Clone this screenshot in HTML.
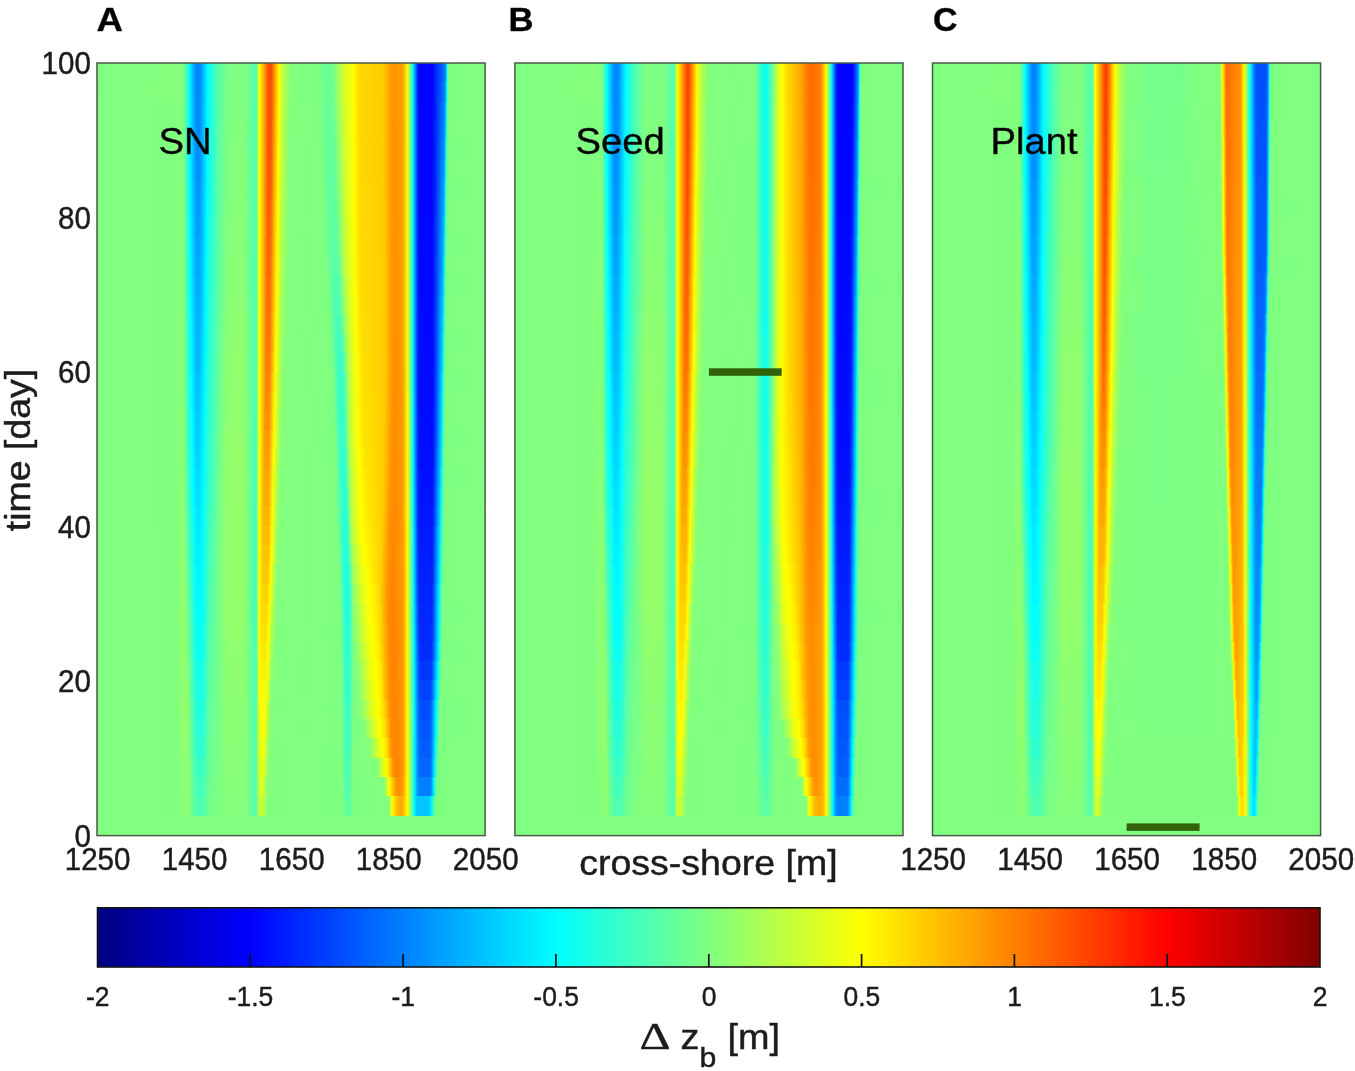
<!DOCTYPE html>
<html lang="en"><head><meta charset="utf-8"><title>Bed level change</title>
<style>
html,body{margin:0;padding:0;background:#fff}
#fig{position:relative;width:1355px;height:1071px;overflow:hidden;background:#fff;font-family:"Liberation Sans",sans-serif}
.pn{position:absolute;top:63px;width:388.1px;height:772.6px;background:#80ff80}
.pn i{position:absolute;left:0;width:100%;display:block}
svg{position:absolute;left:0;top:0}
svg text{font-family:"Liberation Sans",sans-serif;stroke:#1c1c1c;stroke-width:.45px}
</style></head><body>
<div id="fig">
<div class="pn" style="left:97.0px"><i style="top:733px;height:20px;background:linear-gradient(90deg,#80ff80 0%,#80ff7f 20.87%,#8bff74 23.32%,#87ff78 23.71%,#53ffac 25.51%,#4dffb2 26.54%,#52ffad 27.57%,#6eff91 28.73%,#76ff89 29.37%,#85ff7a 33.63%,#86ff79 37.23%,#7fff80 38.65%,#5dffa2 40.07%,#5fa 40.71%,#59ffa6 40.97%,#62ff9d 41.1%,#af5 41.61%,#c3ff3c 41.87%,#cf3 42.26%,#c6ff39 42.64%,#91ff6e 43.67%,#80ff7f 44.45%,#7fff80 62.74%,#79ff86 63.26%,#5fffa0 64.16%,#5affa5 64.8%,#5fffa0 65.19%,#79ff86 65.83%,#7fff80 66.22%,#81ff7e 74.98%,#8bff74 75.24%,#9f6 75.37%,#edff12 75.88%,#fbff04 76.01%,#fff800 76.14%,#ffb400 77.56%,#ffa900 78.46%,#ffad00 78.72%,#ffba00 78.97%,#fffc00 79.88%,#e9ff16 80.13%,#adff52 80.65%,#89ff76 80.91%,#0cfff3 81.68%,#00f9ff 81.81%,#00d1ff 82.2%,#00c8ff 82.45%,#00c7ff 85.29%,#00d1ff 85.8%,#00fcff 86.32%,#0efff1 86.45%,#68ff97 86.96%,#75ff8a 87.09%,#7fff80 87.35%,#80ff80 99.97%)"></i><i style="top:714px;height:19px;background:linear-gradient(90deg,#80ff80 0%,#80ff7f 20.74%,#8dff72 23.32%,#87ff78 23.71%,#4cffb3 25.38%,#42ffbd 26.54%,#49ffb6 27.57%,#69ff96 28.73%,#73ff8c 29.37%,#86ff79 33.63%,#87ff78 37.23%,#7fff80 38.65%,#5cffa3 40.07%,#53ffac 40.71%,#58ffa7 40.97%,#62ff9d 41.1%,#72ff8d 41.23%,#b2ff4d 41.61%,#cfff30 41.87%,#d8ff27 42.13%,#d9ff26 42.39%,#d3ff2c 42.77%,#9bff64 43.67%,#8f7 44.19%,#80ff7f 44.58%,#7fff80 62.74%,#7bff84 63.13%,#57ffa8 64.16%,#52ffad 64.8%,#58ffa7 65.19%,#78ff87 65.83%,#7fff80 66.22%,#81ff7e 73.82%,#94ff6b 74.21%,#df2 74.85%,#feff01 75.24%,#ff9d00 76.91%,#ff9300 77.3%,#ff8e00 77.94%,#ff9700 78.59%,#ffa600 78.97%,#fff900 79.88%,#f8ff07 80.01%,#adff52 80.65%,#89ff76 80.91%,#0bfff4 81.68%,#00f7ff 81.81%,#00a8ff 82.45%,#008eff 82.71%,#0082ff 82.97%,#007fff 83.74%,#0080ff 85.54%,#0085ff 85.93%,#008dff 86.06%,#0af 86.32%,#00f6ff 86.83%,#0dfff2 86.96%,#59ffa6 87.35%,#6cff93 87.48%,#78ff87 87.61%,#7fff80 87.86%,#80ff80 99.97%)"></i><i style="top:695px;height:19px;background:linear-gradient(90deg,#80ff80 0%,#80ff7f 20.74%,#8fff70 23.19%,#8aff75 23.58%,#43ffbc 25.38%,#37ffc8 26.41%,#3fffc0 27.57%,#65ff9a 28.73%,#70ff8f 29.37%,#8f7 33.63%,#89ff76 37.23%,#7fff80 38.65%,#5bffa4 40.07%,#52ffad 40.71%,#58ffa7 40.97%,#62ff9d 41.1%,#73ff8c 41.23%,#baff45 41.61%,#daff25 41.87%,#e4ff1b 42.13%,#e5ff1a 42.51%,#daff25 43.03%,#a9ff56 43.67%,#96ff69 44.06%,#86ff79 44.45%,#80ff7f 44.83%,#7fff80 62.74%,#7aff85 63.13%,#50ffaf 64.16%,#4affb5 64.8%,#51ffae 65.19%,#7f8 65.83%,#7fff80 66.22%,#83ff7c 72.15%,#95ff6a 72.53%,#e3ff1c 73.82%,#fdff02 74.47%,#ffde00 75.24%,#ff9b00 76.14%,#ff8d00 76.4%,#ff8100 77.3%,#ff9400 78.85%,#ffb100 79.23%,#fff700 79.88%,#f8ff07 80.01%,#acff53 80.65%,#8f7 80.91%,#0afff5 81.68%,#00f6ff 81.81%,#0094ff 82.58%,#006fff 82.97%,#0067ff 83.23%,#06f 83.87%,#006aff 85.93%,#0071ff 86.06%,#008cff 86.32%,#00fdff 87.09%,#14ffeb 87.22%,#5effa1 87.61%,#6fff90 87.74%,#79ff86 87.86%,#7fff80 88.12%,#80ff80 99.97%)"></i><i style="top:675px;height:20px;background:linear-gradient(90deg,#80ff80 0%,#80ff7f 20.61%,#90ff6f 22.42%,#91ff6e 23.19%,#89ff76 23.58%,#63ff9c 24.35%,#35ffca 25.51%,#2dffd2 26.02%,#2cffd3 26.67%,#36ffc9 27.57%,#5cffa3 28.6%,#6cff93 29.25%,#89ff76 33.75%,#8aff75 37.23%,#84ff7b 38.26%,#7dff82 38.78%,#58ffa7 40.2%,#52ffad 40.84%,#62ff9d 41.1%,#74ff8b 41.23%,#bfff40 41.61%,#e2ff1d 41.87%,#edff12 42.13%,#ef1 42.64%,#e3ff1c 43.16%,#a7ff58 43.93%,#89ff76 44.58%,#80ff7f 44.96%,#7fff80 62.74%,#78ff87 63.13%,#4cffb3 64.03%,#42ffbd 64.67%,#4affb5 65.19%,#75ff8a 65.83%,#7eff81 66.09%,#83ff7c 70.21%,#e2ff1d 72.66%,#fdff02 73.69%,#ffe200 74.59%,#ff9000 75.88%,#ff8100 76.91%,#ff9500 78.85%,#ffb100 79.23%,#fff700 79.88%,#f8ff07 80.01%,#acff53 80.65%,#8f7 80.91%,#09fff6 81.68%,#00f5ff 81.81%,#0091ff 82.58%,#0069ff 82.97%,#005fff 83.23%,#005dff 84%,#005eff 85.54%,#0064ff 85.93%,#0085ff 86.32%,#00fcff 87.22%,#12ffed 87.35%,#6cff93 87.86%,#7f8 87.99%,#7fff80 88.25%,#80ff80 99.97%)"></i><i style="top:656px;height:19px;background:linear-gradient(90deg,#80ff80 0%,#80ff7f 20.61%,#92ff6d 22.29%,#93ff6c 23.06%,#8dff72 23.45%,#5effa1 24.35%,#2effd1 25.51%,#25ffda 26.54%,#31ffce 27.57%,#59ffa6 28.6%,#69ff96 29.25%,#8bff74 33.75%,#8cff73 37.23%,#85ff7a 38.26%,#80ff7f 38.65%,#57ffa8 40.2%,#51ffae 40.84%,#61ff9e 41.1%,#74ff8b 41.23%,#c5ff3a 41.61%,#e9ff16 41.87%,#f5ff0a 42.13%,#f6ff09 42.77%,#edff12 43.29%,#a5ff5a 44.19%,#8cff73 44.7%,#81ff7e 45.09%,#7fff80 62.74%,#76ff89 63.13%,#46ffb9 64.03%,#3bffc4 64.67%,#45ffba 65.19%,#74ff8b 65.83%,#7eff81 66.09%,#82ff7d 68.93%,#e3ff1c 71.76%,#ff0 73.05%,#ffdf00 74.21%,#ff8e00 75.75%,#ff8100 76.78%,#ff9500 78.85%,#ffb100 79.23%,#fff700 79.88%,#f8ff07 80.01%,#acff53 80.65%,#87ff78 80.91%,#08fff7 81.68%,#00f4ff 81.81%,#007dff 82.71%,#0063ff 82.97%,#0057ff 83.23%,#05f 84%,#05f 85.54%,#005cff 85.93%,#007fff 86.32%,#00fcff 87.35%,#0ffff0 87.48%,#67ff98 87.99%,#75ff8a 88.12%,#7eff81 88.38%,#80ff80 99.97%)"></i><i style="top:637px;height:19px;background:linear-gradient(90deg,#80ff80 0%,#80ff7f 20.61%,#95ff6a 22.29%,#96ff69 22.93%,#8bff74 23.45%,#60ff9f 24.22%,#27ffd8 25.51%,#1fffe0 26.02%,#1effe1 26.54%,#2bffd4 27.57%,#5fa 28.6%,#67ff98 29.25%,#8cff73 33.75%,#89ff76 37.88%,#80ff7f 38.65%,#56ffa9 40.2%,#50ffaf 40.84%,#61ff9e 41.1%,#75ff8a 41.23%,#caff35 41.61%,#f1ff0e 41.87%,#fdff02 42.13%,#ff0 42.9%,#f7ff08 43.42%,#af5 44.32%,#89ff76 44.96%,#80ff7f 45.35%,#7fff80 62.61%,#74ff8b 63.13%,#40ffbf 64.03%,#35ffca 64.67%,#3fffc0 65.19%,#73ff8c 65.83%,#7eff81 66.09%,#85ff7a 67.89%,#e0ff1f 70.86%,#ff0 72.4%,#ffdf00 73.82%,#ff8d00 75.62%,#ff8100 76.66%,#ff9500 78.85%,#ffb100 79.23%,#fff700 79.88%,#f8ff07 80.01%,#9aff65 80.78%,#07fff8 81.68%,#00f3ff 81.81%,#0079ff 82.71%,#005dff 82.97%,#004fff 83.23%,#004cff 84%,#004dff 85.54%,#05f 85.93%,#0078ff 86.32%,#00fcff 87.48%,#0dfff2 87.61%,#63ff9c 88.12%,#72ff8d 88.25%,#7eff81 88.51%,#80ff80 99.97%)"></i><i style="top:617px;height:20px;background:linear-gradient(90deg,#80ff80 0%,#80ff7f 20.48%,#95ff6a 22.67%,#8cff73 23.32%,#4fffb0 24.48%,#20ffdf 25.51%,#17ffe8 26.41%,#26ffd9 27.57%,#52ffad 28.6%,#64ff9b 29.25%,#8eff71 33.75%,#8cff73 37.62%,#83ff7c 38.52%,#58ffa7 40.07%,#4fffb0 40.84%,#60ff9f 41.1%,#74ff8b 41.23%,#e3ff1c 41.74%,#ff0 42%,#fff700 42.39%,#fffb00 43.42%,#f5ff0a 43.67%,#b9ff46 44.32%,#a7ff58 44.58%,#8dff72 45.09%,#81ff7e 45.48%,#7fff80 62.61%,#72ff8d 63.13%,#3cffc3 64.03%,#31ffce 64.67%,#3cffc3 65.19%,#73ff8c 65.83%,#7dff82 66.09%,#83ff7c 67.38%,#e8ff17 70.73%,#ff0 72.02%,#fff600 72.92%,#fe0 73.31%,#ffc800 73.95%,#ff9000 75.37%,#ff8100 76.53%,#ff9500 78.85%,#ffb100 79.23%,#fff700 79.88%,#f8ff07 80.01%,#97ff68 80.78%,#01fffe 81.68%,#0081ff 82.58%,#0053ff 82.97%,#0045ff 83.23%,#0042ff 84%,#0042ff 85.67%,#004bff 86.06%,#0060ff 86.32%,#00f4ff 87.61%,#06fff9 87.74%,#6eff91 88.38%,#79ff86 88.51%,#7fff80 88.77%,#80ff80 99.97%)"></i><i style="top:598px;height:19px;background:linear-gradient(90deg,#80ff80 0%,#80ff7f 20.48%,#94ff6b 22.55%,#87ff78 23.32%,#19ffe6 25.51%,#10ffef 26.41%,#20ffdf 27.57%,#4effb1 28.6%,#61ff9e 29.25%,#8fff70 33.75%,#8eff71 37.62%,#84ff7b 38.52%,#57ffa8 40.07%,#4effb1 40.84%,#5fffa0 41.1%,#74ff8b 41.23%,#e3ff1c 41.74%,#f6ff09 41.87%,#fffb00 42%,#fff100 42.26%,#fff000 42.51%,#fff100 43.42%,#fff900 43.67%,#fcff03 43.8%,#acff53 44.7%,#8cff73 45.35%,#81ff7e 45.74%,#7fff80 62.61%,#7f8 63%,#37ffc8 64.03%,#2dffd2 64.67%,#39ffc6 65.19%,#79ff86 65.96%,#86ff79 67.12%,#e2ff1d 70.09%,#f9ff06 71.24%,#ff0 71.63%,#fff100 72.92%,#ff9100 75.24%,#ff8600 75.75%,#ff8100 76.53%,#ff9500 78.85%,#ffb100 79.23%,#fff700 79.88%,#f8ff07 80.01%,#a7ff58 80.65%,#80ff7f 80.91%,#10ffef 81.55%,#00faff 81.68%,#0078ff 82.58%,#0049ff 82.97%,#0038ff 83.35%,#0037ff 84%,#0037ff 85.8%,#0041ff 86.19%,#0065ff 86.58%,#00fcff 87.86%,#10ffef 87.99%,#69ff96 88.51%,#76ff89 88.64%,#7fff80 88.89%,#80ff80 99.97%)"></i><i style="top:579px;height:19px;background:linear-gradient(90deg,#80ff80 0%,#80ff7f 20.48%,#93ff6c 22.42%,#87ff78 23.19%,#12ffed 25.51%,#08fff7 26.28%,#17ffe8 27.44%,#4affb5 28.6%,#5dffa2 29.25%,#91ff6e 33.75%,#8fff70 37.62%,#84ff7b 38.52%,#56ffa9 40.07%,#4dffb2 40.84%,#5effa1 41.1%,#73ff8c 41.23%,#e4ff1b 41.74%,#f7ff08 41.87%,#fff900 42%,#ffe900 42.39%,#ffe800 43.29%,#ffed00 43.67%,#fffb00 43.93%,#f8ff07 44.06%,#bf4 44.7%,#a9ff56 44.96%,#8aff75 45.61%,#81ff7e 45.99%,#7fff80 62.61%,#75ff8a 63%,#3fc 64.03%,#29ffd6 64.67%,#35ffca 65.19%,#71ff8e 65.83%,#7dff82 66.09%,#8aff75 66.86%,#e2ff1d 69.7%,#feff01 71.12%,#fff100 72.53%,#ff8e00 75.24%,#ff8100 76.4%,#ff9500 78.85%,#ffb100 79.23%,#fff700 79.88%,#f7ff08 80.01%,#a5ff5a 80.65%,#0afff5 81.55%,#00f4ff 81.68%,#0070ff 82.58%,#003fff 82.97%,#002dff 83.35%,#002cff 84%,#002dff 85.93%,#0037ff 86.32%,#005bff 86.7%,#00f4ff 87.99%,#07fff8 88.12%,#63ff9c 88.64%,#72ff8d 88.77%,#7eff81 89.02%,#80ff80 99.97%)"></i><i style="top:560px;height:19px;background:linear-gradient(90deg,#80ff80 0%,#80ff7f 20.36%,#93ff6c 22.29%,#82ff7d 23.19%,#0bfff4 25.51%,#01fffe 26.28%,#12ffed 27.44%,#46ffb9 28.6%,#59ffa6 29.25%,#84ff7b 32.34%,#92ff6d 33.75%,#92ff6d 37.49%,#85ff7a 38.52%,#5fa 40.07%,#4bffb4 40.84%,#5effa1 41.1%,#72ff8d 41.23%,#caff35 41.61%,#f8ff07 41.87%,#fff700 42%,#ffe600 42.26%,#ffe100 42.51%,#ffe200 43.67%,#fff500 44.06%,#feff01 44.19%,#c1ff3e 44.83%,#aeff51 45.09%,#89ff76 45.86%,#80ff7f 46.25%,#7fff80 62.48%,#7f8 62.87%,#2dffd2 64.03%,#25ffda 64.67%,#3fc 65.19%,#72ff8d 65.83%,#7fff80 66.09%,#e3ff1c 69.31%,#feff01 70.73%,#fe0 72.28%,#ffce00 73.43%,#ff8f00 75.11%,#ff8200 76.27%,#ff9600 78.85%,#ffb200 79.23%,#fff800 79.88%,#f7ff08 80.01%,#a2ff5d 80.65%,#03fffc 81.55%,#0054ff 82.71%,#0037ff 82.97%,#002bff 83.23%,#0029ff 84%,#0029ff 85.93%,#0031ff 86.32%,#0053ff 86.7%,#00f9ff 88.12%,#0efff1 88.25%,#6bff94 88.77%,#7f8 88.89%,#7fff80 89.15%,#80ff80 99.97%)"></i><i style="top:540px;height:20px;background:linear-gradient(90deg,#80ff80 0%,#80ff7f 20.36%,#92ff6d 22.29%,#82ff7d 23.06%,#06fff9 25.51%,#0ff 25.77%,#0ff 26.67%,#14ffeb 27.57%,#43ffbc 28.6%,#56ffa9 29.25%,#85ff7a 32.34%,#94ff6b 33.75%,#93ff6c 37.49%,#85ff7a 38.52%,#54ffab 40.07%,#4affb5 40.84%,#5dffa2 41.1%,#72ff8d 41.23%,#e4ff1b 41.74%,#f8ff07 41.87%,#fff700 42%,#ffe300 42.26%,#ffdb00 42.51%,#ffd900 43.55%,#ffdf00 43.93%,#fff900 44.32%,#f9ff06 44.45%,#c8ff37 44.96%,#acff53 45.35%,#8dff72 45.99%,#81ff7e 46.38%,#7fff80 62.36%,#72ff8d 62.87%,#2cffd3 63.9%,#20ffdf 64.55%,#25ffda 64.93%,#32ffcd 65.19%,#76ff89 65.83%,#8cff73 66.22%,#e3ff1c 68.93%,#feff01 70.34%,#ffec00 72.02%,#ffce00 73.31%,#ff8d00 75.11%,#ff8300 76.14%,#ff9700 78.85%,#ffb200 79.23%,#fff800 79.88%,#f7ff08 80.01%,#9fff60 80.65%,#00fcff 81.55%,#0071ff 82.45%,#003cff 82.84%,#0030ff 82.97%,#0027ff 83.23%,#0026ff 83.87%,#0026ff 85.93%,#002dff 86.32%,#004dff 86.7%,#0ff 88.25%,#60ff9f 88.77%,#70ff8f 88.89%,#7eff81 89.15%,#80ff80 99.97%)"></i><i style="top:521px;height:19px;background:linear-gradient(90deg,#80ff80 0%,#80ff7f 20.36%,#91ff6e 22.29%,#7eff81 23.06%,#57ffa8 23.71%,#01fffe 25.51%,#00f7ff 26.15%,#00fdff 26.8%,#1fe 27.57%,#3bffc4 28.47%,#50ffaf 29.12%,#86ff79 32.34%,#95ff6a 33.75%,#95ff6a 37.49%,#86ff79 38.52%,#53ffac 40.07%,#49ffb6 40.84%,#5cffa3 41.1%,#71ff8e 41.23%,#e4ff1b 41.74%,#f8ff07 41.87%,#fff700 42%,#ffe100 42.26%,#ffd500 42.51%,#ffd100 43.67%,#ffd800 44.06%,#ff0 44.58%,#b0ff4f 45.48%,#8cff73 46.25%,#81ff7e 46.64%,#7fff80 62.36%,#74ff8b 62.74%,#2cffd3 63.77%,#1fffe0 64.16%,#1cffe3 64.55%,#2fd 64.93%,#31ffce 65.19%,#80ff7f 65.83%,#98ff67 66.22%,#e3ff1c 68.54%,#feff01 69.96%,#fff100 71.37%,#ffd400 72.92%,#ff8f00 74.98%,#ff8400 76.01%,#ff9800 78.85%,#ffb300 79.23%,#fff800 79.88%,#f6ff09 80.01%,#b0ff4f 80.52%,#87ff78 80.78%,#0dfff2 81.42%,#00f5ff 81.55%,#0068ff 82.45%,#0035ff 82.84%,#0025ff 83.1%,#0023ff 83.87%,#0023ff 85.93%,#0029ff 86.32%,#0046ff 86.7%,#00f4ff 88.25%,#08fff7 88.38%,#69ff96 88.89%,#76ff89 89.02%,#7fff80 89.28%,#80ff80 99.97%)"></i><i style="top:502px;height:19px;background:linear-gradient(90deg,#80ff80 0%,#80ff7f 20.23%,#91ff6e 22.16%,#7fff80 22.93%,#57ffa8 23.58%,#01fffe 25.38%,#00f3ff 26.15%,#0ff 27.05%,#0ffff0 27.57%,#39ffc6 28.47%,#4dffb2 29.12%,#86ff79 32.34%,#95ff6a 33.75%,#95ff6a 37.49%,#86ff79 38.52%,#52ffad 40.07%,#48ffb7 40.84%,#5bffa4 41.1%,#70ff8f 41.23%,#e4ff1b 41.74%,#f8ff07 41.87%,#fff700 42%,#ffd800 42.39%,#ffcd00 42.64%,#ffc900 43.67%,#ffd100 44.19%,#fff900 44.7%,#f9ff06 44.83%,#bfff40 45.48%,#aeff51 45.74%,#8bff74 46.51%,#81ff7e 46.9%,#7fff80 62.23%,#72ff8d 62.61%,#2cffd3 63.64%,#21ffde 64.03%,#1effe1 64.42%,#24ffdb 64.8%,#35ffca 65.06%,#8f7 65.7%,#9cff63 65.96%,#e2ff1d 68.02%,#feff01 69.44%,#ffd000 73.18%,#ff8f00 75.11%,#ff8500 76.14%,#f90 78.85%,#ffb400 79.23%,#fff900 79.88%,#f6ff09 80.01%,#b0ff4f 80.52%,#85ff7a 80.78%,#0bfff4 81.42%,#00f3ff 81.55%,#0063ff 82.45%,#0030ff 82.84%,#02f 83.1%,#001fff 83.87%,#0020ff 86.06%,#002aff 86.45%,#004dff 86.83%,#00faff 88.38%,#10ffef 88.51%,#5dffa2 88.89%,#6fff90 89.02%,#79ff86 89.15%,#7fff80 89.41%,#80ff80 99.97%)"></i><i style="top:482px;height:20px;background:linear-gradient(90deg,#80ff80 0%,#80ff7f 20.23%,#91ff6e 22.16%,#81ff7e 22.8%,#51ffae 23.58%,#01fffe 25.25%,#00f3ff 25.64%,#0ef 26.02%,#00fcff 27.05%,#0dfff2 27.57%,#36ffc9 28.47%,#49ffb6 29.12%,#83ff7c 32.21%,#95ff6a 33.75%,#95ff6a 37.49%,#86ff79 38.52%,#51ffae 40.07%,#47ffb8 40.84%,#5affa5 41.1%,#6fff90 41.23%,#e4ff1b 41.74%,#f8ff07 41.87%,#fff700 42%,#ffd700 42.39%,#ffc400 42.77%,#ffc200 43.93%,#ffcb00 44.32%,#ff0 44.96%,#b3ff4c 45.86%,#8aff75 46.77%,#81ff7e 47.15%,#7fff80 61.97%,#70ff8f 62.48%,#2dffd2 63.51%,#21ffde 64.29%,#24ffdb 64.55%,#31ffce 64.8%,#4cffb3 65.06%,#91ff6e 65.58%,#a6ff59 65.83%,#e4ff1b 67.64%,#ff0 68.93%,#ffcf00 73.31%,#ff9300 75.11%,#ff8600 76.27%,#ff9a00 78.85%,#ffb500 79.23%,#fff900 79.88%,#f6ff09 80.01%,#afff50 80.52%,#84ff7b 80.78%,#08fff7 81.42%,#00f0ff 81.55%,#005dff 82.45%,#002bff 82.84%,#001eff 83.1%,#001cff 83.87%,#001dff 86.06%,#0025ff 86.45%,#0053ff 86.96%,#00d0ff 88.12%,#02fffd 88.51%,#67ff98 89.02%,#75ff8a 89.15%,#7fff80 89.41%,#80ff80 99.97%)"></i><i style="top:463px;height:19px;background:linear-gradient(90deg,#80ff80 0%,#80ff7f 20.23%,#90ff6f 22.16%,#7dff82 22.8%,#4affb5 23.58%,#01fffe 25.12%,#00edff 25.64%,#00e9ff 26.02%,#00edff 26.54%,#00fcff 27.18%,#0afff5 27.57%,#37ffc8 28.6%,#46ffb9 29.12%,#83ff7c 32.21%,#95ff6a 33.75%,#95ff6a 37.49%,#86ff79 38.52%,#52ffad 40.07%,#48ffb7 40.84%,#5bffa4 41.1%,#70ff8f 41.23%,#e4ff1b 41.74%,#f8ff07 41.87%,#fff700 42%,#ffc500 42.64%,#ffbd00 42.9%,#fb0 43.29%,#ffbc00 44.06%,#ffc200 44.32%,#fff500 44.96%,#fdff02 45.09%,#c4ff3b 45.74%,#abff54 46.12%,#8aff75 46.9%,#81ff7e 47.28%,#7fff80 61.84%,#75ff8a 62.23%,#2effd1 63.39%,#23ffdc 64.03%,#2cffd3 64.42%,#3cffc3 64.67%,#57ffa8 64.93%,#9bff64 65.45%,#b0ff4f 65.7%,#e4ff1b 67.12%,#ff0 68.41%,#ffed00 69.83%,#ffcf00 73.43%,#ff9400 75.24%,#ff8700 76.4%,#ff9b00 78.85%,#ffb500 79.23%,#fff900 79.88%,#e5ff1a 80.13%,#9aff65 80.65%,#06fff9 81.42%,#0ef 81.55%,#04f 82.58%,#0026ff 82.84%,#001bff 83.1%,#0019ff 83.74%,#001aff 86.06%,#0020ff 86.45%,#003fff 86.83%,#00f4ff 88.51%,#0afff5 88.64%,#5bffa4 89.02%,#6eff91 89.15%,#79ff86 89.28%,#7fff80 89.54%,#80ff80 99.97%)"></i><i style="top:444px;height:19px;background:linear-gradient(90deg,#80ff80 0%,#80ff7f 20.1%,#8fff70 22.16%,#80ff7f 22.67%,#43ffbc 23.58%,#01fffe 24.99%,#00ebff 25.51%,#00e4ff 26.02%,#00e9ff 26.54%,#00fdff 27.31%,#2fffd0 28.47%,#42ffbd 29.12%,#83ff7c 32.21%,#95ff6a 33.75%,#95ff6a 37.49%,#86ff79 38.52%,#53ffac 40.07%,#4affb5 40.84%,#5cffa3 41.1%,#71ff8e 41.23%,#e4ff1b 41.74%,#f8ff07 41.87%,#fff600 42%,#ffcd00 42.51%,#ffb800 42.9%,#ffb400 43.8%,#ffb600 44.19%,#ffc100 44.45%,#fff700 45.09%,#fbff04 45.22%,#b2ff4d 46.12%,#8aff75 47.02%,#81ff7e 47.41%,#7fff80 61.58%,#73ff8c 62.1%,#2fffd0 63.26%,#25ffda 63.9%,#2effd1 64.29%,#3effc1 64.55%,#59ffa6 64.8%,#9cff63 65.32%,#b8ff47 65.7%,#e3ff1c 66.86%,#ff0 68.15%,#ffea00 69.7%,#ffce00 73.56%,#ff9400 75.37%,#f80 76.53%,#ff9b00 78.85%,#ffb600 79.23%,#fff900 79.88%,#e5ff1a 80.13%,#9f6 80.65%,#04fffb 81.42%,#0053ff 82.45%,#002eff 82.71%,#02f 82.84%,#0018ff 83.1%,#0016ff 83.74%,#0017ff 86.06%,#001cff 86.45%,#002cff 86.7%,#0045ff 86.96%,#00cbff 88.25%,#00fcff 88.64%,#15ffea 88.77%,#64ff9b 89.15%,#74ff8b 89.28%,#7fff80 89.54%,#80ff80 99.97%)"></i><i style="top:424px;height:20px;background:linear-gradient(90deg,#80ff80 0%,#80ff7f 20.1%,#8fff70 22.16%,#7dff82 22.67%,#3cffc3 23.58%,#0ff 24.86%,#00e5ff 25.51%,#00deff 26.02%,#00e7ff 26.67%,#0ff 27.44%,#2cffd3 28.47%,#3affc5 28.99%,#82ff7d 32.21%,#95ff6a 33.75%,#94ff6b 37.49%,#86ff79 38.52%,#54ffab 40.07%,#4bffb4 40.84%,#5dffa2 41.1%,#72ff8d 41.23%,#e4ff1b 41.74%,#f8ff07 41.87%,#fff600 42%,#fc0 42.51%,#ffb400 42.9%,#ffae00 43.16%,#ffad00 43.93%,#ffb800 44.45%,#fff900 45.22%,#f9ff06 45.35%,#b1ff4e 46.25%,#8bff74 47.15%,#81ff7e 47.54%,#7fff80 61.45%,#73ff8c 61.97%,#31ffce 63.13%,#27ffd8 63.77%,#2fffd0 64.16%,#3fffc0 64.42%,#5affa5 64.67%,#9dff62 65.19%,#b2ff4d 65.45%,#e3ff1c 66.74%,#feff01 67.89%,#ffe900 69.44%,#ffd000 73.56%,#ff9500 75.5%,#ff8900 76.66%,#ff9c00 78.85%,#ffb700 79.23%,#fff900 79.88%,#e4ff1b 80.13%,#98ff67 80.65%,#02fffd 81.42%,#0051ff 82.45%,#002cff 82.71%,#001fff 82.84%,#0015ff 83.1%,#0013ff 83.74%,#0014ff 86.19%,#001dff 86.58%,#003eff 86.96%,#00c2ff 88.25%,#05fffa 88.77%,#58ffa7 89.15%,#6cff93 89.28%,#78ff87 89.41%,#7fff80 89.67%,#80ff80 99.97%)"></i><i style="top:405px;height:19px;background:linear-gradient(90deg,#80ff80 0%,#80ff7f 20.1%,#8eff71 22.03%,#81ff7e 22.55%,#35ffca 23.58%,#00feff 24.74%,#00dfff 25.51%,#00d9ff 25.9%,#00e0ff 26.54%,#00fcff 27.44%,#3fc 28.86%,#81ff7e 32.21%,#94ff6b 33.75%,#94ff6b 37.49%,#85ff7a 38.52%,#52ffad 40.2%,#4cffb3 40.84%,#5effa1 41.1%,#72ff8d 41.23%,#e4ff1b 41.74%,#f8ff07 41.87%,#fff600 42%,#ffc200 42.64%,#ffab00 43.03%,#ffa500 43.93%,#ffb000 44.45%,#fffb00 45.35%,#b1ff4e 46.38%,#8bff74 47.28%,#81ff7e 47.67%,#7fff80 61.32%,#73ff8c 61.84%,#37ffc8 62.87%,#29ffd6 63.64%,#31ffce 64.03%,#40ffbf 64.29%,#9dff62 65.06%,#b1ff4e 65.32%,#e4ff1b 66.61%,#ff0 67.77%,#ffe700 69.31%,#ffcf00 73.69%,#ff9500 75.62%,#ff8a00 76.66%,#ff9d00 78.85%,#ffb700 79.23%,#fff900 79.88%,#f5ff0a 80.01%,#acff53 80.52%,#7fff80 80.78%,#0ff 81.42%,#0064ff 82.32%,#002aff 82.71%,#001dff 82.84%,#0012ff 83.1%,#0010ff 83.74%,#01f 86.19%,#0018ff 86.58%,#0037ff 86.96%,#00b9ff 88.25%,#00f6ff 88.77%,#0ffff0 88.89%,#62ff9d 89.28%,#73ff8c 89.41%,#7eff81 89.67%,#80ff80 99.97%)"></i><i style="top:386px;height:19px;background:linear-gradient(90deg,#80ff80 0%,#80ff7f 20.1%,#8eff71 22.03%,#80ff7f 22.55%,#3fc 23.58%,#01fffe 24.61%,#00daff 25.51%,#00d4ff 25.9%,#00dbff 26.54%,#00fdff 27.57%,#25ffda 28.47%,#34ffcb 28.99%,#7fff80 32.21%,#94ff6b 33.75%,#94ff6b 37.49%,#85ff7a 38.52%,#53ffac 40.2%,#4dffb2 40.84%,#5effa1 41.1%,#73ff8c 41.23%,#e4ff1b 41.74%,#f8ff07 41.87%,#fff600 42%,#ffa800 43.03%,#ff9f00 43.42%,#ff9f00 44.06%,#ffa200 44.32%,#ffaf00 44.58%,#fffe00 45.48%,#b1ff4e 46.51%,#81ff7e 47.8%,#7fff80 61.2%,#72ff8d 61.71%,#38ffc7 62.74%,#2cffd3 63.51%,#32ffcd 63.9%,#41ffbe 64.16%,#9eff61 64.93%,#b1ff4e 65.19%,#e1ff1e 66.35%,#feff01 67.51%,#ffe600 69.05%,#ffce00 73.82%,#ff9500 75.75%,#ff8b00 76.78%,#ff9e00 78.85%,#ffb800 79.23%,#fffa00 79.88%,#f5ff0a 80.01%,#abff54 80.52%,#00fdff 81.42%,#0062ff 82.32%,#0027ff 82.71%,#001aff 82.84%,#000fff 83.1%,#000dff 83.74%,#000eff 86.19%,#0014ff 86.58%,#0030ff 86.96%,#00bdff 88.38%,#00d8ff 88.64%,#00feff 88.89%,#5fa 89.28%,#6bff94 89.41%,#78ff87 89.54%,#7fff80 89.8%,#80ff80 99.97%)"></i><i style="top:367px;height:19px;background:linear-gradient(90deg,#80ff80 0%,#80ff7f 20.1%,#8dff72 22.03%,#7eff81 22.55%,#30ffcf 23.58%,#03fffc 24.48%,#00d5ff 25.51%,#00cfff 25.9%,#00daff 26.67%,#0ff 27.7%,#23ffdc 28.47%,#32ffcd 28.99%,#7eff81 32.21%,#93ff6c 33.75%,#93ff6c 37.49%,#84ff7b 38.52%,#53ffac 40.2%,#4dffb2 40.84%,#5fffa0 41.1%,#73ff8c 41.23%,#e4ff1b 41.74%,#f8ff07 41.87%,#fff600 42%,#ffa700 43.03%,#ff9b00 43.29%,#ff9700 43.67%,#ff9800 44.19%,#ff9e00 44.45%,#ffaf00 44.7%,#fff400 45.48%,#feff01 45.61%,#b0ff4f 46.64%,#82ff7d 47.93%,#7fff80 61.07%,#7f8 61.45%,#39ffc6 62.61%,#2effd1 63.39%,#34ffcb 63.77%,#43ffbc 64.03%,#91ff6e 64.67%,#b1ff4e 65.06%,#e2ff1d 66.22%,#fffe00 67.38%,#ffe300 68.93%,#ffcf00 73.82%,#ff9600 75.75%,#ff8c00 76.78%,#ff9f00 78.85%,#ffb900 79.23%,#fffa00 79.88%,#f5ff0a 80.01%,#abff54 80.52%,#00fbff 81.42%,#0061ff 82.32%,#0026ff 82.71%,#0019ff 82.84%,#000eff 83.1%,#000cff 83.74%,#000cff 86.19%,#0012ff 86.58%,#0021ff 86.83%,#0051ff 87.35%,#00cfff 88.64%,#00f2ff 88.89%,#0cfff3 89.02%,#62ff9d 89.41%,#73ff8c 89.54%,#7eff81 89.8%,#80ff80 99.97%)"></i><i style="top:347px;height:20px;background:linear-gradient(90deg,#80ff80 0%,#80ff7f 20.1%,#8cff73 22.03%,#7dff82 22.55%,#2effd1 23.58%,#0ff 24.48%,#00d5ff 25.38%,#00caff 25.9%,#00d5ff 26.67%,#00fcff 27.7%,#25ffda 28.6%,#49ffb6 30.02%,#7dff82 32.21%,#92ff6d 33.75%,#92ff6d 37.49%,#84ff7b 38.52%,#54ffab 40.2%,#4effb1 40.84%,#60ff9f 41.1%,#74ff8b 41.23%,#e4ff1b 41.74%,#f8ff07 41.87%,#fff600 42%,#ff9d00 43.16%,#ff9300 43.42%,#ff9000 43.93%,#ff9200 44.32%,#ff9d00 44.58%,#fff600 45.61%,#fdff02 45.74%,#b0ff4f 46.77%,#82ff7d 48.05%,#7fff80 60.94%,#76ff89 61.32%,#3affc5 62.48%,#30ffcf 63.26%,#35ffca 63.64%,#42ffbd 63.9%,#8fff70 64.55%,#aeff51 64.93%,#e5ff1a 66.22%,#fffe00 67.25%,#ffe200 68.8%,#ffce00 73.95%,#ff9600 75.88%,#ff8c00 76.91%,#ff9f00 78.85%,#ffb900 79.23%,#fffa00 79.88%,#f5ff0a 80.01%,#af5 80.52%,#7cff83 80.78%,#13ffec 81.29%,#00f9ff 81.42%,#005fff 82.32%,#0024ff 82.71%,#0018ff 82.84%,#000dff 83.1%,#000cff 83.74%,#000cff 86.32%,#0016ff 86.7%,#0035ff 87.09%,#00c8ff 88.64%,#00e7ff 88.89%,#00fdff 89.02%,#58ffa7 89.41%,#6dff92 89.54%,#78ff87 89.67%,#7fff80 89.93%,#80ff80 99.97%)"></i><i style="top:328px;height:19px;background:linear-gradient(90deg,#80ff80 0%,#80ff7f 20.1%,#8bff74 22.03%,#87ff78 22.29%,#7cff83 22.55%,#2bffd4 23.58%,#02fffd 24.35%,#00d0ff 25.38%,#00c4ff 25.9%,#00d0ff 26.67%,#00feff 27.83%,#26ffd9 28.73%,#4affb5 30.15%,#7bff84 32.21%,#91ff6e 33.75%,#92ff6d 37.49%,#83ff7c 38.52%,#5fa 40.2%,#4fffb0 40.84%,#60ff9f 41.1%,#74ff8b 41.23%,#cbff34 41.61%,#f8ff07 41.87%,#fff600 42%,#ff9400 43.29%,#ff8b00 43.55%,#ff8900 43.93%,#ff8b00 44.32%,#ff9500 44.58%,#fff800 45.74%,#fbff04 45.86%,#afff50 46.9%,#82ff7d 48.18%,#7fff80 60.81%,#76ff89 61.2%,#3bffc4 62.36%,#32ffcd 63.13%,#37ffc8 63.51%,#42ffbd 63.77%,#5affa5 64.03%,#8aff75 64.42%,#a8ff57 64.8%,#e1ff1e 66.09%,#feff01 67.12%,#ffe000 68.67%,#ffce00 73.95%,#ff9700 75.88%,#ff8c00 76.91%,#ff9f00 78.85%,#ffb900 79.23%,#fffa00 79.88%,#e3ff1c 80.13%,#a9ff56 80.52%,#7aff85 80.78%,#10ffef 81.29%,#00f7ff 81.42%,#005dff 82.32%,#0023ff 82.71%,#0016ff 82.84%,#000cff 83.1%,#000bff 83.74%,#000bff 86.32%,#0015ff 86.7%,#0032ff 87.09%,#00c1ff 88.64%,#00deff 88.89%,#00f2ff 89.02%,#0efff1 89.15%,#4dffb2 89.41%,#6f9 89.54%,#76ff89 89.67%,#7fff80 89.93%,#80ff80 99.97%)"></i><i style="top:309px;height:19px;background:linear-gradient(90deg,#80ff80 0%,#80ff7f 20.1%,#8aff75 22.03%,#86ff79 22.29%,#7aff85 22.55%,#29ffd6 23.58%,#00feff 24.35%,#00cbff 25.38%,#00bfff 25.9%,#00cbff 26.67%,#00faff 27.83%,#24ffdb 28.73%,#4cffb3 30.28%,#7cff83 32.34%,#90ff6f 33.75%,#91ff6e 37.49%,#83ff7c 38.52%,#5fa 40.2%,#50ffaf 40.84%,#61ff9e 41.1%,#75ff8a 41.23%,#cbff34 41.61%,#f8ff07 41.87%,#fff600 42%,#ff9300 43.29%,#ff8300 43.67%,#ff8200 44.06%,#ff8600 44.45%,#ff9400 44.7%,#fffb00 45.86%,#afff50 47.02%,#89ff76 48.05%,#81ff7e 48.44%,#7fff80 60.55%,#75ff8a 61.07%,#3cffc3 62.23%,#34ffcb 63%,#39ffc6 63.39%,#4fb 63.64%,#59ffa6 63.9%,#90ff6f 64.42%,#a8ff57 64.8%,#e3ff1c 66.09%,#fffe00 67.12%,#ffde00 68.67%,#ffcd00 74.08%,#ff9600 76.01%,#ff8d00 77.04%,#ffa000 78.85%,#ffb900 79.23%,#fffa00 79.88%,#e3ff1c 80.13%,#a8ff57 80.52%,#0efff1 81.29%,#00f5ff 81.42%,#005bff 82.32%,#0021ff 82.71%,#0015ff 82.84%,#000cff 83.1%,#000aff 83.74%,#000bff 86.32%,#0013ff 86.7%,#002fff 87.09%,#00c7ff 88.77%,#00e7ff 89.02%,#01fffe 89.15%,#5cffa3 89.54%,#6fff90 89.67%,#7eff81 89.93%,#80ff80 99.97%)"></i><i style="top:289px;height:20px;background:linear-gradient(90deg,#80ff80 0%,#80ff7f 20.1%,#89ff76 22.03%,#85ff7a 22.29%,#79ff86 22.55%,#30ffcf 23.45%,#02fffd 24.22%,#00c6ff 25.38%,#00baff 25.9%,#00bdff 26.28%,#00caff 26.8%,#00feff 27.96%,#21ffde 28.73%,#4bffb4 30.28%,#7bff84 32.34%,#90ff6f 33.75%,#91ff6e 37.49%,#82ff7d 38.52%,#56ffa9 40.2%,#51ffae 40.84%,#61ff9e 41.1%,#75ff8a 41.23%,#e4ff1b 41.74%,#f8ff07 41.87%,#fff600 42%,#ff8900 43.42%,#ff7e00 43.67%,#ff7b00 44.06%,#ff7e00 44.45%,#ff8b00 44.7%,#fffd00 45.99%,#f7ff08 46.12%,#afff50 47.15%,#89ff76 48.18%,#81ff7e 48.57%,#7fff80 60.29%,#75ff8a 60.81%,#41ffbe 61.97%,#39ffc6 62.74%,#40ffbf 63.26%,#4cffb3 63.51%,#8bff74 64.16%,#af5 64.67%,#e3ff1c 65.96%,#fffe00 66.99%,#ffde00 68.54%,#ffcd00 74.08%,#ff9700 76.01%,#ff8d00 77.04%,#ffa000 78.85%,#ffba00 79.23%,#fffa00 79.88%,#e3ff1c 80.13%,#a8ff57 80.52%,#0efff1 81.29%,#00f4ff 81.42%,#005aff 82.32%,#0021ff 82.71%,#0015ff 82.84%,#000bff 83.1%,#000aff 83.74%,#000aff 86.32%,#0012ff 86.7%,#002eff 87.09%,#00beff 88.77%,#00dbff 89.02%,#00f1ff 89.15%,#0ffff0 89.28%,#50ffaf 89.54%,#69ff96 89.67%,#7f8 89.8%,#7fff80 90.05%,#80ff80 99.97%)"></i><i style="top:270px;height:19px;background:linear-gradient(90deg,#80ff80 0%,#80ff7f 20.1%,#89ff76 22.03%,#85ff7a 22.29%,#78ff87 22.55%,#25ffda 23.58%,#00feff 24.22%,#00c2ff 25.38%,#00b6ff 25.9%,#00b8ff 26.28%,#00c6ff 26.8%,#00faff 27.96%,#1fffe0 28.73%,#49ffb6 30.28%,#79ff86 32.34%,#8eff71 33.75%,#8fff70 37.49%,#82ff7d 38.52%,#56ffa9 40.2%,#51ffae 40.84%,#61ff9e 41.1%,#75ff8a 41.23%,#e4ff1b 41.74%,#f8ff07 41.87%,#fff600 42%,#f80 43.42%,#ff7b00 43.67%,#ff7600 44.06%,#ff7800 44.45%,#ff8400 44.7%,#feff01 46.12%,#b4ff4b 47.15%,#8dff72 48.18%,#81ff7e 48.7%,#7fff80 60.04%,#79ff86 60.42%,#46ffb9 61.71%,#3fffc0 62.48%,#4fb 63%,#4effb1 63.26%,#93ff6c 64.03%,#aeff51 64.55%,#e4ff1b 65.83%,#fffe00 66.86%,#fd0 68.41%,#ffcd00 74.08%,#f90 75.88%,#ff8d00 77.04%,#ffa000 78.85%,#ffba00 79.23%,#fffa00 79.88%,#e3ff1c 80.13%,#a8ff57 80.52%,#0efff1 81.29%,#00f4ff 81.42%,#005aff 82.32%,#0021ff 82.71%,#0014ff 82.84%,#000aff 83.1%,#0009ff 83.74%,#000aff 86.32%,#0012ff 86.7%,#002dff 87.09%,#00c1ff 88.89%,#00e3ff 89.15%,#00feff 89.28%,#60ff9f 89.67%,#72ff8d 89.8%,#7eff81 90.05%,#80ff80 99.97%)"></i><i style="top:251px;height:19px;background:linear-gradient(90deg,#80ff80 0%,#80ff7f 20.1%,#8f7 22.03%,#84ff7b 22.29%,#7f8 22.55%,#23ffdc 23.58%,#00fbff 24.22%,#00b8ff 25.51%,#00b1ff 26.02%,#00c7ff 26.93%,#00feff 28.09%,#1dffe2 28.73%,#48ffb7 30.28%,#7f8 32.34%,#8dff72 33.88%,#8eff71 37.49%,#81ff7e 38.52%,#56ffa9 40.2%,#51ffae 40.84%,#61ff9e 41.1%,#75ff8a 41.23%,#e4ff1b 41.74%,#f8ff07 41.87%,#fff600 42%,#ff8000 43.55%,#ff7500 43.8%,#ff7100 44.19%,#ff7400 44.45%,#ff7f00 44.7%,#fffb00 46.12%,#f9ff06 46.25%,#b1ff4e 47.28%,#82ff7d 48.7%,#7fff80 59.78%,#7f8 60.16%,#4effb1 61.32%,#4fb 62.23%,#48ffb7 62.74%,#50ffaf 63%,#62ff9d 63.26%,#91ff6e 63.77%,#a1ff5e 64.03%,#e1ff1e 65.58%,#ff0 66.74%,#fd0 68.28%,#fc0 74.08%,#f90 75.88%,#ff8e00 76.91%,#ffa100 78.85%,#ffba00 79.23%,#fffa00 79.88%,#e3ff1c 80.13%,#a8ff57 80.52%,#0efff1 81.29%,#00f4ff 81.42%,#005aff 82.32%,#0020ff 82.71%,#0014ff 82.84%,#000aff 83.1%,#0009ff 83.74%,#0009ff 86.32%,#0012ff 86.7%,#00b8ff 88.89%,#00d5ff 89.15%,#00edff 89.28%,#0ffff0 89.41%,#53ffac 89.67%,#6bff94 89.8%,#78ff87 89.93%,#7fff80 90.18%,#80ff80 99.97%)"></i><i style="top:232px;height:19px;background:linear-gradient(90deg,#80ff80 0%,#80ff7f 20.1%,#8f7 22.03%,#84ff7b 22.29%,#76ff89 22.55%,#2affd5 23.45%,#01fffe 24.09%,#00baff 25.38%,#00adff 25.9%,#00afff 26.28%,#00beff 26.8%,#00fcff 28.09%,#1bffe4 28.73%,#4affb5 30.4%,#74ff8b 32.34%,#8bff74 33.88%,#8cff73 37.49%,#80ff7f 38.52%,#56ffa9 40.2%,#51ffae 40.84%,#61ff9e 41.1%,#75ff8a 41.23%,#e4ff1b 41.74%,#f8ff07 41.87%,#fff600 42%,#ff7f00 43.55%,#ff7200 43.8%,#ff6d00 44.19%,#ff7300 44.58%,#ff8300 44.83%,#feff01 46.25%,#b5ff4a 47.28%,#81ff7e 48.83%,#7fff80 59.39%,#7aff85 59.78%,#52ffad 61.07%,#4affb5 61.97%,#53ffac 62.74%,#63ff9c 63%,#98ff67 63.64%,#a6ff59 63.9%,#e3ff1c 65.45%,#ff0 66.61%,#ffdc00 68.15%,#ffcd00 73.95%,#f90 75.88%,#ff8e00 76.91%,#ffa100 78.85%,#ffba00 79.23%,#fffa00 79.88%,#e3ff1c 80.13%,#a8ff57 80.52%,#0efff1 81.29%,#00f4ff 81.42%,#005aff 82.32%,#0020ff 82.71%,#0014ff 82.84%,#0009ff 83.1%,#0008ff 83.74%,#0008ff 86.32%,#0012ff 86.7%,#0bf 89.02%,#00dfff 89.28%,#00fdff 89.41%,#2fd 89.54%,#63ff9c 89.8%,#74ff8b 89.93%,#7fff80 90.18%,#80ff80 99.97%)"></i><i style="top:212px;height:20px;background:linear-gradient(90deg,#80ff80 0%,#80ff7f 20.1%,#8f7 22.03%,#83ff7c 22.29%,#75ff8a 22.55%,#1fffe0 23.58%,#00fdff 24.09%,#00b6ff 25.38%,#00a8ff 25.9%,#00abff 26.28%,#00baff 26.8%,#00f9ff 28.09%,#01fffe 28.21%,#19ffe6 28.73%,#49ffb6 30.4%,#72ff8d 32.34%,#89ff76 33.88%,#8bff74 37.49%,#7fff80 38.52%,#56ffa9 40.2%,#51ffae 40.84%,#61ff9e 41.1%,#74ff8b 41.23%,#e4ff1b 41.74%,#f8ff07 41.87%,#fff600 42%,#ff7e00 43.55%,#ff7000 43.8%,#ff6900 44.19%,#ff6e00 44.58%,#ff7d00 44.83%,#fffb00 46.25%,#f9ff06 46.38%,#b3ff4c 47.41%,#81ff7e 48.96%,#7fff80 59.13%,#7aff85 59.52%,#56ffa9 60.81%,#50ffaf 61.71%,#57ffa8 62.48%,#64ff9b 62.74%,#96ff69 63.39%,#af5 63.77%,#e4ff1b 65.32%,#ff0 66.48%,#ffdc00 68.02%,#ffcd00 73.95%,#f90 75.88%,#ff8e00 76.91%,#ffa100 78.85%,#fb0 79.23%,#fffa00 79.88%,#e3ff1c 80.13%,#a8ff57 80.52%,#0efff1 81.29%,#00f4ff 81.42%,#005aff 82.32%,#0020ff 82.71%,#0013ff 82.84%,#0009ff 83.1%,#0007ff 83.74%,#0008ff 86.32%,#0012ff 86.7%,#00b1ff 89.02%,#00d1ff 89.28%,#00ecff 89.41%,#10ffef 89.54%,#57ffa8 89.8%,#6eff91 89.93%,#7eff81 90.18%,#80ff80 99.97%)"></i><i style="top:193px;height:19px;background:linear-gradient(90deg,#80ff80 0%,#80ff7f 20.1%,#87ff78 22.03%,#83ff7c 22.29%,#74ff8b 22.55%,#1dffe2 23.58%,#03fffc 23.96%,#00faff 24.09%,#00b1ff 25.38%,#00a7ff 25.64%,#00a4ff 26.02%,#0af 26.41%,#0bf 26.93%,#00feff 28.21%,#1bffe4 28.86%,#48ffb7 30.4%,#71ff8e 32.34%,#8f7 33.88%,#8aff75 37.49%,#7eff81 38.52%,#58ffa7 40.07%,#51ffae 40.84%,#61ff9e 41.1%,#75ff8a 41.23%,#e4ff1b 41.74%,#f8ff07 41.87%,#fff600 42%,#ff7500 43.67%,#ff6900 43.93%,#ff6500 44.32%,#ff6a00 44.58%,#ff7800 44.83%,#feff01 46.38%,#b1ff4e 47.54%,#81ff7e 49.09%,#7fff80 58.75%,#79ff86 59.26%,#5bffa4 60.55%,#5fa 61.45%,#5bffa4 62.23%,#67ff98 62.48%,#95ff6a 63.13%,#a9ff56 63.51%,#e1ff1e 65.06%,#ff0 66.35%,#ffdb00 68.02%,#ffcd00 73.95%,#f90 75.88%,#ff8f00 76.91%,#ffa200 78.85%,#fb0 79.23%,#fffa00 79.88%,#e3ff1c 80.13%,#a8ff57 80.52%,#0efff1 81.29%,#00f4ff 81.42%,#005aff 82.32%,#0020ff 82.71%,#0013ff 82.84%,#0008ff 83.1%,#0007ff 83.74%,#0007ff 86.19%,#01f 86.7%,#00a9ff 89.02%,#00c3ff 89.28%,#00dbff 89.41%,#00fcff 89.54%,#24ffdb 89.67%,#4affb5 89.8%,#65ff9a 89.93%,#76ff89 90.05%,#7fff80 90.31%,#80ff80 99.97%)"></i><i style="top:174px;height:19px;background:linear-gradient(90deg,#80ff80 0%,#80ff7f 20.1%,#87ff78 22.03%,#82ff7d 22.29%,#74ff8b 22.55%,#25ffda 23.45%,#01fffe 23.96%,#00adff 25.38%,#00a0ff 25.9%,#00a2ff 26.28%,#00b2ff 26.8%,#00cfff 27.44%,#00fbff 28.21%,#19ffe6 28.86%,#47ffb8 30.4%,#71ff8e 32.34%,#86ff79 33.75%,#89ff76 37.49%,#7eff81 38.52%,#59ffa6 40.07%,#51ffae 40.84%,#62ff9d 41.1%,#75ff8a 41.23%,#e4ff1b 41.74%,#f8ff07 41.87%,#fff600 42%,#ff7500 43.67%,#f60 43.93%,#ff6100 44.32%,#ff6500 44.58%,#ff7200 44.83%,#fff000 46.25%,#f9ff06 46.51%,#c3ff3c 47.28%,#afff50 47.67%,#81ff7e 49.21%,#7fff80 58.49%,#5fffa0 60.29%,#5affa5 61.32%,#62ff9d 62.1%,#9aff65 63%,#abff54 63.39%,#e1ff1e 64.93%,#feff01 66.22%,#ffdb00 67.89%,#fc0 73.95%,#ff9800 75.88%,#ff8f00 76.91%,#ffa200 78.85%,#fb0 79.23%,#fffa00 79.88%,#e3ff1c 80.13%,#a8ff57 80.52%,#0efff1 81.29%,#00f4ff 81.42%,#005aff 82.32%,#001fff 82.71%,#0013ff 82.84%,#0008ff 83.1%,#0006ff 83.74%,#0006ff 86.19%,#01f 86.7%,#0af 89.15%,#0cf 89.41%,#00ebff 89.54%,#13ffec 89.67%,#5cffa3 89.93%,#71ff8e 90.05%,#7eff81 90.31%,#80ff80 99.97%)"></i><i style="top:154px;height:20px;background:linear-gradient(90deg,#80ff80 0%,#80ff7f 20.1%,#86ff79 22.03%,#81ff7e 22.29%,#73ff8c 22.55%,#23ffdc 23.45%,#00fdff 23.96%,#00a9ff 25.38%,#009bff 25.9%,#009eff 26.28%,#00aeff 26.8%,#00cbff 27.44%,#00f8ff 28.21%,#01fffe 28.34%,#17ffe8 28.86%,#45ffba 30.4%,#70ff8f 32.34%,#85ff7a 33.75%,#8f7 37.49%,#7dff82 38.52%,#59ffa6 40.07%,#52ffad 40.84%,#62ff9d 41.1%,#75ff8a 41.23%,#e4ff1b 41.74%,#f8ff07 41.87%,#fff600 42%,#ff6c00 43.8%,#ff6000 44.06%,#ff5d00 44.32%,#ff6000 44.58%,#ff6c00 44.83%,#feff01 46.51%,#b2ff4d 47.67%,#82ff7d 49.21%,#7fff80 58.36%,#60ff9f 60.16%,#5cffa3 61.07%,#64ff9b 61.97%,#9aff65 62.87%,#abff54 63.26%,#e3ff1c 64.93%,#ff0 66.22%,#ffda00 67.89%,#fc0 73.95%,#ff9b00 75.75%,#ff9000 76.91%,#ffa300 78.85%,#fb0 79.23%,#fffa00 79.88%,#e3ff1c 80.13%,#a8ff57 80.52%,#0efff1 81.29%,#00f4ff 81.42%,#005aff 82.32%,#001fff 82.71%,#0012ff 82.84%,#0007ff 83.1%,#0006ff 83.74%,#0006ff 86.19%,#01f 86.7%,#00a1ff 89.15%,#00bdff 89.41%,#00d8ff 89.54%,#00fdff 89.67%,#4dffb2 89.93%,#68ff97 90.05%,#7f8 90.18%,#7fff80 90.44%,#80ff80 99.97%)"></i><i style="top:135px;height:19px;background:linear-gradient(90deg,#80ff80 0%,#80ff7f 20.1%,#86ff79 22.03%,#81ff7e 22.29%,#72ff8d 22.55%,#04fffb 23.83%,#00a5ff 25.38%,#0097ff 25.9%,#009dff 26.41%,#00afff 26.93%,#00fdff 28.34%,#4fb 30.4%,#6fff90 32.34%,#83ff7c 33.75%,#87ff78 37.49%,#7dff82 38.52%,#59ffa6 40.07%,#52ffad 40.84%,#62ff9d 41.1%,#75ff8a 41.23%,#e4ff1b 41.74%,#f8ff07 41.87%,#fff600 42%,#ff6b00 43.8%,#ff5e00 44.06%,#ff5900 44.32%,#ff5b00 44.58%,#ff6700 44.83%,#fff000 46.38%,#f9ff06 46.64%,#b0ff4f 47.8%,#81ff7e 49.34%,#7fff80 58.1%,#63ff9c 59.91%,#5effa1 60.94%,#6f9 61.84%,#abff54 63.13%,#e2ff1d 64.8%,#ff0 66.22%,#ffda00 67.89%,#fc0 73.95%,#ff9b00 75.75%,#ff9000 76.78%,#ffa300 78.85%,#ffbc00 79.23%,#fffa00 79.88%,#e3ff1c 80.13%,#a8ff57 80.52%,#0efff1 81.29%,#00f4ff 81.42%,#005aff 82.32%,#001fff 82.71%,#0012ff 82.84%,#0006ff 83.1%,#0005ff 83.74%,#0005ff 86.19%,#01f 86.7%,#00a3ff 89.28%,#00b1ff 89.41%,#00c8ff 89.54%,#00eaff 89.67%,#15ffea 89.8%,#3fffc0 89.93%,#5fffa0 90.05%,#73ff8c 90.18%,#7fff80 90.44%,#80ff80 99.97%)"></i><i style="top:116px;height:19px;background:linear-gradient(90deg,#80ff80 0%,#80ff7f 20.1%,#86ff79 22.03%,#80ff7f 22.29%,#71ff8e 22.55%,#02fffd 23.83%,#00a1ff 25.38%,#0092ff 25.9%,#0098ff 26.41%,#00abff 26.93%,#00fbff 28.34%,#43ffbc 30.4%,#6bff94 32.21%,#82ff7d 33.75%,#85ff7a 37.49%,#7cff83 38.52%,#59ffa6 40.07%,#53ffac 40.84%,#63ff9c 41.1%,#76ff89 41.23%,#e4ff1b 41.74%,#f8ff07 41.87%,#fff600 42%,#ff6b00 43.8%,#ff5c00 44.06%,#f50 44.45%,#ff5b00 44.7%,#ff6b00 44.96%,#feff01 46.64%,#b4ff4b 47.8%,#81ff7e 49.47%,#7fff80 57.85%,#63ff9c 59.78%,#5fffa0 60.81%,#64ff9b 61.58%,#a0ff5f 62.74%,#afff50 63.13%,#e3ff1c 64.8%,#fffe00 66.22%,#ffda00 67.77%,#ffcd00 73.82%,#ff9b00 75.75%,#ff9000 76.78%,#ffa300 78.85%,#ffbc00 79.23%,#fffb00 79.88%,#e3ff1c 80.13%,#a8ff57 80.52%,#0efff1 81.29%,#00f4ff 81.42%,#0045ff 82.45%,#01f 82.84%,#0006ff 83.1%,#0004ff 83.74%,#0005ff 86.19%,#0010ff 86.7%,#009aff 89.28%,#00b9ff 89.54%,#00d7ff 89.67%,#01fffe 89.8%,#52ffad 90.05%,#6cff93 90.18%,#79ff86 90.31%,#7eff81 90.44%,#80ff80 99.97%)"></i><i style="top:96px;height:20px;background:linear-gradient(90deg,#80ff80 0%,#80ff7f 20.1%,#85ff7a 22.03%,#80ff7f 22.29%,#70ff8f 22.55%,#1dffe2 23.45%,#00feff 23.83%,#009dff 25.38%,#008eff 25.9%,#0094ff 26.41%,#00a7ff 26.93%,#00f8ff 28.34%,#0ff 28.47%,#45ffba 30.53%,#6bff94 32.21%,#81ff7e 33.75%,#84ff7b 37.62%,#7cff83 38.52%,#5affa5 40.07%,#53ffac 40.84%,#63ff9c 41.1%,#76ff89 41.23%,#e4ff1b 41.74%,#f8ff07 41.87%,#fff600 42%,#ff6100 43.93%,#f50 44.19%,#ff5100 44.45%,#ff5600 44.7%,#ff6500 44.96%,#fff000 46.51%,#faff05 46.77%,#b2ff4d 47.93%,#81ff7e 49.6%,#7fff80 57.59%,#64ff9b 59.65%,#61ff9e 60.68%,#6f9 61.45%,#afff50 63%,#e5ff1a 64.8%,#fffe00 66.22%,#ffd900 67.77%,#fc0 73.82%,#ff9a00 75.75%,#ff9100 76.78%,#ffa400 78.85%,#ffbc00 79.23%,#fffb00 79.88%,#e3ff1c 80.13%,#a8ff57 80.52%,#0efff1 81.29%,#00f4ff 81.42%,#0045ff 82.45%,#01f 82.84%,#0005ff 83.1%,#0004ff 83.74%,#0004ff 86.19%,#0010ff 86.7%,#009aff 89.41%,#0af 89.54%,#00c4ff 89.67%,#00eaff 89.8%,#18ffe7 89.93%,#42ffbd 90.05%,#62ff9d 90.18%,#74ff8b 90.31%,#7fff80 90.57%,#80ff80 99.97%)"></i><i style="top:77px;height:19px;background:linear-gradient(90deg,#80ff80 0%,#80ff7f 20.1%,#85ff7a 22.03%,#7fff80 22.29%,#6fff90 22.55%,#1cffe3 23.45%,#00fcff 23.83%,#09f 25.38%,#008aff 25.9%,#0090ff 26.41%,#00a4ff 26.93%,#00fdff 28.47%,#4fb 30.53%,#6aff95 32.21%,#80ff7f 33.75%,#83ff7c 37.62%,#7bff84 38.52%,#5affa5 40.07%,#53ffac 40.84%,#63ff9c 41.1%,#76ff89 41.23%,#cbff34 41.61%,#f8ff07 41.87%,#fff600 42%,#ff6100 43.93%,#ff5200 44.19%,#ff4e00 44.45%,#ff5200 44.7%,#ff6000 44.96%,#feff01 46.77%,#b0ff4f 48.05%,#81ff7e 49.73%,#7fff80 57.46%,#67ff98 59.39%,#63ff9c 60.55%,#68ff97 61.32%,#aeff51 62.87%,#e3ff1c 64.67%,#fffe00 66.22%,#ffd900 67.77%,#fc0 73.82%,#ff9a00 75.75%,#ff9100 76.78%,#ffa400 78.85%,#ffbc00 79.23%,#fffb00 79.88%,#e3ff1c 80.13%,#a8ff57 80.52%,#0efff1 81.29%,#00f4ff 81.42%,#0045ff 82.45%,#01f 82.84%,#0005ff 83.1%,#0003ff 83.87%,#0003ff 86.19%,#000fff 86.7%,#0092ff 89.41%,#009eff 89.54%,#00b4ff 89.67%,#04fffb 89.93%,#32ffcd 90.05%,#58ffa7 90.18%,#70ff8f 90.31%,#7eff81 90.57%,#80ff80 99.97%)"></i><i style="top:58px;height:19px;background:linear-gradient(90deg,#80ff80 0%,#80ff7f 20.1%,#84ff7b 22.03%,#7fff80 22.29%,#6fff90 22.55%,#1bffe4 23.45%,#00fbff 23.83%,#0097ff 25.38%,#08f 25.9%,#008eff 26.41%,#00a2ff 26.93%,#00fcff 28.47%,#4fb 30.53%,#69ff96 32.21%,#7fff80 33.75%,#82ff7d 37.62%,#7bff84 38.52%,#5affa5 40.07%,#54ffab 40.84%,#64ff9b 41.1%,#76ff89 41.23%,#cbff34 41.61%,#f8ff07 41.87%,#fff600 42%,#ff6100 43.93%,#ff5200 44.19%,#ff4c00 44.45%,#ff4f00 44.7%,#ff5d00 44.96%,#fff200 46.64%,#f8ff07 46.9%,#b2ff4d 48.05%,#81ff7e 49.73%,#7fff80 57.2%,#68ff97 59.26%,#65ff9a 60.42%,#6bff94 61.2%,#aeff51 62.74%,#e5ff1a 64.67%,#feff01 66.09%,#ffd800 67.77%,#ffcb00 73.82%,#ff9a00 75.75%,#ff9100 76.78%,#ffa400 78.85%,#ffbd00 79.23%,#fffb00 79.88%,#e3ff1c 80.13%,#a8ff57 80.52%,#0efff1 81.29%,#00f4ff 81.42%,#0045ff 82.45%,#01f 82.84%,#0004ff 83.1%,#0002ff 83.87%,#0003ff 86.19%,#000fff 86.7%,#0089ff 89.41%,#00a5ff 89.67%,#00c2ff 89.8%,#00ecff 89.93%,#1dffe2 90.05%,#47ffb8 90.18%,#6f9 90.31%,#76ff89 90.44%,#7fff80 90.7%,#80ff80 99.97%)"></i><i style="top:39px;height:19px;background:linear-gradient(90deg,#80ff80 0%,#80ff7f 20.1%,#84ff7b 22.03%,#7eff81 22.29%,#6eff91 22.55%,#0ffff0 23.58%,#00faff 23.83%,#0095ff 25.38%,#0086ff 25.9%,#008dff 26.41%,#00a0ff 26.93%,#00fbff 28.47%,#43ffbc 30.53%,#68ff97 32.21%,#7eff81 33.75%,#80ff7f 37.75%,#79ff86 38.65%,#5bffa4 40.07%,#54ffab 40.84%,#64ff9b 41.1%,#7f8 41.23%,#cbff34 41.61%,#f8ff07 41.87%,#fff600 42%,#ff6100 43.93%,#ff4d00 44.32%,#ff4b00 44.58%,#ff5100 44.83%,#ff6300 45.09%,#fe0 46.64%,#fcff03 46.9%,#b0ff4f 48.18%,#81ff7e 49.86%,#7fff80 56.94%,#6aff95 59.01%,#6f9 60.16%,#6dff92 61.07%,#b1ff4e 62.74%,#e3ff1c 64.55%,#feff01 66.09%,#ffd800 67.77%,#ffcb00 73.82%,#ff9d00 75.62%,#ff9200 76.78%,#ffa500 78.85%,#ffbd00 79.23%,#fffb00 79.88%,#e3ff1c 80.13%,#a8ff57 80.52%,#0efff1 81.29%,#00f4ff 81.42%,#0045ff 82.45%,#0010ff 82.84%,#0004ff 83.1%,#0002ff 83.87%,#0002ff 86.19%,#0013ff 86.83%,#0089ff 89.54%,#0097ff 89.67%,#00b0ff 89.8%,#07fff8 90.05%,#37ffc8 90.18%,#5cffa3 90.31%,#72ff8d 90.44%,#7fff80 90.7%,#80ff80 99.97%)"></i><i style="top:19px;height:20px;background:linear-gradient(90deg,#80ff80 0%,#84ff7b 22.03%,#7eff81 22.29%,#6dff92 22.55%,#04fffb 23.71%,#0094ff 25.38%,#0084ff 25.9%,#008bff 26.41%,#009fff 26.93%,#00faff 28.47%,#02fffd 28.6%,#43ffbc 30.53%,#68ff97 32.21%,#7dff82 33.75%,#7fff80 37.88%,#79ff86 38.65%,#59ffa6 40.2%,#5fa 40.84%,#64ff9b 41.1%,#7f8 41.23%,#cbff34 41.61%,#f8ff07 41.87%,#fff600 42%,#ff5800 44.06%,#ff4c00 44.32%,#ff4900 44.58%,#ff4f00 44.83%,#ff5f00 45.09%,#ff0 46.9%,#b2ff4d 48.18%,#82ff7d 49.86%,#7fff80 56.82%,#6bff94 58.88%,#68ff97 60.04%,#6fff90 60.94%,#b1ff4e 62.61%,#e5ff1a 64.55%,#ff0 66.09%,#ffd700 67.77%,#ffcb00 73.82%,#ff9d00 75.62%,#ff9200 76.66%,#ffa500 78.85%,#ffbd00 79.23%,#fffb00 79.88%,#e3ff1c 80.13%,#a8ff57 80.52%,#0efff1 81.29%,#00f4ff 81.42%,#0045ff 82.45%,#0010ff 82.84%,#0003ff 83.1%,#0001ff 83.87%,#0005ff 86.45%,#006fff 89.15%,#0081ff 89.54%,#008cff 89.67%,#00a0ff 89.8%,#00c2ff 89.93%,#00f0ff 90.05%,#23ffdc 90.18%,#4dffb2 90.31%,#6aff95 90.44%,#78ff87 90.57%,#7fff80 90.83%,#80ff80 99.97%)"></i><i style="top:0px;height:19px;background:linear-gradient(90deg,#80ff80 0%,#83ff7c 22.03%,#7dff82 22.29%,#6dff92 22.55%,#03fffc 23.71%,#0092ff 25.38%,#0082ff 25.9%,#0089ff 26.41%,#009dff 26.93%,#00f9ff 28.47%,#01fffe 28.6%,#42ffbd 30.53%,#67ff98 32.21%,#7cff83 33.75%,#7cff83 38.13%,#78ff87 38.65%,#5affa5 40.2%,#5fa 40.84%,#65ff9a 41.1%,#7f8 41.23%,#cbff34 41.61%,#f8ff07 41.87%,#fff600 42%,#ff5800 44.06%,#ff4b00 44.32%,#ff4700 44.58%,#ff4c00 44.83%,#ff5c00 45.09%,#fff100 46.77%,#f9ff06 47.02%,#b5ff4a 48.18%,#81ff7e 49.99%,#7fff80 56.56%,#6cff93 58.75%,#6aff95 59.91%,#71ff8e 60.81%,#b4ff4b 62.61%,#e3ff1c 64.42%,#ff0 66.09%,#ffd700 67.77%,#fc0 73.69%,#ff9c00 75.62%,#ff9200 76.66%,#ffa500 78.85%,#ffbd00 79.23%,#fffb00 79.88%,#e3ff1c 80.13%,#a8ff57 80.52%,#0efff1 81.29%,#00f4ff 81.42%,#0045ff 82.45%,#0010ff 82.84%,#0003ff 83.1%,#0001ff 83.87%,#0005ff 86.45%,#0072ff 89.41%,#0080ff 89.67%,#0090ff 89.8%,#00adff 89.93%,#00d7ff 90.05%,#0bfff4 90.18%,#3cffc3 90.31%,#5fffa0 90.44%,#73ff8c 90.57%,#7fff80 90.83%,#80ff80 99.97%)"></i></div>
<div class="pn" style="left:514.9px"><i style="top:733px;height:20px;background:linear-gradient(90deg,#80ff80 0%,#80ff7f 20.87%,#8bff74 23.32%,#87ff78 23.71%,#53ffac 25.51%,#4dffb2 26.54%,#52ffad 27.57%,#6eff91 28.73%,#76ff89 29.37%,#85ff7a 33.63%,#86ff79 37.23%,#7fff80 38.65%,#5dffa2 40.07%,#5fa 40.71%,#59ffa6 40.97%,#62ff9d 41.1%,#adff52 41.61%,#c7ff38 41.87%,#cfff30 42.26%,#caff35 42.64%,#a3ff5c 43.29%,#92ff6d 43.67%,#80ff7f 44.45%,#7fff80 61.84%,#61ff9e 63.77%,#59ffa6 64.67%,#5effa1 65.19%,#7fff80 66.86%,#81ff7e 74.85%,#8dff72 75.11%,#9cff63 75.24%,#dfff20 75.62%,#feff01 75.88%,#ffb600 77.3%,#ffa900 78.2%,#ffb400 79.36%,#fff700 80.13%,#f9ff06 80.26%,#a4ff5b 80.91%,#03fffc 81.81%,#00b0ff 82.45%,#008bff 82.84%,#0081ff 83.1%,#007fff 83.87%,#0084ff 85.67%,#008aff 85.8%,#00a4ff 86.06%,#00feff 86.7%,#15ffea 86.83%,#60ff9f 87.22%,#71ff8e 87.35%,#7aff85 87.48%,#7fff80 87.74%,#80ff80 99.97%)"></i><i style="top:714px;height:19px;background:linear-gradient(90deg,#80ff80 0%,#80ff7f 20.74%,#8dff72 23.32%,#87ff78 23.71%,#4cffb3 25.38%,#42ffbd 26.54%,#49ffb6 27.57%,#69ff96 28.73%,#73ff8c 29.37%,#86ff79 33.63%,#87ff78 37.23%,#7fff80 38.65%,#5cffa3 40.07%,#53ffac 40.71%,#59ffa6 40.97%,#62ff9d 41.1%,#73ff8c 41.23%,#b5ff4a 41.61%,#d3ff2c 41.87%,#dcff23 42.13%,#df2 42.39%,#d7ff28 42.77%,#9dff62 43.67%,#8f7 44.19%,#80ff7f 44.58%,#7fff80 61.71%,#7bff84 62.23%,#58ffa7 63.9%,#51ffae 64.67%,#56ffa9 65.19%,#7fff80 66.86%,#81ff7e 73.69%,#96ff69 74.08%,#e0ff1f 74.72%,#ff0 75.11%,#ffa200 76.78%,#ff9800 77.17%,#ff9400 77.81%,#ffac00 79.23%,#ffbc00 79.49%,#fff700 80.13%,#f9ff06 80.26%,#a4ff5b 80.91%,#02fffd 81.81%,#009eff 82.58%,#07f 82.97%,#006dff 83.23%,#006bff 84%,#006bff 85.42%,#0075ff 85.8%,#00a0ff 86.19%,#00fdff 86.83%,#14ffeb 86.96%,#5fffa0 87.35%,#70ff8f 87.48%,#79ff86 87.61%,#7fff80 87.86%,#80ff80 99.97%)"></i><i style="top:695px;height:19px;background:linear-gradient(90deg,#80ff80 0%,#80ff7f 20.74%,#8fff70 23.19%,#8aff75 23.58%,#43ffbc 25.38%,#37ffc8 26.41%,#3fffc0 27.57%,#65ff9a 28.73%,#70ff8f 29.37%,#8f7 33.63%,#89ff76 37.23%,#7fff80 38.65%,#5bffa4 40.07%,#52ffad 40.71%,#58ffa7 40.97%,#62ff9d 41.1%,#74ff8b 41.23%,#bdff42 41.61%,#dfff20 41.87%,#e9ff16 42.13%,#eaff15 42.51%,#dfff20 43.03%,#abff54 43.67%,#97ff68 44.06%,#87ff78 44.45%,#80ff7f 44.83%,#7fff80 61.71%,#79ff86 62.23%,#50ffaf 63.9%,#49ffb6 64.67%,#4fffb0 65.19%,#79ff86 66.48%,#7fff80 66.86%,#81ff7e 71.89%,#8fff70 72.28%,#e5ff1a 73.69%,#feff01 74.34%,#ffdf00 75.11%,#ff9800 76.27%,#ff8b00 77.3%,#ffa500 79.1%,#ffbc00 79.49%,#fff700 80.13%,#f9ff06 80.26%,#a3ff5c 80.91%,#0ff 81.81%,#009aff 82.58%,#0070ff 82.97%,#005fff 83.35%,#005eff 84%,#005fff 85.42%,#0068ff 85.8%,#0090ff 86.19%,#00fdff 86.96%,#14ffeb 87.09%,#5dffa2 87.48%,#6fff90 87.61%,#79ff86 87.74%,#7fff80 87.99%,#80ff80 99.97%)"></i><i style="top:675px;height:20px;background:linear-gradient(90deg,#80ff80 0%,#80ff7f 20.61%,#90ff6f 22.42%,#91ff6e 23.19%,#89ff76 23.58%,#63ff9c 24.35%,#39ffc6 25.38%,#2cffd3 26.28%,#36ffc9 27.57%,#5cffa3 28.6%,#6cff93 29.25%,#89ff76 33.75%,#8aff75 37.23%,#84ff7b 38.26%,#7dff82 38.78%,#5affa5 40.07%,#51ffae 40.71%,#57ffa8 40.97%,#62ff9d 41.1%,#75ff8a 41.23%,#c3ff3c 41.61%,#e7ff18 41.87%,#f2ff0d 42.13%,#f3ff0c 42.64%,#e8ff17 43.16%,#a9ff56 43.93%,#89ff76 44.58%,#80ff7f 44.96%,#7fff80 61.71%,#78ff87 62.23%,#4bffb4 63.77%,#40ffbf 64.67%,#48ffb7 65.19%,#7eff81 66.74%,#82ff7d 70.09%,#e0ff1f 72.53%,#feff01 73.69%,#ffe000 74.59%,#f90 75.88%,#ff8b00 76.91%,#ff9b00 78.59%,#ffa500 79.1%,#ffbc00 79.49%,#fff700 80.13%,#f9ff06 80.26%,#e9ff16 80.39%,#a3ff5c 80.91%,#00feff 81.81%,#0097ff 82.58%,#006bff 82.97%,#0059ff 83.35%,#0058ff 84%,#0059ff 85.42%,#0061ff 85.8%,#0086ff 86.19%,#0ff 87.09%,#5cffa3 87.61%,#6eff91 87.74%,#79ff86 87.86%,#7fff80 88.12%,#80ff80 99.97%)"></i><i style="top:656px;height:19px;background:linear-gradient(90deg,#80ff80 0%,#80ff7f 20.61%,#92ff6d 22.29%,#93ff6c 23.06%,#8dff72 23.45%,#5effa1 24.35%,#2effd1 25.51%,#25ffda 26.54%,#31ffce 27.57%,#59ffa6 28.6%,#69ff96 29.25%,#8bff74 33.75%,#8cff73 37.23%,#85ff7a 38.26%,#80ff7f 38.65%,#57ffa8 40.2%,#51ffae 40.84%,#62ff9d 41.1%,#75ff8a 41.23%,#c8ff37 41.61%,#efff10 41.87%,#fbff04 42.13%,#fcff03 42.77%,#f3ff0c 43.29%,#a7ff58 44.19%,#8cff73 44.7%,#81ff7e 45.09%,#7fff80 61.71%,#7f8 62.23%,#45ffba 63.77%,#3affc5 64.67%,#43ffbc 65.19%,#7eff81 66.74%,#80ff7f 68.67%,#85ff7a 69.05%,#e3ff1c 71.76%,#ff0 73.05%,#ffde00 74.21%,#ff9700 75.75%,#ff8b00 76.78%,#ff9b00 78.59%,#ffa500 79.1%,#ffbc00 79.49%,#fff700 80.13%,#f9ff06 80.26%,#e9ff16 80.39%,#a2ff5d 80.91%,#00fdff 81.81%,#0094ff 82.58%,#06f 82.97%,#0054ff 83.35%,#0052ff 84%,#0053ff 85.42%,#005aff 85.8%,#007cff 86.19%,#01fffe 87.22%,#6cff93 87.86%,#78ff87 87.99%,#7fff80 88.25%,#80ff80 99.97%)"></i><i style="top:637px;height:19px;background:linear-gradient(90deg,#80ff80 0%,#80ff7f 20.61%,#95ff6a 22.29%,#96ff69 22.93%,#8bff74 23.45%,#60ff9f 24.22%,#27ffd8 25.51%,#1fffe0 26.02%,#1effe1 26.54%,#2bffd4 27.57%,#5fa 28.6%,#67ff98 29.25%,#8cff73 33.75%,#89ff76 37.88%,#80ff7f 38.65%,#56ffa9 40.2%,#50ffaf 40.84%,#61ff9e 41.1%,#75ff8a 41.23%,#e2ff1d 41.74%,#feff01 42%,#fff900 42.51%,#fffe00 43.29%,#efff10 43.55%,#bdff42 44.06%,#af5 44.32%,#89ff76 44.96%,#80ff7f 45.35%,#7fff80 61.71%,#79ff86 62.1%,#40ffbf 63.77%,#3fc 64.67%,#3fffc0 65.19%,#7cff83 66.61%,#84ff7b 67.89%,#e2ff1d 70.99%,#feff01 72.4%,#ffdf00 73.82%,#ff9600 75.62%,#ff8b00 76.66%,#ff9b00 78.59%,#ffa500 79.1%,#ffbc00 79.49%,#fff700 80.13%,#f9ff06 80.26%,#e9ff16 80.39%,#a2ff5d 80.91%,#13ffec 81.68%,#00fcff 81.81%,#007fff 82.71%,#0057ff 83.1%,#004eff 83.35%,#004cff 84%,#004dff 85.42%,#0053ff 85.8%,#0073ff 86.19%,#02fffd 87.35%,#6bff94 87.99%,#7f8 88.12%,#7fff80 88.38%,#80ff80 99.97%)"></i><i style="top:617px;height:20px;background:linear-gradient(90deg,#80ff80 0%,#80ff7f 20.48%,#95ff6a 22.67%,#8cff73 23.32%,#4fffb0 24.48%,#20ffdf 25.51%,#17ffe8 26.41%,#26ffd9 27.57%,#52ffad 28.6%,#64ff9b 29.25%,#8eff71 33.75%,#8cff73 37.62%,#83ff7c 38.52%,#58ffa7 40.07%,#4fffb0 40.84%,#60ff9f 41.1%,#74ff8b 41.23%,#e3ff1c 41.74%,#f6ff09 41.87%,#fffc00 42%,#fff200 42.26%,#fff100 43.03%,#fff300 43.29%,#fffe00 43.55%,#afff50 44.45%,#8dff72 45.09%,#81ff7e 45.48%,#7fff80 61.71%,#78ff87 62.1%,#3fffc0 63.64%,#2fffd0 64.55%,#37ffc8 65.06%,#7cff83 66.61%,#86ff79 67.77%,#e1ff1e 70.6%,#feff01 72.02%,#ffe000 73.56%,#ff9800 75.5%,#ff8b00 76.66%,#ff9b00 78.59%,#ffa500 79.1%,#ffbc00 79.49%,#fff700 80.13%,#f8ff07 80.26%,#b4ff4b 80.78%,#8aff75 81.04%,#0ffff0 81.68%,#00f8ff 81.81%,#0078ff 82.71%,#004dff 83.1%,#0043ff 83.35%,#0042ff 84.13%,#0042ff 85.54%,#004bff 85.93%,#0062ff 86.19%,#00f4ff 87.35%,#07fff8 87.48%,#61ff9e 87.99%,#71ff8e 88.12%,#7aff85 88.25%,#7fff80 88.51%,#80ff80 99.97%)"></i><i style="top:598px;height:19px;background:linear-gradient(90deg,#80ff80 0%,#80ff7f 20.48%,#94ff6b 22.55%,#87ff78 23.32%,#19ffe6 25.51%,#10ffef 26.41%,#20ffdf 27.57%,#4effb1 28.6%,#61ff9e 29.25%,#8fff70 33.75%,#8eff71 37.62%,#84ff7b 38.52%,#57ffa8 40.07%,#4effb1 40.84%,#5fffa0 41.1%,#74ff8b 41.23%,#cbff34 41.61%,#f7ff08 41.87%,#fff900 42%,#ffeb00 42.26%,#ffe900 42.51%,#ffe900 43.29%,#fff700 43.67%,#fdff02 43.8%,#bfff40 44.45%,#acff53 44.7%,#8cff73 45.35%,#81ff7e 45.74%,#7fff80 61.71%,#7f8 62.1%,#3bffc4 63.64%,#2bffd4 64.55%,#34ffcb 65.06%,#7cff83 66.61%,#86ff79 67.51%,#e2ff1d 70.34%,#ff0 71.76%,#ffef00 73.05%,#ffca00 73.82%,#ff9c00 75.24%,#ff8b00 76.53%,#ff9a00 78.46%,#ffa500 79.1%,#ffbc00 79.49%,#fff800 80.13%,#f8ff07 80.26%,#b2ff4d 80.78%,#8f7 81.04%,#0afff5 81.68%,#00f3ff 81.81%,#0071ff 82.71%,#04f 83.1%,#0039ff 83.35%,#0037ff 84.13%,#0037ff 85.54%,#003eff 85.93%,#0060ff 86.32%,#00f9ff 87.48%,#0ffff0 87.61%,#69ff96 88.12%,#76ff89 88.25%,#7fff80 88.51%,#80ff80 99.97%)"></i><i style="top:579px;height:19px;background:linear-gradient(90deg,#80ff80 0%,#80ff7f 20.48%,#93ff6c 22.42%,#87ff78 23.19%,#12ffed 25.51%,#08fff7 26.28%,#17ffe8 27.44%,#4affb5 28.6%,#5dffa2 29.25%,#91ff6e 33.75%,#8fff70 37.62%,#84ff7b 38.52%,#56ffa9 40.07%,#4dffb2 40.84%,#5effa1 41.1%,#73ff8c 41.23%,#caff35 41.61%,#f8ff07 41.87%,#fff700 42%,#ffe600 42.26%,#ffe100 42.64%,#ffe400 43.55%,#fffa00 43.93%,#f8ff07 44.06%,#c6ff39 44.58%,#a9ff56 44.96%,#8aff75 45.61%,#81ff7e 45.99%,#7fff80 61.71%,#76ff89 62.1%,#37ffc8 63.64%,#2affd5 64.16%,#27ffd8 64.55%,#31ffce 65.06%,#78ff87 66.48%,#8f7 67.38%,#e1ff1e 69.96%,#ff0 71.37%,#fff000 72.66%,#ff9a00 75.24%,#ff8b00 76.4%,#ff9a00 78.46%,#ffa500 79.1%,#ffbc00 79.49%,#fff800 80.13%,#f8ff07 80.26%,#b1ff4e 80.78%,#85ff7a 81.04%,#05fffa 81.68%,#0ef 81.81%,#0058ff 82.84%,#003bff 83.1%,#002fff 83.35%,#002cff 84.13%,#002cff 85.67%,#0036ff 86.06%,#005fff 86.45%,#0ff 87.61%,#5fffa0 88.12%,#70ff8f 88.25%,#7aff85 88.38%,#7fff80 88.64%,#80ff80 99.97%)"></i><i style="top:560px;height:19px;background:linear-gradient(90deg,#80ff80 0%,#80ff7f 20.36%,#93ff6c 22.29%,#82ff7d 23.19%,#0bfff4 25.51%,#01fffe 26.28%,#12ffed 27.44%,#46ffb9 28.6%,#59ffa6 29.25%,#84ff7b 32.34%,#92ff6d 33.75%,#92ff6d 37.49%,#85ff7a 38.52%,#5fa 40.07%,#4bffb4 40.84%,#5effa1 41.1%,#72ff8d 41.23%,#caff35 41.61%,#f8ff07 41.87%,#fff700 42%,#ffe300 42.26%,#ffd900 42.64%,#ffda00 43.55%,#ffe200 43.8%,#fff400 44.06%,#ff0 44.19%,#c1ff3e 44.83%,#aeff51 45.09%,#89ff76 45.86%,#80ff7f 46.25%,#7fff80 61.58%,#75ff8a 62.1%,#2fffd0 63.77%,#2fd 64.55%,#2effd1 65.06%,#79ff86 66.48%,#8aff75 67.25%,#e3ff1c 69.7%,#fdff02 70.86%,#ffed00 72.4%,#ff9700 75.24%,#ff8900 76.4%,#ffa000 78.97%,#ffb200 79.36%,#fff800 80.13%,#f8ff07 80.26%,#afff50 80.78%,#82ff7d 81.04%,#01fffe 81.68%,#0063ff 82.71%,#0035ff 83.1%,#002aff 83.35%,#0029ff 84.13%,#0029ff 85.67%,#002fff 86.06%,#0054ff 86.45%,#00f3ff 87.61%,#09fff6 87.74%,#68ff97 88.25%,#76ff89 88.38%,#7fff80 88.64%,#80ff80 99.97%)"></i><i style="top:540px;height:20px;background:linear-gradient(90deg,#80ff80 0%,#80ff7f 20.36%,#92ff6d 22.29%,#82ff7d 23.06%,#06fff9 25.51%,#0ff 25.77%,#0ff 26.67%,#14ffeb 27.57%,#43ffbc 28.6%,#56ffa9 29.25%,#85ff7a 32.34%,#94ff6b 33.75%,#93ff6c 37.49%,#85ff7a 38.52%,#54ffab 40.07%,#4affb5 40.84%,#5dffa2 41.1%,#72ff8d 41.23%,#e4ff1b 41.74%,#f8ff07 41.87%,#fff700 42%,#ffe100 42.26%,#ffd500 42.51%,#ffd100 43.42%,#ffdb00 43.93%,#fff900 44.32%,#f9ff06 44.45%,#c8ff37 44.96%,#acff53 45.35%,#8dff72 45.99%,#81ff7e 46.38%,#7fff80 61.58%,#75ff8a 62.1%,#2cffd3 63.77%,#1effe1 64.55%,#2affd5 65.06%,#79ff86 66.48%,#8dff72 67.12%,#e2ff1d 69.31%,#feff01 70.47%,#ffed00 72.02%,#ffca00 73.43%,#ff9300 75.24%,#ff8700 76.4%,#ff9600 78.46%,#ff9f00 78.97%,#ffb200 79.36%,#fff800 80.13%,#f7ff08 80.26%,#aeff51 80.78%,#7fff80 81.04%,#14ffeb 81.55%,#00fbff 81.68%,#006fff 82.58%,#003bff 82.97%,#0030ff 83.1%,#0027ff 83.35%,#0026ff 84%,#0026ff 85.67%,#002bff 86.06%,#004eff 86.45%,#02fffd 87.74%,#64ff9b 88.25%,#73ff8c 88.38%,#7eff81 88.64%,#80ff80 99.97%)"></i><i style="top:521px;height:19px;background:linear-gradient(90deg,#80ff80 0%,#80ff7f 20.36%,#91ff6e 22.29%,#7eff81 23.06%,#57ffa8 23.71%,#01fffe 25.51%,#00f7ff 26.15%,#00fdff 26.8%,#1fe 27.57%,#3bffc4 28.47%,#50ffaf 29.12%,#86ff79 32.34%,#95ff6a 33.75%,#95ff6a 37.49%,#86ff79 38.52%,#53ffac 40.07%,#49ffb6 40.84%,#5cffa3 41.1%,#71ff8e 41.23%,#e4ff1b 41.74%,#f8ff07 41.87%,#fff700 42%,#ffd800 42.39%,#fc0 42.64%,#ffc900 43.55%,#ffd400 44.06%,#ff0 44.58%,#b0ff4f 45.48%,#8cff73 46.25%,#81ff7e 46.64%,#7fff80 61.58%,#74ff8b 62.1%,#28ffd7 63.77%,#1affe5 64.55%,#27ffd8 65.06%,#7aff85 66.48%,#d6ff29 68.67%,#e8ff17 69.18%,#feff01 70.09%,#ffea00 71.76%,#ffc600 73.43%,#ff9000 75.24%,#ff8500 76.27%,#ff9400 78.46%,#ff9e00 78.97%,#ffb200 79.36%,#fff800 80.13%,#f7ff08 80.26%,#acff53 80.78%,#7cff83 81.04%,#10ffef 81.55%,#00f7ff 81.68%,#0068ff 82.58%,#0035ff 82.97%,#0025ff 83.23%,#0023ff 84%,#0023ff 85.8%,#002eff 86.19%,#0059ff 86.58%,#00faff 87.74%,#13ffec 87.86%,#60ff9f 88.25%,#71ff8e 88.38%,#7aff85 88.51%,#7fff80 88.77%,#80ff80 99.97%)"></i><i style="top:502px;height:19px;background:linear-gradient(90deg,#80ff80 0%,#80ff7f 20.23%,#91ff6e 22.16%,#7fff80 22.93%,#57ffa8 23.58%,#01fffe 25.38%,#00f3ff 26.15%,#0ff 27.05%,#0ffff0 27.57%,#39ffc6 28.47%,#4dffb2 29.12%,#86ff79 32.34%,#95ff6a 33.75%,#95ff6a 37.49%,#86ff79 38.52%,#52ffad 40.07%,#48ffb7 40.84%,#5bffa4 41.1%,#70ff8f 41.23%,#e4ff1b 41.74%,#f8ff07 41.87%,#fff700 42%,#ffc800 42.64%,#ffc100 42.9%,#ffc000 43.55%,#ffc700 44.06%,#fff900 44.7%,#f9ff06 44.83%,#bfff40 45.48%,#aeff51 45.74%,#8bff74 46.51%,#81ff7e 46.9%,#7fff80 61.58%,#74ff8b 62.1%,#2bffd4 63.64%,#1cffe3 64.16%,#19ffe6 64.55%,#26ffd9 65.06%,#84ff7b 66.61%,#c3ff3c 68.02%,#e7ff18 68.93%,#feff01 69.83%,#fe0 71.24%,#ffc700 73.31%,#ff8c00 75.37%,#ff8300 76.4%,#f90 78.85%,#ffb200 79.36%,#fff800 80.13%,#f7ff08 80.26%,#abff54 80.78%,#7bff84 81.04%,#0dfff2 81.55%,#00f4ff 81.68%,#0063ff 82.58%,#0030ff 82.97%,#02f 83.23%,#001fff 84%,#0020ff 85.8%,#0029ff 86.19%,#0052ff 86.58%,#00f4ff 87.74%,#0cfff3 87.86%,#5cffa3 88.25%,#6eff91 88.38%,#79ff86 88.51%,#7fff80 88.77%,#80ff80 99.97%)"></i><i style="top:482px;height:20px;background:linear-gradient(90deg,#80ff80 0%,#80ff7f 20.23%,#91ff6e 22.16%,#81ff7e 22.8%,#51ffae 23.58%,#01fffe 25.25%,#00f3ff 25.64%,#0ef 26.02%,#00fcff 27.05%,#0dfff2 27.57%,#36ffc9 28.47%,#49ffb6 29.12%,#83ff7c 32.21%,#95ff6a 33.75%,#95ff6a 37.49%,#86ff79 38.52%,#51ffae 40.07%,#47ffb8 40.84%,#5affa5 41.1%,#6fff90 41.23%,#e4ff1b 41.74%,#f8ff07 41.87%,#fff700 42%,#ffd600 42.39%,#ffbe00 42.77%,#ffb900 43.8%,#fb0 44.06%,#ffc700 44.32%,#ff0 44.96%,#b3ff4c 45.86%,#8aff75 46.77%,#81ff7e 47.15%,#7fff80 61.58%,#73ff8c 62.1%,#29ffd6 63.64%,#1affe5 64.16%,#17ffe8 64.55%,#1bffe4 64.8%,#2cffd3 65.19%,#89ff76 66.61%,#9dff62 66.99%,#e2ff1d 68.54%,#feff01 69.57%,#ffc500 73.31%,#ff8e00 75.24%,#ff8100 76.4%,#ff8f00 78.33%,#ff9700 78.85%,#ffb100 79.36%,#fff800 80.13%,#f7ff08 80.26%,#af5 80.78%,#7aff85 81.04%,#0bfff4 81.55%,#00f2ff 81.68%,#005dff 82.58%,#002bff 82.97%,#001eff 83.23%,#001cff 84%,#001dff 85.8%,#0025ff 86.19%,#004cff 86.58%,#0ef 87.74%,#06fff9 87.86%,#57ffa8 88.25%,#6cff93 88.38%,#78ff87 88.51%,#7fff80 88.77%,#80ff80 99.97%)"></i><i style="top:463px;height:19px;background:linear-gradient(90deg,#80ff80 0%,#80ff7f 20.23%,#90ff6f 22.16%,#7dff82 22.8%,#4affb5 23.58%,#01fffe 25.12%,#00edff 25.64%,#00e9ff 26.02%,#00edff 26.54%,#00fcff 27.18%,#0afff5 27.57%,#37ffc8 28.6%,#46ffb9 29.12%,#83ff7c 32.21%,#95ff6a 33.75%,#95ff6a 37.49%,#86ff79 38.52%,#52ffad 40.07%,#48ffb7 40.84%,#5bffa4 41.1%,#70ff8f 41.23%,#e4ff1b 41.74%,#f8ff07 41.87%,#fff700 42%,#ffbc00 42.77%,#ffb300 43.03%,#ffb100 43.42%,#ffb700 44.19%,#ffc800 44.45%,#fff500 44.96%,#fdff02 45.09%,#c4ff3b 45.74%,#abff54 46.12%,#8aff75 46.9%,#81ff7e 47.28%,#7fff80 61.58%,#73ff8c 62.1%,#28ffd7 63.64%,#19ffe6 64.16%,#16ffe9 64.55%,#1effe1 64.93%,#32ffcd 65.32%,#52ffad 65.83%,#86ff79 66.48%,#9eff61 66.86%,#e0ff1f 68.28%,#feff01 69.31%,#ffc000 73.43%,#ff8a00 75.37%,#ff7f00 76.4%,#ff8d00 78.33%,#ff9600 78.85%,#ffb100 79.36%,#fff800 80.13%,#f7ff08 80.26%,#af5 80.78%,#78ff87 81.04%,#09fff6 81.55%,#00efff 81.68%,#04f 82.71%,#0026ff 82.97%,#001bff 83.23%,#0019ff 83.87%,#001aff 85.8%,#0021ff 86.19%,#0046ff 86.58%,#00d3ff 87.61%,#00feff 87.86%,#52ffad 88.25%,#69ff96 88.38%,#76ff89 88.51%,#7fff80 88.77%,#80ff80 99.97%)"></i><i style="top:444px;height:19px;background:linear-gradient(90deg,#80ff80 0%,#80ff7f 20.1%,#8fff70 22.16%,#80ff7f 22.67%,#43ffbc 23.58%,#01fffe 24.99%,#00ebff 25.51%,#00e4ff 26.02%,#00e9ff 26.54%,#00fdff 27.31%,#2fffd0 28.47%,#42ffbd 29.12%,#83ff7c 32.21%,#95ff6a 33.75%,#95ff6a 37.49%,#86ff79 38.52%,#53ffac 40.07%,#4affb5 40.84%,#5cffa3 41.1%,#71ff8e 41.23%,#e4ff1b 41.74%,#f8ff07 41.87%,#fff600 42%,#ffb300 42.9%,#ffab00 43.16%,#ffa900 43.67%,#ffac00 44.06%,#ffb600 44.32%,#fff700 45.09%,#fbff04 45.22%,#b2ff4d 46.12%,#8aff75 47.02%,#81ff7e 47.41%,#7fff80 61.58%,#72ff8d 62.1%,#27ffd8 63.64%,#17ffe8 64.16%,#15ffea 64.55%,#1dffe2 64.93%,#41ffbe 65.58%,#5dffa2 65.96%,#8eff71 66.48%,#a6ff59 66.86%,#e4ff1b 68.15%,#feff01 69.05%,#ffbe00 73.43%,#ff8900 75.37%,#ff7d00 76.53%,#ff8c00 78.46%,#ff9500 78.85%,#ffb100 79.36%,#fff800 80.13%,#f7ff08 80.26%,#e5ff1a 80.39%,#a9ff56 80.78%,#7f8 81.04%,#06fff9 81.55%,#00ecff 81.68%,#0053ff 82.58%,#002eff 82.84%,#02f 82.97%,#0018ff 83.23%,#0016ff 83.87%,#0017ff 85.8%,#001cff 86.19%,#003fff 86.58%,#00cdff 87.61%,#00f7ff 87.86%,#12ffed 87.99%,#64ff9b 88.38%,#74ff8b 88.51%,#7eff81 88.77%,#80ff80 99.97%)"></i><i style="top:424px;height:20px;background:linear-gradient(90deg,#80ff80 0%,#80ff7f 20.1%,#8fff70 22.16%,#7dff82 22.67%,#3cffc3 23.58%,#0ff 24.86%,#00e5ff 25.51%,#00deff 26.02%,#00e7ff 26.67%,#0ff 27.44%,#2cffd3 28.47%,#3affc5 28.99%,#82ff7d 32.21%,#95ff6a 33.75%,#94ff6b 37.49%,#86ff79 38.52%,#54ffab 40.07%,#4bffb4 40.84%,#5dffa2 41.1%,#72ff8d 41.23%,#e4ff1b 41.74%,#f8ff07 41.87%,#fff600 42%,#ffc200 42.64%,#fa0 43.03%,#ffa300 43.29%,#ffa200 43.8%,#ffad00 44.32%,#fff900 45.22%,#f9ff06 45.35%,#b1ff4e 46.25%,#8bff74 47.15%,#81ff7e 47.54%,#7fff80 61.58%,#72ff8d 62.1%,#25ffda 63.64%,#16ffe9 64.16%,#13ffec 64.55%,#1cffe3 64.93%,#41ffbe 65.58%,#5cffa3 65.96%,#8eff71 66.48%,#a7ff58 66.86%,#e1ff1e 68.02%,#fdff02 68.93%,#ffba00 73.56%,#ff8600 75.5%,#ff7b00 76.53%,#ff8900 78.33%,#ff9300 78.85%,#ffb100 79.36%,#fff800 80.13%,#f6ff09 80.26%,#e5ff1a 80.39%,#a8ff57 80.78%,#04fffb 81.55%,#0051ff 82.58%,#002cff 82.84%,#001fff 82.97%,#0015ff 83.23%,#0013ff 83.87%,#0014ff 85.93%,#001fff 86.32%,#004aff 86.7%,#00c7ff 87.61%,#00f0ff 87.86%,#0bfff4 87.99%,#60ff9f 88.38%,#71ff8e 88.51%,#7eff81 88.77%,#80ff80 99.97%)"></i><i style="top:405px;height:19px;background:linear-gradient(90deg,#80ff80 0%,#80ff7f 20.1%,#8eff71 22.03%,#81ff7e 22.55%,#35ffca 23.58%,#00feff 24.74%,#00dfff 25.51%,#00d9ff 25.9%,#00e0ff 26.54%,#00fcff 27.44%,#3fc 28.86%,#81ff7e 32.21%,#94ff6b 33.75%,#94ff6b 37.49%,#85ff7a 38.52%,#52ffad 40.2%,#4cffb3 40.84%,#5effa1 41.1%,#72ff8d 41.23%,#e4ff1b 41.74%,#f8ff07 41.87%,#fff600 42%,#ffa700 43.03%,#ff9d00 43.29%,#ff9b00 43.8%,#ffa400 44.32%,#fffb00 45.35%,#b1ff4e 46.38%,#8bff74 47.28%,#81ff7e 47.67%,#7fff80 61.58%,#72ff8d 62.1%,#24ffdb 63.64%,#14ffeb 64.16%,#12ffed 64.55%,#1bffe4 64.93%,#40ffbf 65.58%,#5cffa3 65.96%,#8eff71 66.48%,#a8ff57 66.86%,#e4ff1b 68.02%,#fffe00 68.93%,#ffb800 73.56%,#ff8500 75.5%,#ff7900 76.66%,#f80 78.46%,#ff9200 78.85%,#ffb100 79.36%,#fff800 80.13%,#f6ff09 80.26%,#e5ff1a 80.39%,#a7ff58 80.78%,#02fffd 81.55%,#0064ff 82.45%,#002aff 82.84%,#001dff 82.97%,#0012ff 83.23%,#0010ff 83.87%,#01f 85.93%,#001aff 86.32%,#03f 86.58%,#05f 86.83%,#00c0ff 87.61%,#04fffb 87.99%,#5bffa4 88.38%,#6eff91 88.51%,#79ff86 88.64%,#7fff80 88.89%,#80ff80 99.97%)"></i><i style="top:386px;height:19px;background:linear-gradient(90deg,#80ff80 0%,#80ff7f 20.1%,#8eff71 22.03%,#80ff7f 22.55%,#3fc 23.58%,#01fffe 24.61%,#00daff 25.51%,#00d4ff 25.9%,#00dbff 26.54%,#00fdff 27.57%,#25ffda 28.47%,#34ffcb 28.99%,#7fff80 32.21%,#94ff6b 33.75%,#94ff6b 37.49%,#85ff7a 38.52%,#53ffac 40.2%,#4dffb2 40.84%,#5effa1 41.1%,#73ff8c 41.23%,#e4ff1b 41.74%,#f8ff07 41.87%,#fff600 42%,#ff9e00 43.16%,#ff9500 43.42%,#ff9300 43.93%,#ff9700 44.19%,#ffa300 44.45%,#fffd00 45.48%,#b1ff4e 46.51%,#81ff7e 47.8%,#7fff80 61.58%,#71ff8e 62.1%,#23ffdc 63.64%,#13ffec 64.16%,#1fe 64.55%,#1affe5 64.93%,#40ffbf 65.58%,#5cffa3 65.96%,#9f6 66.61%,#b0ff4f 66.99%,#e1ff1e 67.89%,#ff0 68.8%,#ffb400 73.69%,#ff8100 75.62%,#f70 76.66%,#ff8b00 78.72%,#ffb100 79.36%,#fff800 80.13%,#f6ff09 80.26%,#e5ff1a 80.39%,#a6ff59 80.78%,#0ff 81.55%,#0062ff 82.45%,#0027ff 82.84%,#001aff 82.97%,#000fff 83.23%,#000dff 83.87%,#000eff 85.93%,#0016ff 86.32%,#002dff 86.58%,#004eff 86.83%,#00cdff 87.74%,#00fcff 87.99%,#1affe5 88.12%,#56ffa9 88.38%,#6cff93 88.51%,#78ff87 88.64%,#7fff80 88.89%,#80ff80 99.97%)"></i><i style="top:367px;height:19px;background:linear-gradient(90deg,#80ff80 0%,#80ff7f 20.1%,#8dff72 22.03%,#7eff81 22.55%,#30ffcf 23.58%,#03fffc 24.48%,#00d5ff 25.51%,#00cfff 25.9%,#00daff 26.67%,#0ff 27.7%,#23ffdc 28.47%,#32ffcd 28.99%,#7eff81 32.21%,#93ff6c 33.75%,#93ff6c 37.49%,#84ff7b 38.52%,#53ffac 40.2%,#4dffb2 40.84%,#5fffa0 41.1%,#73ff8c 41.23%,#e4ff1b 41.74%,#f8ff07 41.87%,#fff600 42%,#ff9c00 43.16%,#ff9000 43.42%,#ff8c00 43.8%,#ff8e00 44.19%,#ff9a00 44.45%,#fff400 45.48%,#feff01 45.61%,#b0ff4f 46.64%,#82ff7d 47.93%,#7fff80 61.58%,#71ff8e 62.1%,#2fd 63.64%,#12ffed 64.16%,#10ffef 64.55%,#19ffe6 64.93%,#3fffc0 65.58%,#5bffa4 65.96%,#98ff67 66.61%,#b1ff4e 66.99%,#e2ff1d 67.89%,#fdff02 68.67%,#ffe400 70.21%,#ffb300 73.69%,#ff8100 75.62%,#ff7600 76.66%,#ff8b00 78.72%,#ffb100 79.36%,#fff800 80.13%,#f6ff09 80.26%,#e4ff1b 80.39%,#a5ff5a 80.78%,#00fdff 81.55%,#0061ff 82.45%,#0026ff 82.84%,#0019ff 82.97%,#000eff 83.23%,#000cff 83.87%,#000cff 85.93%,#0013ff 86.32%,#0029ff 86.58%,#004aff 86.83%,#00c7ff 87.74%,#00f5ff 87.99%,#13ffec 88.12%,#52ffad 88.38%,#69ff96 88.51%,#7f8 88.64%,#7fff80 88.89%,#80ff80 99.97%)"></i><i style="top:347px;height:20px;background:linear-gradient(90deg,#80ff80 0%,#80ff7f 20.1%,#8cff73 22.03%,#7dff82 22.55%,#2effd1 23.58%,#0ff 24.48%,#00d5ff 25.38%,#00caff 25.9%,#00d5ff 26.67%,#00fcff 27.7%,#25ffda 28.6%,#49ffb6 30.02%,#7dff82 32.21%,#92ff6d 33.75%,#92ff6d 37.49%,#84ff7b 38.52%,#54ffab 40.2%,#4effb1 40.84%,#60ff9f 41.1%,#74ff8b 41.23%,#caff35 41.61%,#f8ff07 41.87%,#fff600 42%,#ff9300 43.29%,#f80 43.55%,#ff8400 43.93%,#ff8700 44.19%,#ff9100 44.45%,#fff600 45.61%,#fdff02 45.74%,#b0ff4f 46.77%,#82ff7d 48.05%,#7fff80 61.58%,#71ff8e 62.1%,#2fd 63.64%,#12ffed 64.16%,#10ffef 64.55%,#19ffe6 64.93%,#37ffc8 65.45%,#5bffa4 65.96%,#97ff68 66.61%,#cdff32 67.51%,#ecff13 68.15%,#fffe00 68.8%,#ffe200 70.21%,#ffb300 73.69%,#ff8000 75.62%,#ff7600 76.66%,#ff8a00 78.72%,#ffb000 79.36%,#fff800 80.13%,#f6ff09 80.26%,#e4ff1b 80.39%,#a4ff5b 80.78%,#16ffe9 81.42%,#00fbff 81.55%,#005fff 82.45%,#0024ff 82.84%,#0018ff 82.97%,#000dff 83.23%,#000cff 83.87%,#000cff 85.93%,#0012ff 86.32%,#0025ff 86.58%,#0045ff 86.83%,#00c2ff 87.74%,#00efff 87.99%,#0dfff2 88.12%,#4dffb2 88.38%,#6f9 88.51%,#75ff8a 88.64%,#7fff80 88.89%,#80ff80 99.97%)"></i><i style="top:328px;height:19px;background:linear-gradient(90deg,#80ff80 0%,#80ff7f 20.1%,#8bff74 22.03%,#87ff78 22.29%,#7cff83 22.55%,#2bffd4 23.58%,#02fffd 24.35%,#00d0ff 25.38%,#00c4ff 25.9%,#00d0ff 26.67%,#00feff 27.83%,#26ffd9 28.73%,#4affb5 30.15%,#7bff84 32.21%,#91ff6e 33.75%,#92ff6d 37.49%,#83ff7c 38.52%,#5fa 40.2%,#4fffb0 40.84%,#60ff9f 41.1%,#74ff8b 41.23%,#cbff34 41.61%,#f8ff07 41.87%,#fff600 42%,#ff8a00 43.42%,#ff7d00 43.93%,#ff7f00 44.19%,#ff8900 44.45%,#fff800 45.74%,#fbff04 45.86%,#afff50 46.9%,#82ff7d 48.18%,#7fff80 61.58%,#71ff8e 62.1%,#2fd 63.64%,#12ffed 64.16%,#0ffff0 64.55%,#18ffe7 64.93%,#36ffc9 65.45%,#5affa5 65.96%,#96ff69 66.61%,#cdff32 67.51%,#ecff13 68.15%,#fffe00 68.8%,#ffe100 70.21%,#ffb200 73.69%,#ff7f00 75.62%,#ff7500 76.66%,#ff8a00 78.72%,#ffb000 79.36%,#fff900 80.13%,#f6ff09 80.26%,#baff45 80.65%,#89ff76 80.91%,#14ffeb 81.42%,#00f9ff 81.55%,#005dff 82.45%,#0023ff 82.84%,#0016ff 82.97%,#000cff 83.23%,#000bff 83.87%,#000bff 86.06%,#0016ff 86.45%,#0030ff 86.7%,#0af 87.61%,#00d0ff 87.86%,#05fffa 88.12%,#61ff9e 88.51%,#72ff8d 88.64%,#7eff81 88.89%,#80ff80 99.97%)"></i><i style="top:309px;height:19px;background:linear-gradient(90deg,#80ff80 0%,#80ff7f 20.1%,#8aff75 22.03%,#86ff79 22.29%,#7aff85 22.55%,#29ffd6 23.58%,#00feff 24.35%,#00cbff 25.38%,#00bfff 25.9%,#00cbff 26.67%,#00faff 27.83%,#24ffdb 28.73%,#4cffb3 30.28%,#7cff83 32.34%,#90ff6f 33.75%,#91ff6e 37.49%,#83ff7c 38.52%,#5fa 40.2%,#50ffaf 40.84%,#61ff9e 41.1%,#75ff8a 41.23%,#cbff34 41.61%,#f8ff07 41.87%,#fff600 42%,#f80 43.42%,#ff7b00 43.67%,#ff7600 44.06%,#ff7a00 44.32%,#f80 44.58%,#fffb00 45.86%,#afff50 47.02%,#82ff7d 48.31%,#7fff80 61.58%,#72ff8d 62.1%,#2fd 63.64%,#12ffed 64.16%,#0ffff0 64.55%,#18ffe7 64.93%,#36ffc9 65.45%,#5affa5 65.96%,#95ff6a 66.61%,#d3ff2c 67.64%,#ecff13 68.15%,#fffe00 68.8%,#ffe000 70.21%,#ffb100 73.69%,#ff7f00 75.62%,#ff7500 76.66%,#ff8900 78.72%,#ffb000 79.36%,#fff900 80.13%,#f6ff09 80.26%,#baff45 80.65%,#8f7 80.91%,#12ffed 81.42%,#00f6ff 81.55%,#005bff 82.45%,#0021ff 82.84%,#0015ff 82.97%,#000cff 83.23%,#000aff 83.87%,#000bff 86.06%,#0014ff 86.45%,#002cff 86.7%,#00a5ff 87.61%,#00caff 87.86%,#00fdff 88.12%,#5cffa3 88.51%,#70ff8f 88.64%,#7eff81 88.89%,#80ff80 99.97%)"></i><i style="top:289px;height:20px;background:linear-gradient(90deg,#80ff80 0%,#80ff7f 20.1%,#89ff76 22.03%,#85ff7a 22.29%,#79ff86 22.55%,#30ffcf 23.45%,#02fffd 24.22%,#00c6ff 25.38%,#00baff 25.9%,#00bdff 26.28%,#00caff 26.8%,#00feff 27.96%,#21ffde 28.73%,#4bffb4 30.28%,#7bff84 32.34%,#90ff6f 33.75%,#91ff6e 37.49%,#82ff7d 38.52%,#56ffa9 40.2%,#51ffae 40.84%,#61ff9e 41.1%,#75ff8a 41.23%,#cbff34 41.61%,#f8ff07 41.87%,#fff600 42%,#ff7f00 43.55%,#ff7200 43.8%,#ff6f00 44.06%,#ff7200 44.32%,#ff7f00 44.58%,#fffd00 45.99%,#afff50 47.15%,#89ff76 48.18%,#81ff7e 48.57%,#7fff80 61.58%,#72ff8d 62.1%,#2fd 63.64%,#12ffed 64.16%,#0ffff0 64.55%,#17ffe8 64.93%,#35ffca 65.45%,#59ffa6 65.96%,#9eff61 66.74%,#d3ff2c 67.64%,#ebff14 68.15%,#fffe00 68.8%,#ffe000 70.21%,#ffb000 73.69%,#ff7e00 75.62%,#ff7400 76.66%,#f80 78.72%,#ffb000 79.36%,#fff900 80.13%,#f6ff09 80.26%,#b9ff46 80.65%,#87ff78 80.91%,#1fe 81.42%,#00f6ff 81.55%,#005aff 82.45%,#0021ff 82.84%,#0015ff 82.97%,#000bff 83.23%,#000aff 83.87%,#000aff 86.06%,#0012ff 86.45%,#0038ff 86.83%,#009eff 87.61%,#00c2ff 87.86%,#00f4ff 88.12%,#16ffe9 88.25%,#57ffa8 88.51%,#6dff92 88.64%,#79ff86 88.77%,#7fff80 89.02%,#80ff80 99.97%)"></i><i style="top:270px;height:19px;background:linear-gradient(90deg,#80ff80 0%,#80ff7f 20.1%,#89ff76 22.03%,#85ff7a 22.29%,#78ff87 22.55%,#25ffda 23.58%,#00feff 24.22%,#00c2ff 25.38%,#00b6ff 25.9%,#00b8ff 26.28%,#00c6ff 26.8%,#00faff 27.96%,#1fffe0 28.73%,#49ffb6 30.28%,#79ff86 32.34%,#8eff71 33.75%,#8fff70 37.49%,#82ff7d 38.52%,#56ffa9 40.2%,#51ffae 40.84%,#61ff9e 41.1%,#75ff8a 41.23%,#cbff34 41.61%,#f8ff07 41.87%,#fff600 42%,#ff7e00 43.55%,#ff6f00 43.8%,#ff6900 44.06%,#ff6c00 44.32%,#ff7800 44.58%,#fff600 45.99%,#feff01 46.12%,#b4ff4b 47.15%,#82ff7d 48.57%,#7fff80 61.58%,#72ff8d 62.1%,#2fd 63.64%,#1fe 64.16%,#0ffff0 64.55%,#17ffe8 64.93%,#35ffca 65.45%,#58ffa7 65.96%,#9dff62 66.74%,#d2ff2d 67.64%,#ebff14 68.15%,#fffe00 68.8%,#ffdf00 70.21%,#ffb000 73.69%,#ff7d00 75.62%,#ff7300 76.66%,#f80 78.72%,#ffb000 79.36%,#fff900 80.13%,#f6ff09 80.26%,#b9ff46 80.65%,#87ff78 80.91%,#1fe 81.42%,#00f6ff 81.55%,#005aff 82.45%,#0021ff 82.84%,#0014ff 82.97%,#000aff 83.23%,#0009ff 83.87%,#0009ff 86.06%,#0010ff 86.45%,#03f 86.83%,#0097ff 87.61%,#00baff 87.86%,#00eaff 88.12%,#0cfff3 88.25%,#51ffae 88.51%,#69ff96 88.64%,#7f8 88.77%,#7fff80 89.02%,#80ff80 99.97%)"></i><i style="top:251px;height:19px;background:linear-gradient(90deg,#80ff80 0%,#80ff7f 20.1%,#8f7 22.03%,#84ff7b 22.29%,#7f8 22.55%,#23ffdc 23.58%,#00fbff 24.22%,#00b8ff 25.51%,#00b1ff 26.02%,#00c7ff 26.93%,#00feff 28.09%,#1dffe2 28.73%,#48ffb7 30.28%,#7f8 32.34%,#8dff72 33.88%,#8eff71 37.49%,#81ff7e 38.52%,#56ffa9 40.2%,#51ffae 40.84%,#61ff9e 41.1%,#75ff8a 41.23%,#cbff34 41.61%,#f8ff07 41.87%,#fff600 42%,#ff7500 43.67%,#ff6800 43.93%,#ff6500 44.19%,#ff6b00 44.45%,#ff7c00 44.7%,#fffb00 46.12%,#b1ff4e 47.28%,#82ff7d 48.7%,#7fff80 61.58%,#72ff8d 62.1%,#2fd 63.64%,#1fe 64.16%,#0efff1 64.55%,#16ffe9 64.93%,#2cffd3 65.32%,#58ffa7 65.96%,#9cff63 66.74%,#d1ff2e 67.64%,#ebff14 68.15%,#fffe00 68.8%,#ffdf00 70.21%,#ffaf00 73.69%,#ff7d00 75.62%,#ff7300 76.66%,#ff8700 78.72%,#ffb000 79.36%,#fff900 80.13%,#f6ff09 80.26%,#b9ff46 80.65%,#87ff78 80.91%,#1fe 81.42%,#00f6ff 81.55%,#005aff 82.45%,#0020ff 82.84%,#0014ff 82.97%,#000aff 83.23%,#0009ff 83.87%,#0009ff 86.06%,#000eff 86.45%,#002fff 86.83%,#00a0ff 87.74%,#00c7ff 87.99%,#03fffc 88.25%,#4bffb4 88.51%,#6f9 88.64%,#76ff89 88.77%,#7fff80 89.02%,#80ff80 99.97%)"></i><i style="top:232px;height:19px;background:linear-gradient(90deg,#80ff80 0%,#80ff7f 20.1%,#8f7 22.03%,#84ff7b 22.29%,#76ff89 22.55%,#2affd5 23.45%,#01fffe 24.09%,#00baff 25.38%,#00adff 25.9%,#00afff 26.28%,#00beff 26.8%,#00fcff 28.09%,#1bffe4 28.73%,#4affb5 30.4%,#74ff8b 32.34%,#8bff74 33.88%,#8cff73 37.49%,#80ff7f 38.52%,#56ffa9 40.2%,#51ffae 40.84%,#61ff9e 41.1%,#75ff8a 41.23%,#cbff34 41.61%,#f8ff07 41.87%,#fff600 42%,#ff7400 43.67%,#f60 43.93%,#ff6100 44.19%,#f60 44.45%,#f70 44.7%,#fff600 46.12%,#feff01 46.25%,#c5ff3a 47.02%,#afff50 47.41%,#81ff7e 48.83%,#7fff80 61.58%,#72ff8d 62.1%,#1dffe2 63.77%,#1fe 64.16%,#0efff1 64.55%,#16ffe9 64.93%,#2cffd3 65.32%,#57ffa8 65.96%,#9bff64 66.74%,#d1ff2e 67.64%,#ebff14 68.15%,#fffe00 68.8%,#ffdf00 70.21%,#ffae00 73.69%,#ff7c00 75.62%,#ff7200 76.66%,#ff8700 78.72%,#ffb000 79.36%,#fff900 80.13%,#f6ff09 80.26%,#b9ff46 80.65%,#87ff78 80.91%,#1fe 81.42%,#00f6ff 81.55%,#005aff 82.45%,#0020ff 82.84%,#0014ff 82.97%,#0009ff 83.23%,#0008ff 83.87%,#0008ff 86.19%,#0013ff 86.58%,#003aff 86.96%,#0af 87.86%,#00d8ff 88.12%,#00f9ff 88.25%,#20ffdf 88.38%,#62ff9d 88.64%,#74ff8b 88.77%,#7fff80 89.02%,#80ff80 99.97%)"></i><i style="top:212px;height:20px;background:linear-gradient(90deg,#80ff80 0%,#80ff7f 20.1%,#8f7 22.03%,#83ff7c 22.29%,#75ff8a 22.55%,#1fffe0 23.58%,#00fdff 24.09%,#00b6ff 25.38%,#00a8ff 25.9%,#00abff 26.28%,#00baff 26.8%,#00f9ff 28.09%,#01fffe 28.21%,#19ffe6 28.73%,#49ffb6 30.4%,#72ff8d 32.34%,#89ff76 33.88%,#8bff74 37.49%,#7fff80 38.52%,#56ffa9 40.2%,#51ffae 40.84%,#61ff9e 41.1%,#74ff8b 41.23%,#caff35 41.61%,#f8ff07 41.87%,#fff600 42%,#ff7400 43.67%,#ff6400 43.93%,#ff5d00 44.19%,#ff6100 44.45%,#ff7100 44.7%,#fffb00 46.25%,#b3ff4c 47.41%,#81ff7e 48.96%,#7eff81 61.71%,#73ff8c 62.1%,#2fd 63.64%,#1fe 64.16%,#0efff1 64.55%,#16ffe9 64.93%,#2bffd4 65.32%,#57ffa8 65.96%,#9aff65 66.74%,#d8ff27 67.77%,#fffe00 68.8%,#ffdf00 70.21%,#ffad00 73.69%,#ff7b00 75.62%,#ff7100 76.66%,#ff8600 78.72%,#ffb000 79.36%,#fff900 80.13%,#f6ff09 80.26%,#b9ff46 80.65%,#87ff78 80.91%,#1fe 81.42%,#00f6ff 81.55%,#005aff 82.45%,#0020ff 82.84%,#0013ff 82.97%,#0009ff 83.23%,#0007ff 83.87%,#0008ff 86.19%,#0010ff 86.58%,#0035ff 86.96%,#00a3ff 87.86%,#00cfff 88.12%,#00efff 88.25%,#16ffe9 88.38%,#5dffa2 88.64%,#71ff8e 88.77%,#7eff81 89.02%,#80ff80 99.97%)"></i><i style="top:193px;height:19px;background:linear-gradient(90deg,#80ff80 0%,#80ff7f 20.1%,#87ff78 22.03%,#83ff7c 22.29%,#74ff8b 22.55%,#1dffe2 23.58%,#03fffc 23.96%,#00faff 24.09%,#00b1ff 25.38%,#00a7ff 25.64%,#00a4ff 26.02%,#0af 26.41%,#0bf 26.93%,#00feff 28.21%,#1bffe4 28.86%,#48ffb7 30.4%,#71ff8e 32.34%,#8f7 33.88%,#8aff75 37.49%,#7eff81 38.52%,#58ffa7 40.07%,#51ffae 40.84%,#61ff9e 41.1%,#75ff8a 41.23%,#cbff34 41.61%,#f8ff07 41.87%,#fff600 42%,#ff6b00 43.8%,#ff5d00 44.06%,#ff5900 44.32%,#ff6b00 44.7%,#fff500 46.25%,#feff01 46.38%,#b1ff4e 47.54%,#81ff7e 49.09%,#7eff81 61.71%,#73ff8c 62.1%,#2fd 63.64%,#1fe 64.16%,#0efff1 64.55%,#15ffea 64.93%,#2bffd4 65.32%,#56ffa9 65.96%,#9f6 66.74%,#d7ff28 67.77%,#fffe00 68.8%,#ffde00 70.21%,#ffad00 73.69%,#ff7b00 75.62%,#ff7100 76.66%,#ff8600 78.72%,#ffa600 79.23%,#fff900 80.13%,#f6ff09 80.26%,#b9ff46 80.65%,#87ff78 80.91%,#1fe 81.42%,#00f6ff 81.55%,#005aff 82.45%,#0020ff 82.84%,#0013ff 82.97%,#0008ff 83.23%,#0007ff 83.87%,#0007ff 86.19%,#000eff 86.58%,#0030ff 86.96%,#009bff 87.86%,#00c5ff 88.12%,#00e5ff 88.25%,#0cfff3 88.38%,#57ffa8 88.64%,#6dff92 88.77%,#79ff86 88.89%,#7fff80 89.15%,#80ff80 99.97%)"></i><i style="top:174px;height:19px;background:linear-gradient(90deg,#80ff80 0%,#80ff7f 20.1%,#87ff78 22.03%,#82ff7d 22.29%,#74ff8b 22.55%,#25ffda 23.45%,#01fffe 23.96%,#00adff 25.38%,#00a0ff 25.9%,#00a2ff 26.28%,#00b2ff 26.8%,#00cfff 27.44%,#00fbff 28.21%,#19ffe6 28.86%,#47ffb8 30.4%,#71ff8e 32.34%,#86ff79 33.75%,#89ff76 37.49%,#7eff81 38.52%,#59ffa6 40.07%,#51ffae 40.84%,#62ff9d 41.1%,#75ff8a 41.23%,#cbff34 41.61%,#f8ff07 41.87%,#fff600 42%,#ff6a00 43.8%,#ff5b00 44.06%,#ff5600 44.32%,#f60 44.7%,#fffb00 46.38%,#b5ff4a 47.54%,#82ff7d 49.09%,#7eff81 61.71%,#73ff8c 62.1%,#2fd 63.64%,#1fe 64.16%,#0dfff2 64.55%,#15ffea 64.93%,#2affd5 65.32%,#56ffa9 65.96%,#98ff67 66.74%,#d6ff29 67.77%,#ff0 68.8%,#ffde00 70.21%,#ffac00 73.69%,#ff7a00 75.62%,#ff7000 76.66%,#ff8500 78.72%,#ffa600 79.23%,#fff900 80.13%,#f6ff09 80.26%,#b9ff46 80.65%,#87ff78 80.91%,#1fe 81.42%,#00f6ff 81.55%,#005aff 82.45%,#001fff 82.84%,#0013ff 82.97%,#0008ff 83.23%,#0006ff 83.87%,#0006ff 86.19%,#000cff 86.58%,#002cff 86.96%,#0093ff 87.86%,#0bf 88.12%,#01fffe 88.38%,#50ffaf 88.64%,#69ff96 88.77%,#78ff87 88.89%,#7fff80 89.15%,#80ff80 99.97%)"></i><i style="top:154px;height:20px;background:linear-gradient(90deg,#80ff80 0%,#80ff7f 20.1%,#86ff79 22.03%,#81ff7e 22.29%,#73ff8c 22.55%,#23ffdc 23.45%,#00fdff 23.96%,#00a9ff 25.38%,#009bff 25.9%,#009eff 26.28%,#00aeff 26.8%,#00cbff 27.44%,#00f8ff 28.21%,#01fffe 28.34%,#17ffe8 28.86%,#45ffba 30.4%,#70ff8f 32.34%,#85ff7a 33.75%,#8f7 37.49%,#7dff82 38.52%,#59ffa6 40.07%,#52ffad 40.84%,#62ff9d 41.1%,#75ff8a 41.23%,#cbff34 41.61%,#f8ff07 41.87%,#fff600 42%,#ff6a00 43.8%,#ff5900 44.06%,#ff5200 44.32%,#ff5800 44.58%,#ff6b00 44.83%,#fff500 46.38%,#feff01 46.51%,#b2ff4d 47.67%,#82ff7d 49.21%,#7eff81 61.71%,#73ff8c 62.1%,#2fd 63.64%,#1fe 64.16%,#0dfff2 64.55%,#14ffeb 64.93%,#2affd5 65.32%,#5fa 65.96%,#97ff68 66.74%,#d6ff29 67.77%,#ff0 68.8%,#ffde00 70.21%,#ffab00 73.69%,#ff7900 75.62%,#ff7000 76.66%,#ff7d00 78.33%,#ff8500 78.72%,#ffa500 79.23%,#fff900 80.13%,#f6ff09 80.26%,#b9ff46 80.65%,#87ff78 80.91%,#1fe 81.42%,#00f6ff 81.55%,#005aff 82.45%,#001fff 82.84%,#0012ff 82.97%,#0007ff 83.23%,#0006ff 83.87%,#0006ff 86.32%,#0010ff 86.7%,#0034ff 87.09%,#009bff 87.99%,#0cf 88.25%,#00f2ff 88.38%,#1dffe2 88.51%,#45ffba 88.64%,#63ff9c 88.77%,#75ff8a 88.89%,#7fff80 89.15%,#80ff80 99.97%)"></i><i style="top:135px;height:19px;background:linear-gradient(90deg,#80ff80 0%,#80ff7f 20.1%,#86ff79 22.03%,#81ff7e 22.29%,#72ff8d 22.55%,#04fffb 23.83%,#00a5ff 25.38%,#0097ff 25.9%,#009dff 26.41%,#00afff 26.93%,#00fdff 28.34%,#4fb 30.4%,#6fff90 32.34%,#83ff7c 33.75%,#87ff78 37.49%,#7dff82 38.52%,#59ffa6 40.07%,#52ffad 40.84%,#62ff9d 41.1%,#75ff8a 41.23%,#cbff34 41.61%,#f8ff07 41.87%,#fff600 42%,#ff6100 43.93%,#ff4e00 44.32%,#ff5300 44.58%,#ff6500 44.83%,#fffb00 46.51%,#b0ff4f 47.8%,#81ff7e 49.34%,#7eff81 61.71%,#73ff8c 62.1%,#2fd 63.64%,#1fe 64.16%,#0dfff2 64.55%,#14ffeb 64.93%,#29ffd6 65.32%,#5fffa0 66.09%,#96ff69 66.74%,#d5ff2a 67.77%,#ff0 68.8%,#ffde00 70.21%,#ffab00 73.69%,#ff7800 75.62%,#ff6f00 76.66%,#ff7c00 78.33%,#ff8400 78.72%,#ffa500 79.23%,#fff900 80.13%,#f6ff09 80.26%,#b9ff46 80.65%,#87ff78 80.91%,#1fe 81.42%,#00f6ff 81.55%,#005aff 82.45%,#001fff 82.84%,#0012ff 82.97%,#0006ff 83.23%,#0005ff 83.87%,#0005ff 86.32%,#000dff 86.7%,#002eff 87.09%,#0091ff 87.99%,#00c0ff 88.25%,#00e4ff 88.38%,#10ffef 88.51%,#3bffc4 88.64%,#5dffa2 88.77%,#72ff8d 88.89%,#7fff80 89.15%,#80ff80 99.97%)"></i><i style="top:116px;height:19px;background:linear-gradient(90deg,#80ff80 0%,#80ff7f 20.1%,#86ff79 22.03%,#80ff7f 22.29%,#71ff8e 22.55%,#02fffd 23.83%,#00a1ff 25.38%,#0092ff 25.9%,#0098ff 26.41%,#00abff 26.93%,#00fbff 28.34%,#43ffbc 30.4%,#6bff94 32.21%,#82ff7d 33.75%,#85ff7a 37.49%,#7cff83 38.52%,#59ffa6 40.07%,#53ffac 40.84%,#63ff9c 41.1%,#76ff89 41.23%,#cbff34 41.61%,#f8ff07 41.87%,#fff600 42%,#ff6000 43.93%,#ff5000 44.19%,#ff4b00 44.45%,#ff5f00 44.83%,#fff500 46.51%,#feff01 46.64%,#c2ff3d 47.54%,#aeff51 47.93%,#81ff7e 49.47%,#7eff81 61.71%,#74ff8b 62.1%,#2fd 63.64%,#10ffef 64.16%,#0cfff3 64.55%,#0ffff0 64.8%,#21ffde 65.19%,#54ffab 65.96%,#a6ff59 66.99%,#e3ff1c 68.02%,#ff0 68.8%,#ffdb00 70.34%,#fa0 73.69%,#ff7a00 75.5%,#ff6f00 76.53%,#ff7c00 78.33%,#ff8400 78.72%,#ffa500 79.23%,#fff900 80.13%,#f6ff09 80.26%,#b9ff46 80.65%,#87ff78 80.91%,#1fe 81.42%,#00f6ff 81.55%,#005aff 82.45%,#001fff 82.84%,#01f 82.97%,#0006ff 83.23%,#0004ff 83.87%,#0004ff 86.32%,#000bff 86.7%,#0028ff 87.09%,#08f 87.99%,#00b3ff 88.25%,#01fffe 88.51%,#54ffab 88.77%,#6dff92 88.89%,#7eff81 89.15%,#80ff80 99.97%)"></i><i style="top:96px;height:20px;background:linear-gradient(90deg,#80ff80 0%,#80ff7f 20.1%,#85ff7a 22.03%,#80ff7f 22.29%,#70ff8f 22.55%,#1dffe2 23.45%,#00feff 23.83%,#009dff 25.38%,#008eff 25.9%,#0094ff 26.41%,#00a7ff 26.93%,#00f8ff 28.34%,#0ff 28.47%,#45ffba 30.53%,#6bff94 32.21%,#81ff7e 33.75%,#84ff7b 37.62%,#7cff83 38.52%,#5affa5 40.07%,#53ffac 40.84%,#63ff9c 41.1%,#76ff89 41.23%,#cbff34 41.61%,#f8ff07 41.87%,#fff600 42%,#ff5700 44.06%,#ff4700 44.45%,#ff5900 44.83%,#fffa00 46.64%,#faff05 46.77%,#b2ff4d 47.93%,#81ff7e 49.6%,#7eff81 61.71%,#74ff8b 62.1%,#2fd 63.64%,#10ffef 64.16%,#0cfff3 64.55%,#13ffec 64.93%,#20ffdf 65.19%,#54ffab 65.96%,#a5ff5a 66.99%,#e2ff1d 68.02%,#ff0 68.8%,#ffdb00 70.34%,#ffa900 73.69%,#ff7900 75.5%,#ff6e00 76.53%,#ff7b00 78.33%,#ff8300 78.72%,#ffa500 79.23%,#fff900 80.13%,#f6ff09 80.26%,#b9ff46 80.65%,#87ff78 80.91%,#1fe 81.42%,#00f6ff 81.55%,#0045ff 82.58%,#01f 82.97%,#0005ff 83.23%,#0004ff 83.87%,#0004ff 86.45%,#000fff 86.83%,#0030ff 87.22%,#0090ff 88.12%,#00a6ff 88.25%,#00c6ff 88.38%,#00f0ff 88.51%,#1fffe0 88.64%,#49ffb6 88.77%,#6f9 88.89%,#76ff89 89.02%,#7fff80 89.28%,#80ff80 99.97%)"></i><i style="top:77px;height:19px;background:linear-gradient(90deg,#80ff80 0%,#80ff7f 20.1%,#85ff7a 22.03%,#7fff80 22.29%,#6fff90 22.55%,#1cffe3 23.45%,#00fcff 23.83%,#09f 25.38%,#008aff 25.9%,#0090ff 26.41%,#00a4ff 26.93%,#00fdff 28.47%,#4fb 30.53%,#6aff95 32.21%,#80ff7f 33.75%,#83ff7c 37.62%,#7bff84 38.52%,#5affa5 40.07%,#53ffac 40.84%,#63ff9c 41.1%,#76ff89 41.23%,#cbff34 41.61%,#f8ff07 41.87%,#fff600 42%,#ff5700 44.06%,#f40 44.45%,#ff4500 44.58%,#ff5400 44.83%,#fff500 46.64%,#feff01 46.77%,#b0ff4f 48.05%,#82ff7d 49.6%,#7eff81 61.71%,#74ff8b 62.1%,#2fd 63.64%,#10ffef 64.16%,#0cfff3 64.55%,#13ffec 64.93%,#20ffdf 65.19%,#53ffac 65.96%,#a4ff5b 66.99%,#e2ff1d 68.02%,#ff0 68.8%,#ffdb00 70.34%,#ffa800 73.69%,#ff7900 75.5%,#ff6d00 76.53%,#ff7a00 78.33%,#ff8300 78.72%,#ffa500 79.23%,#fff900 80.13%,#f6ff09 80.26%,#b9ff46 80.65%,#87ff78 80.91%,#1fe 81.42%,#00f6ff 81.55%,#0045ff 82.58%,#01f 82.97%,#0005ff 83.23%,#0003ff 84%,#0003ff 86.45%,#000bff 86.83%,#002aff 87.22%,#0086ff 88.12%,#009aff 88.25%,#00b8ff 88.38%,#00e1ff 88.51%,#1fe 88.64%,#3effc1 88.77%,#60ff9f 88.89%,#73ff8c 89.02%,#7fff80 89.28%,#80ff80 99.97%)"></i><i style="top:58px;height:19px;background:linear-gradient(90deg,#80ff80 0%,#80ff7f 20.1%,#84ff7b 22.03%,#7fff80 22.29%,#6fff90 22.55%,#1bffe4 23.45%,#00fbff 23.83%,#0097ff 25.38%,#08f 25.9%,#008eff 26.41%,#00a2ff 26.93%,#00fcff 28.47%,#4fb 30.53%,#69ff96 32.21%,#7fff80 33.75%,#82ff7d 37.62%,#7bff84 38.52%,#5affa5 40.07%,#54ffab 40.84%,#64ff9b 41.1%,#76ff89 41.23%,#cbff34 41.61%,#f8ff07 41.87%,#fff600 42%,#ff5700 44.06%,#ff4300 44.45%,#ff4300 44.58%,#ff5000 44.83%,#fffc00 46.77%,#b2ff4d 48.05%,#81ff7e 49.73%,#7fff80 61.71%,#74ff8b 62.1%,#2fd 63.64%,#10ffef 64.16%,#0cfff3 64.55%,#12ffed 64.93%,#1fffe0 65.19%,#53ffac 65.96%,#92ff6d 66.74%,#abff54 67.12%,#e1ff1e 68.02%,#ff0 68.8%,#ffdb00 70.34%,#ffa800 73.69%,#ff7800 75.5%,#ff6d00 76.53%,#ff7a00 78.33%,#ff8200 78.72%,#ffa500 79.23%,#fff900 80.13%,#f6ff09 80.26%,#b9ff46 80.65%,#87ff78 80.91%,#1fe 81.42%,#00f6ff 81.55%,#0045ff 82.58%,#01f 82.97%,#0004ff 83.23%,#0002ff 84%,#0003ff 86.58%,#0010ff 86.96%,#007dff 88.12%,#0090ff 88.25%,#00acff 88.38%,#03fffc 88.64%,#3fc 88.77%,#59ffa6 88.89%,#70ff8f 89.02%,#7fff80 89.28%,#80ff80 99.97%)"></i><i style="top:39px;height:19px;background:linear-gradient(90deg,#80ff80 0%,#80ff7f 20.1%,#84ff7b 22.03%,#7eff81 22.29%,#6eff91 22.55%,#0ffff0 23.58%,#00faff 23.83%,#0095ff 25.38%,#0086ff 25.9%,#008dff 26.41%,#00a0ff 26.93%,#00fbff 28.47%,#43ffbc 30.53%,#68ff97 32.21%,#7eff81 33.75%,#80ff7f 37.75%,#79ff86 38.65%,#5bffa4 40.07%,#54ffab 40.84%,#64ff9b 41.1%,#7f8 41.23%,#cbff34 41.61%,#f8ff07 41.87%,#fff600 42%,#ff4d00 44.19%,#ff4100 44.58%,#ff5700 44.96%,#fff900 46.77%,#fcff03 46.9%,#b0ff4f 48.18%,#81ff7e 49.86%,#7fff80 61.71%,#75ff8a 62.1%,#2fd 63.64%,#10ffef 64.16%,#0bfff4 64.55%,#12ffed 64.93%,#1fffe0 65.19%,#49ffb6 65.83%,#abff54 67.12%,#e1ff1e 68.02%,#ff0 68.8%,#ffda00 70.34%,#ffa700 73.69%,#f70 75.5%,#ff6c00 76.53%,#ff7900 78.33%,#ff8200 78.72%,#ffa500 79.23%,#fff900 80.13%,#f6ff09 80.26%,#b9ff46 80.65%,#87ff78 80.91%,#1fe 81.42%,#00f6ff 81.55%,#0045ff 82.58%,#0010ff 82.97%,#0004ff 83.23%,#0002ff 84%,#0002ff 86.58%,#000dff 86.96%,#005bff 87.86%,#0085ff 88.25%,#009eff 88.38%,#00c3ff 88.51%,#00f1ff 88.64%,#24ffdb 88.77%,#4effb1 88.89%,#6aff95 89.02%,#78ff87 89.15%,#7fff80 89.41%,#80ff80 99.97%)"></i><i style="top:19px;height:20px;background:linear-gradient(90deg,#80ff80 0%,#84ff7b 22.03%,#7eff81 22.29%,#6dff92 22.55%,#04fffb 23.71%,#0094ff 25.38%,#0084ff 25.9%,#008bff 26.41%,#009fff 26.93%,#00faff 28.47%,#02fffd 28.6%,#43ffbc 30.53%,#68ff97 32.21%,#7dff82 33.75%,#7fff80 37.88%,#79ff86 38.65%,#59ffa6 40.2%,#5fa 40.84%,#64ff9b 41.1%,#7f8 41.23%,#cbff34 41.61%,#f8ff07 41.87%,#fff600 42%,#ff4d00 44.19%,#ff3f00 44.58%,#ff5300 44.96%,#ff0 46.9%,#b2ff4d 48.18%,#82ff7d 49.86%,#7fff80 61.71%,#75ff8a 62.1%,#2fd 63.64%,#10ffef 64.16%,#0bfff4 64.55%,#1fe 64.93%,#1effe1 65.19%,#52ffad 65.96%,#90ff6f 66.74%,#baff45 67.38%,#e7ff18 68.15%,#feff01 68.8%,#ffda00 70.34%,#ffa600 73.69%,#ff7600 75.5%,#ff6b00 76.53%,#ff7900 78.33%,#ff8100 78.72%,#ffa500 79.23%,#fff900 80.13%,#f6ff09 80.26%,#b9ff46 80.65%,#87ff78 80.91%,#1fe 81.42%,#00f6ff 81.55%,#0045ff 82.58%,#0010ff 82.97%,#0003ff 83.23%,#0001ff 84%,#0002ff 86.58%,#000aff 86.96%,#0031ff 87.48%,#007bff 88.25%,#0091ff 88.38%,#00b3ff 88.51%,#00e0ff 88.64%,#14ffeb 88.77%,#42ffbd 88.89%,#63ff9c 89.02%,#75ff8a 89.15%,#7fff80 89.41%,#80ff80 99.97%)"></i><i style="top:0px;height:19px;background:linear-gradient(90deg,#80ff80 0%,#83ff7c 22.03%,#7dff82 22.29%,#6dff92 22.55%,#03fffc 23.71%,#0092ff 25.38%,#0082ff 25.9%,#0089ff 26.41%,#009dff 26.93%,#00f9ff 28.47%,#01fffe 28.6%,#42ffbd 30.53%,#67ff98 32.21%,#7cff83 33.75%,#7cff83 38.13%,#78ff87 38.65%,#5affa5 40.2%,#5fa 40.84%,#65ff9a 41.1%,#7f8 41.23%,#cbff34 41.61%,#f8ff07 41.87%,#fff600 42%,#ff4d00 44.19%,#ff3d00 44.58%,#ff4f00 44.96%,#fffc00 46.9%,#b5ff4a 48.18%,#81ff7e 49.99%,#7fff80 61.71%,#75ff8a 62.1%,#2fd 63.64%,#10ffef 64.16%,#0bfff4 64.55%,#1fe 64.93%,#1effe1 65.19%,#51ffae 65.96%,#98ff67 66.86%,#c9ff36 67.64%,#e6ff19 68.15%,#feff01 68.8%,#ffda00 70.34%,#ffa500 73.69%,#ff7600 75.5%,#ff6b00 76.53%,#ff7800 78.33%,#ff8100 78.72%,#ffa500 79.23%,#fff900 80.13%,#f6ff09 80.26%,#b9ff46 80.65%,#87ff78 80.91%,#1fe 81.42%,#00f6ff 81.55%,#0045ff 82.58%,#0010ff 82.97%,#0003ff 83.23%,#0001ff 84%,#0001ff 86.58%,#0003ff 86.83%,#000eff 87.09%,#0072ff 88.25%,#0085ff 88.38%,#00a4ff 88.51%,#04fffb 88.77%,#36ffc9 88.89%,#5cffa3 89.02%,#72ff8d 89.15%,#7fff80 89.41%,#80ff80 99.97%)"></i></div>
<div class="pn" style="left:932.5px"><i style="top:733px;height:20px;background:linear-gradient(90deg,#80ff80 0%,#80ff7f 20.87%,#8bff74 23.32%,#87ff78 23.71%,#53ffac 25.51%,#4dffb2 26.54%,#52ffad 27.57%,#6eff91 28.73%,#76ff89 29.37%,#85ff7a 33.63%,#86ff79 37.23%,#7fff80 38.65%,#5dffa2 40.07%,#5fa 40.71%,#59ffa6 40.97%,#63ff9c 41.1%,#aeff51 41.61%,#c8ff37 41.87%,#d1ff2e 42.26%,#cbff34 42.64%,#a3ff5c 43.29%,#92ff6d 43.67%,#80ff7f 44.45%,#80ff7f 77.94%,#82ff7d 78.2%,#93ff6c 78.46%,#a7ff58 78.59%,#f7ff08 78.97%,#fff200 79.1%,#ffdc00 79.36%,#ffda00 79.62%,#ffe900 80.13%,#fffb00 80.39%,#f4ff0b 80.52%,#a7ff58 81.04%,#20ffdf 81.81%,#0ff 82.07%,#00e5ff 82.45%,#00dcff 82.71%,#00e4ff 82.97%,#06fff9 83.23%,#6aff95 83.74%,#7f8 83.87%,#7fff80 84.13%,#80ff80 99.97%)"></i><i style="top:714px;height:19px;background:linear-gradient(90deg,#80ff80 0%,#80ff7f 20.74%,#8dff72 23.32%,#87ff78 23.71%,#4cffb3 25.38%,#42ffbd 26.54%,#49ffb6 27.57%,#69ff96 28.73%,#73ff8c 29.37%,#86ff79 33.63%,#87ff78 37.23%,#7fff80 38.65%,#5cffa3 40.07%,#53ffac 40.71%,#59ffa6 40.97%,#63ff9c 41.1%,#73ff8c 41.23%,#b6ff49 41.61%,#d4ff2b 41.87%,#deff21 42.13%,#dfff20 42.39%,#d3ff2c 42.9%,#acff53 43.42%,#92ff6d 43.93%,#84ff7b 44.32%,#80ff7f 44.7%,#80ff7f 77.69%,#81ff7e 77.94%,#8fff70 78.2%,#b8ff47 78.46%,#ef1 78.72%,#fff800 78.85%,#ffd900 79.1%,#ffd200 79.36%,#ffe000 80.01%,#fffa00 80.39%,#f4ff0b 80.52%,#cfff30 80.78%,#1fffe0 81.81%,#00feff 82.07%,#00e3ff 82.45%,#00d2ff 82.84%,#00dcff 83.1%,#0ff 83.35%,#69ff96 83.87%,#7f8 84%,#7fff80 84.26%,#80ff80 99.97%)"></i><i style="top:695px;height:19px;background:linear-gradient(90deg,#80ff80 0%,#80ff7f 20.74%,#8fff70 23.19%,#8aff75 23.58%,#43ffbc 25.38%,#37ffc8 26.41%,#3fffc0 27.57%,#65ff9a 28.73%,#70ff8f 29.37%,#8f7 33.63%,#89ff76 37.23%,#7fff80 38.65%,#5bffa4 40.07%,#52ffad 40.71%,#58ffa7 40.97%,#63ff9c 41.1%,#74ff8b 41.23%,#bfff40 41.61%,#e1ff1e 41.87%,#ebff14 42.13%,#edff12 42.39%,#e7ff18 42.9%,#a4ff5b 43.8%,#87ff78 44.45%,#80ff7f 44.83%,#80ff7f 77.56%,#84ff7b 77.81%,#9aff65 78.07%,#ff0 78.59%,#ffda00 78.85%,#fc0 79.1%,#fd0 80.01%,#fffa00 80.39%,#f3ff0c 80.52%,#ceff31 80.78%,#1effe1 81.81%,#00fdff 82.07%,#00daff 82.58%,#00c9ff 82.97%,#00d3ff 83.23%,#00f9ff 83.48%,#15ffea 83.61%,#51ffae 83.87%,#68ff97 84%,#76ff89 84.13%,#7fff80 84.39%,#80ff80 99.97%)"></i><i style="top:675px;height:20px;background:linear-gradient(90deg,#80ff80 0%,#80ff7f 20.61%,#90ff6f 22.42%,#91ff6e 23.19%,#89ff76 23.58%,#63ff9c 24.35%,#39ffc6 25.38%,#2effd1 25.9%,#2cffd3 26.54%,#36ffc9 27.57%,#5cffa3 28.6%,#6cff93 29.25%,#89ff76 33.75%,#8aff75 37.23%,#84ff7b 38.26%,#7dff82 38.78%,#58ffa7 40.2%,#52ffad 40.84%,#62ff9d 41.1%,#75ff8a 41.23%,#daff25 41.74%,#f1ff0e 42%,#f5ff0a 42.26%,#f1ff0e 43.03%,#e1ff1e 43.29%,#b3ff4c 43.8%,#a2ff5d 44.06%,#85ff7a 44.7%,#80ff7f 45.09%,#80ff7f 77.17%,#82ff7d 77.56%,#93ff6c 77.81%,#a7ff58 77.94%,#f8ff07 78.33%,#ffef00 78.46%,#ffcf00 78.72%,#ffc700 78.85%,#ffc600 79.1%,#ffda00 80.01%,#fffa00 80.39%,#f3ff0c 80.52%,#b9ff46 80.91%,#1dffe2 81.81%,#00fcff 82.07%,#00d0ff 82.71%,#00bfff 83.1%,#00cbff 83.35%,#00f3ff 83.61%,#1fe 83.74%,#4fffb0 84%,#67ff98 84.13%,#76ff89 84.26%,#7fff80 84.51%,#80ff80 99.97%)"></i><i style="top:656px;height:19px;background:linear-gradient(90deg,#80ff80 0%,#80ff7f 20.61%,#92ff6d 22.29%,#93ff6c 23.06%,#8dff72 23.45%,#5effa1 24.35%,#32ffcd 25.38%,#27ffd8 25.9%,#25ffda 26.41%,#31ffce 27.57%,#59ffa6 28.6%,#69ff96 29.25%,#8bff74 33.75%,#8cff73 37.23%,#85ff7a 38.26%,#80ff7f 38.65%,#57ffa8 40.2%,#51ffae 40.84%,#62ff9d 41.1%,#76ff89 41.23%,#caff35 41.61%,#f1ff0e 41.87%,#faff05 42%,#ff0 42.26%,#fbff04 43.16%,#ebff14 43.42%,#baff45 43.93%,#a8ff57 44.19%,#87ff78 44.83%,#80ff7f 45.22%,#7eff81 64.03%,#80ff7f 77.17%,#85ff7a 77.43%,#8fff70 77.56%,#b8ff47 77.81%,#efff10 78.07%,#fff600 78.2%,#ffd000 78.46%,#ffc500 78.59%,#ffbf00 78.85%,#ffd100 79.88%,#ffdf00 80.13%,#fffa00 80.39%,#f2ff0d 80.52%,#b8ff47 80.91%,#1cffe3 81.81%,#00fbff 82.07%,#00c8ff 82.84%,#00b8ff 83.23%,#00c5ff 83.48%,#00efff 83.74%,#0dfff2 83.87%,#4dffb2 84.13%,#6f9 84.26%,#76ff89 84.39%,#7fff80 84.64%,#80ff80 99.97%)"></i><i style="top:637px;height:19px;background:linear-gradient(90deg,#80ff80 0%,#80ff7f 20.61%,#95ff6a 22.29%,#96ff69 22.93%,#8bff74 23.45%,#60ff9f 24.22%,#27ffd8 25.51%,#1fffe0 26.02%,#1effe1 26.54%,#2bffd4 27.57%,#5fa 28.6%,#67ff98 29.25%,#8cff73 33.75%,#89ff76 37.88%,#80ff7f 38.65%,#56ffa9 40.2%,#50ffaf 40.84%,#61ff9e 41.1%,#75ff8a 41.23%,#e3ff1c 41.74%,#fffe00 42%,#fff600 42.39%,#fff700 43.03%,#fffd00 43.29%,#f0ff0f 43.55%,#bdff42 44.06%,#af5 44.32%,#89ff76 44.96%,#80ff7f 45.35%,#7dff82 56.3%,#80ff7f 76.91%,#84ff7b 77.17%,#9aff65 77.43%,#fffe00 77.94%,#ffd400 78.2%,#ffc500 78.33%,#ffbc00 78.46%,#ffb800 78.72%,#ffce00 79.88%,#ffde00 80.13%,#fffb00 80.39%,#f2ff0d 80.52%,#a3ff5c 81.04%,#1bffe4 81.81%,#09fff6 81.94%,#00faff 82.07%,#00c2ff 82.84%,#00afff 83.23%,#00b3ff 83.48%,#00bfff 83.61%,#00ebff 83.87%,#0afff5 84%,#4cffb3 84.26%,#6f9 84.39%,#75ff8a 84.51%,#7fff80 84.77%,#80ff80 99.97%)"></i><i style="top:617px;height:20px;background:linear-gradient(90deg,#80ff80 0%,#80ff7f 20.48%,#95ff6a 22.67%,#8cff73 23.32%,#4fffb0 24.48%,#20ffdf 25.51%,#17ffe8 26.41%,#26ffd9 27.57%,#52ffad 28.6%,#64ff9b 29.25%,#8eff71 33.75%,#8cff73 37.62%,#83ff7c 38.52%,#58ffa7 40.07%,#4fffb0 40.84%,#60ff9f 41.1%,#74ff8b 41.23%,#e4ff1b 41.74%,#f7ff08 41.87%,#fffb00 42%,#fff000 42.26%,#fe0 43.03%,#fff100 43.29%,#fffd00 43.55%,#afff50 44.45%,#8f7 45.22%,#80ff7f 45.61%,#7dff82 56.3%,#80ff7f 76.78%,#87ff78 77.04%,#93ff6c 77.17%,#a7ff58 77.3%,#f8ff07 77.69%,#fe0 77.81%,#ffc700 78.07%,#fb0 78.2%,#ffb400 78.33%,#ffb200 78.59%,#ffca00 79.88%,#ffdc00 80.13%,#fffb00 80.39%,#f1ff0e 80.52%,#a2ff5d 81.04%,#1affe5 81.81%,#08fff7 81.94%,#00f8ff 82.07%,#00b4ff 82.97%,#00a5ff 83.35%,#00adff 83.61%,#00baff 83.74%,#00e7ff 84%,#06fff9 84.13%,#4affb5 84.39%,#65ff9a 84.51%,#75ff8a 84.64%,#7fff80 84.9%,#80ff80 99.97%)"></i><i style="top:598px;height:19px;background:linear-gradient(90deg,#80ff80 0%,#80ff7f 20.48%,#94ff6b 22.55%,#87ff78 23.32%,#19ffe6 25.51%,#10ffef 26.41%,#20ffdf 27.57%,#4effb1 28.6%,#61ff9e 29.25%,#8fff70 33.75%,#8eff71 37.62%,#84ff7b 38.52%,#57ffa8 40.07%,#4effb1 40.84%,#5fffa0 41.1%,#74ff8b 41.23%,#e4ff1b 41.74%,#f8ff07 41.87%,#fff800 42%,#ffe700 42.39%,#ffe600 43.16%,#fe0 43.55%,#feff01 43.8%,#bfff40 44.45%,#acff53 44.7%,#8cff73 45.35%,#81ff7e 45.74%,#7cff83 56.3%,#80ff7f 76.53%,#85ff7a 76.78%,#8fff70 76.91%,#b8ff47 77.17%,#efff10 77.43%,#fff600 77.56%,#ffbc00 77.94%,#ffb100 78.07%,#ffab00 78.33%,#ffc200 79.75%,#ffd000 80.01%,#fffc00 80.39%,#a1ff5e 81.04%,#19ffe6 81.81%,#07fff8 81.94%,#00f7ff 82.07%,#00afff 82.97%,#00a1ff 83.23%,#009eff 83.48%,#00a8ff 83.74%,#00b5ff 83.87%,#00c8ff 84%,#03fffc 84.26%,#49ffb6 84.51%,#64ff9b 84.64%,#75ff8a 84.77%,#7fff80 85.03%,#80ff80 99.97%)"></i><i style="top:579px;height:19px;background:linear-gradient(90deg,#80ff80 0%,#80ff7f 20.48%,#93ff6c 22.42%,#87ff78 23.19%,#12ffed 25.51%,#08fff7 26.28%,#17ffe8 27.44%,#4affb5 28.6%,#5dffa2 29.25%,#91ff6e 33.75%,#8fff70 37.62%,#84ff7b 38.52%,#56ffa9 40.07%,#4dffb2 40.84%,#5effa1 41.1%,#73ff8c 41.23%,#e4ff1b 41.74%,#f8ff07 41.87%,#fff700 42%,#ffe100 42.39%,#ffde00 43.16%,#ffe200 43.55%,#fffa00 43.93%,#f8ff07 44.06%,#c6ff39 44.58%,#a9ff56 44.96%,#8aff75 45.61%,#81ff7e 45.99%,#7cff83 56.3%,#80ff7f 76.27%,#84ff7b 76.53%,#9aff65 76.78%,#fffe00 77.3%,#ffd100 77.56%,#ffb100 77.81%,#ffa900 77.94%,#ffa500 78.2%,#ffbe00 79.75%,#ffce00 80.01%,#fffd00 80.39%,#a0ff5f 81.04%,#18ffe7 81.81%,#06fff9 81.94%,#00f5ff 82.07%,#00a9ff 82.97%,#009cff 83.23%,#0098ff 83.48%,#009bff 83.74%,#00b0ff 84%,#00c4ff 84.13%,#00feff 84.39%,#47ffb8 84.64%,#63ff9c 84.77%,#74ff8b 84.9%,#7fff80 85.16%,#80ff80 99.97%)"></i><i style="top:560px;height:19px;background:linear-gradient(90deg,#80ff80 0%,#80ff7f 20.36%,#93ff6c 22.29%,#82ff7d 23.19%,#0bfff4 25.51%,#01fffe 26.28%,#12ffed 27.44%,#46ffb9 28.6%,#59ffa6 29.25%,#84ff7b 32.34%,#92ff6d 33.75%,#92ff6d 37.49%,#85ff7a 38.52%,#5fa 40.07%,#4bffb4 40.84%,#5effa1 41.1%,#72ff8d 41.23%,#e4ff1b 41.74%,#f8ff07 41.87%,#fff700 42%,#ffe200 42.26%,#ffd800 42.51%,#ffd600 43.42%,#ffe100 43.8%,#ff0 44.19%,#c1ff3e 44.83%,#aeff51 45.09%,#89ff76 45.86%,#80ff7f 46.25%,#7bff84 56.3%,#80ff7f 76.14%,#87ff78 76.4%,#93ff6c 76.53%,#a7ff58 76.66%,#f8ff07 77.04%,#ffed00 77.17%,#ffc400 77.43%,#ffa700 77.69%,#ff9f00 78.07%,#ffba00 79.75%,#ffcd00 80.01%,#fffd00 80.39%,#9fff60 81.04%,#17ffe8 81.81%,#04fffb 81.94%,#00f4ff 82.07%,#00a3ff 82.97%,#0096ff 83.23%,#0092ff 83.61%,#0096ff 83.87%,#00abff 84.13%,#00bfff 84.26%,#00fbff 84.51%,#62ff9d 84.9%,#74ff8b 85.03%,#7fff80 85.29%,#80ff80 99.97%)"></i><i style="top:540px;height:20px;background:linear-gradient(90deg,#80ff80 0%,#80ff7f 20.36%,#92ff6d 22.29%,#82ff7d 23.06%,#17ffe8 25.12%,#0ff 25.77%,#0ff 26.67%,#0cfff3 27.31%,#43ffbc 28.6%,#56ffa9 29.25%,#85ff7a 32.34%,#94ff6b 33.75%,#93ff6c 37.49%,#85ff7a 38.52%,#54ffab 40.07%,#4affb5 40.84%,#5dffa2 41.1%,#72ff8d 41.23%,#e4ff1b 41.74%,#f8ff07 41.87%,#fff700 42%,#ffd300 42.51%,#ffcd00 43.42%,#ffd300 43.8%,#fff900 44.32%,#f9ff06 44.45%,#c8ff37 44.96%,#acff53 45.35%,#8f7 46.12%,#80ff7f 46.51%,#7bff84 56.3%,#80ff7f 76.01%,#87ff78 76.27%,#93ff6c 76.4%,#a6ff59 76.53%,#f7ff08 76.91%,#ffef00 77.04%,#ffb300 77.43%,#ffa600 77.56%,#ff9c00 77.81%,#ffb400 79.62%,#ffce00 80.01%,#fffe00 80.39%,#9eff61 81.04%,#16ffe9 81.81%,#03fffc 81.94%,#00f3ff 82.07%,#00b6ff 82.71%,#09f 83.1%,#0090ff 83.35%,#008fff 83.74%,#0094ff 84%,#00adff 84.26%,#00c4ff 84.39%,#05fffa 84.64%,#4effb1 84.9%,#67ff98 85.03%,#76ff89 85.16%,#7fff80 85.42%,#80ff80 99.97%)"></i><i style="top:521px;height:19px;background:linear-gradient(90deg,#80ff80 0%,#80ff7f 20.36%,#91ff6e 22.29%,#7eff81 23.06%,#5effa1 23.58%,#18ffe7 24.99%,#00fcff 25.64%,#00f7ff 26.15%,#01fffe 26.93%,#1fe 27.57%,#3bffc4 28.47%,#50ffaf 29.12%,#86ff79 32.34%,#95ff6a 33.75%,#95ff6a 37.49%,#86ff79 38.52%,#53ffac 40.07%,#49ffb6 40.84%,#5cffa3 41.1%,#71ff8e 41.23%,#e4ff1b 41.74%,#f8ff07 41.87%,#fff700 42%,#ffd700 42.39%,#ffca00 42.64%,#ffc500 43.55%,#ffc800 43.8%,#ffd300 44.06%,#ff0 44.58%,#b0ff4f 45.48%,#8cff73 46.25%,#81ff7e 46.64%,#7aff85 55.91%,#80ff7f 75.88%,#87ff78 76.14%,#92ff6d 76.27%,#a5ff5a 76.4%,#f5ff0a 76.78%,#fff000 76.91%,#ffc500 77.17%,#ffa600 77.43%,#ff9d00 77.56%,#f90 77.81%,#ffb300 79.62%,#ffce00 80.01%,#ff0 80.39%,#9cff63 81.04%,#15ffea 81.81%,#02fffd 81.94%,#00f2ff 82.07%,#0097ff 83.1%,#008eff 83.35%,#008cff 83.74%,#008eff 84%,#009fff 84.26%,#00b1ff 84.39%,#00e9ff 84.64%,#0ffff0 84.77%,#56ffa9 85.03%,#6dff92 85.16%,#79ff86 85.29%,#7fff80 85.54%,#80ff80 99.97%)"></i><i style="top:502px;height:19px;background:linear-gradient(90deg,#80ff80 0%,#80ff7f 20.23%,#91ff6e 22.29%,#7fff80 22.93%,#51ffae 23.71%,#06fff9 25.25%,#00fbff 25.51%,#00f3ff 26.15%,#0ff 27.05%,#0ffff0 27.57%,#39ffc6 28.47%,#4dffb2 29.12%,#86ff79 32.34%,#95ff6a 33.75%,#95ff6a 37.49%,#86ff79 38.52%,#52ffad 40.07%,#48ffb7 40.84%,#5bffa4 41.1%,#70ff8f 41.23%,#e4ff1b 41.74%,#f8ff07 41.87%,#fff700 42%,#ffd600 42.39%,#ffc100 42.77%,#ffbd00 43.55%,#ffc500 44.06%,#fff900 44.7%,#f9ff06 44.83%,#bfff40 45.48%,#aeff51 45.74%,#8bff74 46.51%,#81ff7e 46.9%,#7aff85 56.3%,#80ff7f 75.75%,#86ff79 76.01%,#91ff6e 76.14%,#a4ff5b 76.27%,#f4ff0b 76.66%,#fff100 76.78%,#ffc600 77.04%,#ffa500 77.3%,#ff9b00 77.43%,#ff9600 77.69%,#ffb100 79.62%,#ffc200 79.88%,#ffef00 80.26%,#fdff02 80.39%,#d8ff27 80.65%,#01fffe 81.94%,#00f1ff 82.07%,#0094ff 83.1%,#008bff 83.35%,#0089ff 83.74%,#008aff 84%,#0094ff 84.26%,#00b5ff 84.51%,#00f3ff 84.77%,#1affe5 84.9%,#5fffa0 85.16%,#72ff8d 85.29%,#7fff80 85.54%,#80ff80 99.97%)"></i><i style="top:482px;height:20px;background:linear-gradient(90deg,#80ff80 0%,#80ff7f 20.23%,#91ff6e 22.16%,#81ff7e 22.8%,#51ffae 23.58%,#01fffe 25.25%,#00fbff 25.38%,#00f0ff 25.77%,#0ef 26.15%,#0ff 27.18%,#36ffc9 28.47%,#49ffb6 29.12%,#83ff7c 32.21%,#95ff6a 33.75%,#95ff6a 37.49%,#86ff79 38.52%,#51ffae 40.07%,#47ffb8 40.84%,#5affa5 41.1%,#6fff90 41.23%,#e4ff1b 41.74%,#f8ff07 41.87%,#fff700 42%,#ffbd00 42.77%,#ffb600 43.03%,#ffb500 43.8%,#ffb900 44.06%,#ffc600 44.32%,#ff0 44.96%,#b3ff4c 45.86%,#8aff75 46.77%,#81ff7e 47.15%,#7aff85 56.3%,#80ff7f 75.62%,#86ff79 75.88%,#91ff6e 76.01%,#a3ff5c 76.14%,#f3ff0c 76.53%,#fff200 76.66%,#ffc700 76.91%,#ffa400 77.17%,#ff9a00 77.3%,#ff9300 77.56%,#ffb000 79.62%,#ffc100 79.88%,#fff000 80.26%,#fcff03 80.39%,#d7ff28 80.65%,#0ff 81.94%,#00caff 82.45%,#0092ff 83.1%,#08f 83.35%,#0086ff 83.74%,#08f 84.13%,#0094ff 84.39%,#0bf 84.64%,#00fdff 84.9%,#49ffb6 85.16%,#65ff9a 85.29%,#75ff8a 85.42%,#7fff80 85.67%,#80ff80 99.97%)"></i><i style="top:463px;height:19px;background:linear-gradient(90deg,#80ff80 0%,#80ff7f 20.23%,#90ff6f 22.16%,#7dff82 22.8%,#4affb5 23.58%,#01fffe 25.12%,#00faff 25.25%,#00edff 25.64%,#00e9ff 26.15%,#01fffe 27.31%,#32ffcd 28.47%,#46ffb9 29.12%,#83ff7c 32.21%,#95ff6a 33.75%,#95ff6a 37.49%,#86ff79 38.52%,#52ffad 40.07%,#48ffb7 40.84%,#5bffa4 41.1%,#70ff8f 41.23%,#e4ff1b 41.74%,#f8ff07 41.87%,#fff700 42%,#fc0 42.51%,#ffb400 42.9%,#ffad00 43.67%,#ffb600 44.19%,#fdff02 45.09%,#b2ff4d 45.99%,#8aff75 46.9%,#81ff7e 47.28%,#7aff85 56.3%,#80ff7f 75.5%,#86ff79 75.75%,#90ff6f 75.88%,#a2ff5d 76.01%,#f2ff0d 76.4%,#fff300 76.53%,#ffc700 76.78%,#ffa400 77.04%,#ff9800 77.17%,#ff9000 77.43%,#fa0 79.49%,#ffc200 79.88%,#fff100 80.26%,#fbff04 80.39%,#d6ff29 80.65%,#98ff67 81.04%,#26ffd9 81.68%,#00feff 81.94%,#00d5ff 82.32%,#0090ff 83.1%,#0086ff 83.35%,#0083ff 83.87%,#0086ff 84.26%,#0096ff 84.51%,#00c1ff 84.77%,#08fff7 85.03%,#52ffad 85.29%,#6bff94 85.42%,#78ff87 85.54%,#7fff80 85.8%,#80ff80 99.97%)"></i><i style="top:444px;height:19px;background:linear-gradient(90deg,#80ff80 0%,#80ff7f 20.1%,#8fff70 22.16%,#80ff7f 22.67%,#43ffbc 23.58%,#01fffe 24.99%,#00faff 25.12%,#00e7ff 25.64%,#00e4ff 26.02%,#00e9ff 26.54%,#00fdff 27.31%,#2fffd0 28.47%,#42ffbd 29.12%,#83ff7c 32.21%,#95ff6a 33.75%,#95ff6a 37.49%,#86ff79 38.52%,#53ffac 40.07%,#4affb5 40.84%,#5cffa3 41.1%,#71ff8e 41.23%,#e4ff1b 41.74%,#f8ff07 41.87%,#fff600 42%,#ffb100 42.9%,#ffa800 43.16%,#ffa500 43.67%,#ffa800 44.06%,#ffb400 44.32%,#fbff04 45.22%,#b2ff4d 46.12%,#8aff75 47.02%,#81ff7e 47.41%,#7aff85 56.3%,#80ff7f 75.37%,#86ff79 75.62%,#90ff6f 75.75%,#b9ff46 76.01%,#f0ff0f 76.27%,#fff400 76.4%,#ffa400 76.91%,#ff9700 77.04%,#ff8e00 77.3%,#ffa900 79.49%,#ffc200 79.88%,#fff200 80.26%,#faff05 80.39%,#d4ff2b 80.65%,#97ff68 81.04%,#24ffdb 81.68%,#00fdff 81.94%,#00d4ff 82.32%,#008eff 83.1%,#0083ff 83.35%,#0080ff 83.87%,#0081ff 84.26%,#008bff 84.51%,#00acff 84.77%,#00eaff 85.03%,#13ffec 85.16%,#5bffa4 85.42%,#70ff8f 85.54%,#7bff84 85.67%,#7fff80 85.93%,#80ff80 99.97%)"></i><i style="top:424px;height:20px;background:linear-gradient(90deg,#80ff80 0%,#80ff7f 20.1%,#8fff70 22.16%,#7dff82 22.67%,#3cffc3 23.58%,#0ff 24.86%,#00e5ff 25.51%,#00deff 26.02%,#00e7ff 26.67%,#0ff 27.44%,#2cffd3 28.47%,#3affc5 28.99%,#82ff7d 32.21%,#95ff6a 33.75%,#94ff6b 37.49%,#86ff79 38.52%,#54ffab 40.07%,#4bffb4 40.84%,#5dffa2 41.1%,#72ff8d 41.23%,#e4ff1b 41.74%,#f8ff07 41.87%,#fff600 42%,#ffa800 43.03%,#ffa000 43.29%,#ff9e00 43.67%,#ffa000 44.06%,#ffab00 44.32%,#fff900 45.22%,#f9ff06 45.35%,#b1ff4e 46.25%,#8bff74 47.15%,#81ff7e 47.54%,#79ff86 56.3%,#80ff7f 75.24%,#85ff7a 75.5%,#8fff70 75.62%,#b8ff47 75.88%,#efff10 76.14%,#fff500 76.27%,#ffb500 76.66%,#ff9700 76.91%,#ff8f00 77.04%,#ff8b00 77.3%,#ffa700 79.49%,#ffc300 79.88%,#fff300 80.26%,#f9ff06 80.39%,#d3ff2c 80.65%,#96ff69 81.04%,#23ffdc 81.68%,#00fcff 81.94%,#00d2ff 82.32%,#008cff 83.1%,#0080ff 83.35%,#007eff 83.87%,#007fff 84.39%,#008bff 84.64%,#00b1ff 84.9%,#00f4ff 85.16%,#1effe1 85.29%,#45ffba 85.42%,#63ff9c 85.54%,#74ff8b 85.67%,#7fff80 85.93%,#80ff80 99.97%)"></i><i style="top:405px;height:19px;background:linear-gradient(90deg,#80ff80 0%,#80ff7f 20.1%,#8eff71 22.03%,#81ff7e 22.55%,#35ffca 23.58%,#00feff 24.74%,#00dfff 25.51%,#00d9ff 25.9%,#00e0ff 26.54%,#00fcff 27.44%,#3fc 28.86%,#81ff7e 32.21%,#94ff6b 33.75%,#94ff6b 37.49%,#85ff7a 38.52%,#52ffad 40.2%,#4cffb3 40.84%,#5effa1 41.1%,#72ff8d 41.23%,#e4ff1b 41.74%,#f8ff07 41.87%,#fff600 42%,#ff9f00 43.16%,#ff9600 43.8%,#ff9800 44.06%,#ffa300 44.32%,#fffb00 45.35%,#f7ff08 45.48%,#b1ff4e 46.38%,#8bff74 47.28%,#81ff7e 47.67%,#79ff86 56.3%,#80ff7f 75.11%,#85ff7a 75.37%,#8fff70 75.5%,#b7ff48 75.75%,#ef1 76.01%,#fff700 76.14%,#ffb600 76.53%,#ff9600 76.78%,#ff8d00 76.91%,#f80 77.17%,#ffa600 79.49%,#ffb600 79.75%,#fff400 80.26%,#f8ff07 80.39%,#d2ff2d 80.65%,#95ff6a 81.04%,#2fd 81.68%,#00fbff 81.94%,#0089ff 83.1%,#007eff 83.35%,#007bff 84%,#007dff 84.51%,#008cff 84.77%,#00b7ff 85.03%,#0ff 85.29%,#4effb1 85.54%,#69ff96 85.67%,#7f8 85.8%,#7fff80 86.06%,#80ff80 99.97%)"></i><i style="top:386px;height:19px;background:linear-gradient(90deg,#80ff80 0%,#80ff7f 20.1%,#8eff71 22.03%,#80ff7f 22.55%,#3fc 23.58%,#01fffe 24.61%,#00daff 25.51%,#00d4ff 25.9%,#00dbff 26.54%,#00fdff 27.57%,#25ffda 28.47%,#34ffcb 28.99%,#7fff80 32.21%,#94ff6b 33.75%,#94ff6b 37.49%,#85ff7a 38.52%,#53ffac 40.2%,#4dffb2 40.84%,#5effa1 41.1%,#73ff8c 41.23%,#e4ff1b 41.74%,#f8ff07 41.87%,#fff600 42%,#ff9d00 43.16%,#ff9200 43.42%,#ff8f00 43.8%,#ff9a00 44.32%,#fffd00 45.48%,#f5ff0a 45.61%,#b1ff4e 46.51%,#81ff7e 47.8%,#79ff86 56.3%,#80ff7f 74.98%,#85ff7a 75.24%,#8eff71 75.37%,#b6ff49 75.62%,#edff12 75.88%,#fff800 76.01%,#ffb700 76.4%,#ff9600 76.66%,#ff8c00 76.78%,#ff8500 77.04%,#ffa400 79.49%,#ffb600 79.75%,#fff500 80.26%,#f7ff08 80.39%,#d1ff2e 80.65%,#93ff6c 81.04%,#20ffdf 81.68%,#0cfff3 81.81%,#00f9ff 81.94%,#0087ff 83.1%,#007bff 83.35%,#0078ff 84%,#0079ff 84.51%,#0082ff 84.77%,#00a3ff 85.03%,#00e1ff 85.29%,#0bfff4 85.42%,#58ffa7 85.67%,#6fff90 85.8%,#7aff85 85.93%,#7fff80 86.19%,#80ff80 99.97%)"></i><i style="top:367px;height:19px;background:linear-gradient(90deg,#80ff80 0%,#80ff7f 20.1%,#8dff72 22.03%,#7eff81 22.55%,#30ffcf 23.58%,#03fffc 24.48%,#00d5ff 25.51%,#00cfff 25.9%,#00d6ff 26.54%,#00faff 27.57%,#0ff 27.7%,#2bffd4 28.73%,#7bff84 32.08%,#93ff6c 33.75%,#93ff6c 37.49%,#84ff7b 38.52%,#53ffac 40.2%,#4dffb2 40.84%,#5fffa0 41.1%,#73ff8c 41.23%,#e4ff1b 41.74%,#f8ff07 41.87%,#fff600 42%,#ff9400 43.29%,#ff8700 43.8%,#ff8b00 44.19%,#f90 44.45%,#feff01 45.61%,#b0ff4f 46.64%,#82ff7d 47.93%,#79ff86 56.3%,#80ff7f 74.85%,#8cff73 75.24%,#b1ff4e 75.5%,#e8ff17 75.75%,#fffc00 75.88%,#ffba00 76.27%,#ff9700 76.53%,#ff8c00 76.66%,#ff8300 76.91%,#ffa400 79.49%,#ffb600 79.75%,#fff600 80.26%,#f6ff09 80.39%,#d0ff2f 80.65%,#92ff6d 81.04%,#1fffe0 81.68%,#0bfff4 81.81%,#00f8ff 81.94%,#0085ff 83.1%,#0078ff 83.35%,#0075ff 84%,#0076ff 84.64%,#0082ff 84.9%,#00a8ff 85.16%,#00ecff 85.42%,#18ffe7 85.54%,#40ffbf 85.67%,#60ff9f 85.8%,#73ff8c 85.93%,#7fff80 86.19%,#80ff80 99.97%)"></i><i style="top:347px;height:20px;background:linear-gradient(90deg,#80ff80 0%,#80ff7f 20.1%,#8cff73 22.03%,#7dff82 22.55%,#2effd1 23.58%,#0ff 24.48%,#00d5ff 25.38%,#00caff 25.9%,#00d5ff 26.67%,#00fcff 27.7%,#25ffda 28.6%,#49ffb6 30.02%,#7dff82 32.21%,#92ff6d 33.75%,#92ff6d 37.49%,#84ff7b 38.52%,#54ffab 40.2%,#4effb1 40.84%,#60ff9f 41.1%,#74ff8b 41.23%,#e4ff1b 41.74%,#f8ff07 41.87%,#fff600 42%,#ff9200 43.29%,#ff8500 43.55%,#ff8000 43.93%,#ff8300 44.19%,#ff9000 44.45%,#fdff02 45.74%,#b0ff4f 46.77%,#82ff7d 48.05%,#79ff86 56.3%,#80ff7f 74.85%,#89ff76 75.11%,#95ff6a 75.24%,#af5 75.37%,#fbff04 75.75%,#ff9b00 76.4%,#ff8600 76.66%,#ff8200 76.91%,#ff9f00 79.36%,#ffb700 79.75%,#fff700 80.26%,#f5ff0a 80.39%,#ceff31 80.65%,#91ff6e 81.04%,#1effe1 81.68%,#0afff5 81.81%,#00f7ff 81.94%,#009aff 82.84%,#007bff 83.23%,#0073ff 83.48%,#0072ff 84.13%,#0074ff 84.77%,#0083ff 85.03%,#00aeff 85.29%,#00f7ff 85.54%,#23ffdc 85.67%,#4affb5 85.8%,#6f9 85.93%,#76ff89 86.06%,#7fff80 86.32%,#80ff80 99.97%)"></i><i style="top:328px;height:19px;background:linear-gradient(90deg,#80ff80 0%,#80ff7f 20.1%,#8bff74 22.03%,#87ff78 22.29%,#7cff83 22.55%,#2bffd4 23.58%,#02fffd 24.35%,#00d0ff 25.38%,#00c4ff 25.9%,#00d0ff 26.67%,#00feff 27.83%,#26ffd9 28.73%,#4affb5 30.15%,#7bff84 32.21%,#91ff6e 33.75%,#92ff6d 37.49%,#83ff7c 38.52%,#5fa 40.2%,#4fffb0 40.84%,#60ff9f 41.1%,#74ff8b 41.23%,#e4ff1b 41.74%,#f8ff07 41.87%,#fff600 42%,#ff8900 43.42%,#ff7c00 43.67%,#ff7800 43.93%,#ff7b00 44.19%,#ff8700 44.45%,#fff800 45.74%,#fbff04 45.86%,#afff50 46.9%,#82ff7d 48.18%,#79ff86 56.3%,#80ff7f 74.72%,#86ff79 74.98%,#91ff6e 75.11%,#a4ff5b 75.24%,#f3ff0c 75.62%,#fff200 75.75%,#ffb200 76.14%,#ff9100 76.4%,#ff8700 76.53%,#ff8100 76.78%,#ff9f00 79.36%,#ffb800 79.75%,#fff800 80.26%,#f4ff0b 80.39%,#b9ff46 80.78%,#08fff7 81.81%,#00f6ff 81.94%,#0098ff 82.84%,#0078ff 83.23%,#0071ff 83.48%,#006fff 84.13%,#0070ff 84.77%,#0079ff 85.03%,#09f 85.29%,#00b5ff 85.42%,#04fffb 85.67%,#54ffab 85.93%,#6dff92 86.06%,#79ff86 86.19%,#7fff80 86.45%,#80ff80 99.97%)"></i><i style="top:309px;height:19px;background:linear-gradient(90deg,#80ff80 0%,#80ff7f 20.1%,#8aff75 22.03%,#86ff79 22.29%,#7aff85 22.55%,#29ffd6 23.58%,#00feff 24.35%,#00cbff 25.38%,#00bfff 25.9%,#00cbff 26.67%,#00faff 27.83%,#24ffdb 28.73%,#4cffb3 30.28%,#7cff83 32.34%,#90ff6f 33.75%,#91ff6e 37.49%,#83ff7c 38.52%,#5fa 40.2%,#50ffaf 40.84%,#61ff9e 41.1%,#75ff8a 41.23%,#e4ff1b 41.74%,#f8ff07 41.87%,#fff600 42%,#ff7f00 43.55%,#ff7400 43.8%,#ff7100 44.06%,#ff7e00 44.45%,#fffb00 45.86%,#f9ff06 45.99%,#afff50 47.02%,#82ff7d 48.31%,#78ff87 56.3%,#80ff7f 74.59%,#85ff7a 74.85%,#8eff71 74.98%,#b5ff4a 75.24%,#ecff13 75.5%,#fff900 75.62%,#ffb700 76.01%,#ff9400 76.27%,#f80 76.4%,#ff8000 76.66%,#ff9e00 79.36%,#ffb800 79.75%,#fff900 80.26%,#f2ff0d 80.39%,#a4ff5b 80.91%,#07fff8 81.81%,#00f5ff 81.94%,#0096ff 82.84%,#0076ff 83.23%,#006eff 83.48%,#006dff 84.26%,#006eff 84.9%,#0079ff 85.16%,#009fff 85.42%,#00e4ff 85.67%,#1fe 85.8%,#3cffc3 85.93%,#5effa1 86.06%,#72ff8d 86.19%,#7fff80 86.45%,#80ff80 99.97%)"></i><i style="top:289px;height:20px;background:linear-gradient(90deg,#80ff80 0%,#80ff7f 20.1%,#89ff76 22.03%,#85ff7a 22.29%,#79ff86 22.55%,#30ffcf 23.45%,#02fffd 24.22%,#00c6ff 25.38%,#00baff 25.9%,#00bdff 26.28%,#00caff 26.8%,#00feff 27.96%,#21ffde 28.73%,#4bffb4 30.28%,#7bff84 32.34%,#90ff6f 33.75%,#91ff6e 37.49%,#82ff7d 38.52%,#56ffa9 40.2%,#51ffae 40.84%,#61ff9e 41.1%,#75ff8a 41.23%,#e4ff1b 41.74%,#f8ff07 41.87%,#fff600 42%,#ff7e00 43.55%,#ff6f00 43.8%,#ff6a00 44.06%,#ff6f00 44.32%,#ff7e00 44.58%,#fffd00 45.99%,#f7ff08 46.12%,#afff50 47.15%,#89ff76 48.18%,#81ff7e 48.57%,#78ff87 55.53%,#78ff87 64.16%,#7fff80 66.61%,#80ff7f 74.59%,#8aff75 74.85%,#98ff67 74.98%,#aeff51 75.11%,#feff01 75.5%,#ffbd00 75.88%,#ff9800 76.14%,#ff8300 76.4%,#ff7f00 76.66%,#ff9e00 79.36%,#ffb900 79.75%,#fffb00 80.26%,#f1ff0e 80.39%,#a2ff5d 80.91%,#06fff9 81.81%,#00f4ff 81.94%,#0095ff 82.84%,#0074ff 83.23%,#006bff 83.48%,#006aff 84.26%,#006cff 85.03%,#007aff 85.29%,#008bff 85.42%,#00a5ff 85.54%,#00efff 85.8%,#1dffe2 85.93%,#46ffb9 86.06%,#64ff9b 86.19%,#75ff8a 86.32%,#7fff80 86.58%,#80ff80 99.97%)"></i><i style="top:270px;height:19px;background:linear-gradient(90deg,#80ff80 0%,#80ff7f 20.1%,#89ff76 22.03%,#85ff7a 22.29%,#78ff87 22.55%,#25ffda 23.58%,#00feff 24.22%,#00c2ff 25.38%,#00b6ff 25.9%,#00b8ff 26.28%,#00c6ff 26.8%,#00faff 27.96%,#1fffe0 28.73%,#49ffb6 30.28%,#79ff86 32.34%,#8eff71 33.75%,#8fff70 37.49%,#82ff7d 38.52%,#56ffa9 40.2%,#51ffae 40.84%,#61ff9e 41.1%,#75ff8a 41.23%,#cbff34 41.61%,#f8ff07 41.87%,#fff600 42%,#ff7e00 43.55%,#ff6d00 43.8%,#ff6500 44.06%,#ff6800 44.32%,#f70 44.58%,#feff01 46.12%,#b4ff4b 47.15%,#8dff72 48.18%,#81ff7e 48.7%,#78ff87 55.53%,#78ff87 63.9%,#7fff80 66.61%,#80ff7f 74.47%,#87ff78 74.72%,#93ff6c 74.85%,#a6ff59 74.98%,#f7ff08 75.37%,#fe0 75.5%,#ffaf00 75.88%,#ff8e00 76.14%,#ff8400 76.27%,#ff7e00 76.53%,#ff9e00 79.36%,#ffba00 79.75%,#fffc00 80.26%,#a1ff5e 80.91%,#05fffa 81.81%,#00f3ff 81.94%,#0093ff 82.84%,#0071ff 83.23%,#0067ff 83.61%,#0067ff 84.77%,#006aff 85.16%,#007cff 85.42%,#0090ff 85.54%,#00abff 85.67%,#00fbff 85.93%,#29ffd6 86.06%,#50ffaf 86.19%,#6aff95 86.32%,#78ff87 86.45%,#7fff80 86.7%,#80ff80 99.97%)"></i><i style="top:251px;height:19px;background:linear-gradient(90deg,#80ff80 0%,#80ff7f 20.1%,#8f7 22.03%,#84ff7b 22.29%,#7f8 22.55%,#23ffdc 23.58%,#00fbff 24.22%,#00b8ff 25.51%,#00b1ff 26.02%,#00c7ff 26.93%,#00feff 28.09%,#1dffe2 28.73%,#48ffb7 30.28%,#7f8 32.34%,#8dff72 33.88%,#8eff71 37.49%,#81ff7e 38.52%,#56ffa9 40.2%,#51ffae 40.84%,#61ff9e 41.1%,#75ff8a 41.23%,#cbff34 41.61%,#f8ff07 41.87%,#fff600 42%,#ff7400 43.67%,#f60 43.93%,#ff6100 44.19%,#ff7200 44.58%,#fffb00 46.12%,#f9ff06 46.25%,#b1ff4e 47.28%,#8f7 48.44%,#80ff7f 48.83%,#78ff87 55.53%,#78ff87 64.03%,#7fff80 66.61%,#81ff7e 74.47%,#8fff70 74.72%,#a1ff5e 74.85%,#efff10 75.24%,#fff500 75.37%,#ffb400 75.75%,#ff9100 76.01%,#ff8500 76.14%,#ff7c00 76.4%,#ff9d00 79.36%,#fb0 79.75%,#fffd00 80.26%,#a0ff5f 80.91%,#17ffe8 81.68%,#04fffb 81.81%,#00f2ff 81.94%,#0091ff 82.84%,#006fff 83.23%,#0064ff 83.61%,#0064ff 84.9%,#0069ff 85.29%,#007fff 85.54%,#0095ff 85.67%,#00b4ff 85.8%,#00dbff 85.93%,#0afff5 86.06%,#37ffc8 86.19%,#5bffa4 86.32%,#71ff8e 86.45%,#7fff80 86.7%,#80ff80 99.97%)"></i><i style="top:232px;height:19px;background:linear-gradient(90deg,#80ff80 0%,#80ff7f 20.1%,#8f7 22.03%,#84ff7b 22.29%,#76ff89 22.55%,#2affd5 23.45%,#01fffe 24.09%,#00baff 25.38%,#00adff 25.9%,#00afff 26.28%,#00beff 26.8%,#00fcff 28.09%,#1bffe4 28.73%,#4affb5 30.4%,#74ff8b 32.34%,#8bff74 33.88%,#8cff73 37.49%,#80ff7f 38.52%,#56ffa9 40.2%,#51ffae 40.84%,#61ff9e 41.1%,#75ff8a 41.23%,#cbff34 41.61%,#f8ff07 41.87%,#fff600 42%,#ff7400 43.67%,#ff6400 43.93%,#ff5d00 44.19%,#ff6c00 44.58%,#feff01 46.25%,#c5ff3a 47.02%,#afff50 47.41%,#87ff78 48.57%,#80ff7f 48.96%,#7fff80 52.82%,#78ff87 55.53%,#78ff87 63.9%,#7fff80 66.61%,#81ff7e 74.34%,#8cff73 74.59%,#9bff64 74.72%,#e8ff17 75.11%,#fffc00 75.24%,#ffa600 75.75%,#f80 76.01%,#ff7f00 76.14%,#ff7b00 76.4%,#ff9d00 79.36%,#fb0 79.75%,#fffe00 80.26%,#9eff61 80.91%,#16ffe9 81.68%,#02fffd 81.81%,#00f0ff 81.94%,#0082ff 82.97%,#06f 83.35%,#0061ff 85.03%,#0067ff 85.42%,#0082ff 85.67%,#009bff 85.8%,#00e7ff 86.06%,#16ffe9 86.19%,#41ffbe 86.32%,#61ff9e 86.45%,#74ff8b 86.58%,#7fff80 86.83%,#80ff80 99.97%)"></i><i style="top:212px;height:20px;background:linear-gradient(90deg,#80ff80 0%,#80ff7f 20.1%,#8f7 22.03%,#83ff7c 22.29%,#75ff8a 22.55%,#1fffe0 23.58%,#00fdff 24.09%,#00b6ff 25.38%,#00a8ff 25.9%,#00abff 26.28%,#00baff 26.8%,#00f9ff 28.09%,#01fffe 28.21%,#19ffe6 28.73%,#49ffb6 30.4%,#72ff8d 32.34%,#89ff76 33.88%,#8bff74 37.49%,#7fff80 38.52%,#56ffa9 40.2%,#51ffae 40.84%,#61ff9e 41.1%,#74ff8b 41.23%,#caff35 41.61%,#f8ff07 41.87%,#fff600 42%,#ff6b00 43.8%,#ff5900 44.19%,#f60 44.58%,#fff000 46.12%,#f9ff06 46.38%,#b3ff4c 47.41%,#8aff75 48.57%,#80ff7f 49.09%,#7fff80 52.82%,#78ff87 55.53%,#7f8 64.03%,#7fff80 66.61%,#80ff7f 74.21%,#89ff76 74.47%,#95ff6a 74.59%,#af5 74.72%,#fbff04 75.11%,#ffac00 75.62%,#ff8b00 75.88%,#ff8100 76.01%,#ff7a00 76.27%,#ff9d00 79.36%,#ffbc00 79.75%,#ff0 80.26%,#9dff62 80.91%,#15ffea 81.68%,#01fffe 81.81%,#00efff 81.94%,#0080ff 82.97%,#0064ff 83.35%,#005eff 83.74%,#005eff 85.03%,#0061ff 85.42%,#0073ff 85.67%,#0086ff 85.8%,#00a2ff 85.93%,#00f3ff 86.19%,#23ffdc 86.32%,#4cffb3 86.45%,#68ff97 86.58%,#7f8 86.7%,#7fff80 86.96%,#80ff80 99.97%)"></i><i style="top:193px;height:19px;background:linear-gradient(90deg,#80ff80 0%,#80ff7f 20.1%,#87ff78 22.03%,#83ff7c 22.29%,#74ff8b 22.55%,#1dffe2 23.58%,#03fffc 23.96%,#00faff 24.09%,#00b1ff 25.38%,#00a7ff 25.64%,#00a4ff 26.02%,#0af 26.41%,#0bf 26.93%,#00feff 28.21%,#1bffe4 28.86%,#48ffb7 30.4%,#71ff8e 32.34%,#8f7 33.88%,#8aff75 37.49%,#7eff81 38.52%,#58ffa7 40.07%,#51ffae 40.84%,#61ff9e 41.1%,#75ff8a 41.23%,#cbff34 41.61%,#f8ff07 41.87%,#fff600 42%,#ff6a00 43.8%,#ff5b00 44.06%,#ff5600 44.32%,#ff6b00 44.7%,#feff01 46.38%,#b1ff4e 47.54%,#81ff7e 49.09%,#7f8 55.53%,#7f8 63.77%,#7fff80 66.61%,#80ff7f 74.08%,#86ff79 74.34%,#91ff6e 74.47%,#a4ff5b 74.59%,#f3ff0c 74.98%,#fff200 75.11%,#ffb100 75.5%,#ff8e00 75.75%,#ff8200 75.88%,#ff7900 76.14%,#ff9d00 79.36%,#ffbd00 79.75%,#feff01 80.26%,#9cff63 80.91%,#0ff 81.81%,#008bff 82.84%,#0068ff 83.23%,#005eff 83.48%,#005cff 84.26%,#005dff 85.42%,#0067ff 85.67%,#008cff 85.93%,#0af 86.06%,#02fffd 86.32%,#31ffce 86.45%,#57ffa8 86.58%,#6fff90 86.7%,#7eff81 86.96%,#80ff80 99.97%)"></i><i style="top:174px;height:19px;background:linear-gradient(90deg,#80ff80 0%,#80ff7f 20.1%,#87ff78 22.03%,#82ff7d 22.29%,#74ff8b 22.55%,#25ffda 23.45%,#01fffe 23.96%,#00adff 25.38%,#00a0ff 25.9%,#00a2ff 26.28%,#00b2ff 26.8%,#00cfff 27.44%,#00fbff 28.21%,#19ffe6 28.86%,#47ffb8 30.4%,#71ff8e 32.34%,#86ff79 33.75%,#89ff76 37.49%,#7eff81 38.52%,#59ffa6 40.07%,#51ffae 40.84%,#62ff9d 41.1%,#75ff8a 41.23%,#cbff34 41.61%,#f8ff07 41.87%,#fff600 42%,#ff6100 43.93%,#ff5200 44.32%,#ff6500 44.7%,#fff000 46.25%,#f9ff06 46.51%,#c3ff3c 47.28%,#afff50 47.67%,#81ff7e 49.21%,#7fff80 52.82%,#7f8 55.53%,#7f8 64.03%,#7fff80 66.61%,#81ff7e 74.08%,#8dff72 74.34%,#9cff63 74.47%,#e9ff16 74.85%,#fffb00 74.98%,#ffa500 75.5%,#ff8600 75.75%,#ff7d00 75.88%,#ff7800 76.14%,#ff9800 79.23%,#ffaf00 79.62%,#ffef00 80.13%,#fdff02 80.26%,#d7ff28 80.52%,#00feff 81.81%,#007cff 82.97%,#005fff 83.35%,#0059ff 83.74%,#0059ff 85.16%,#005bff 85.54%,#0069ff 85.8%,#007bff 85.93%,#0095ff 86.06%,#00b8ff 86.19%,#00e3ff 86.32%,#14ffeb 86.45%,#40ffbf 86.58%,#61ff9e 86.7%,#74ff8b 86.83%,#7fff80 87.09%,#80ff80 99.97%)"></i><i style="top:154px;height:20px;background:linear-gradient(90deg,#80ff80 0%,#80ff7f 20.1%,#86ff79 22.03%,#81ff7e 22.29%,#73ff8c 22.55%,#23ffdc 23.45%,#00fdff 23.96%,#00a9ff 25.38%,#009bff 25.9%,#009eff 26.28%,#00aeff 26.8%,#00cbff 27.44%,#00f8ff 28.21%,#01fffe 28.34%,#17ffe8 28.86%,#45ffba 30.4%,#70ff8f 32.34%,#85ff7a 33.75%,#8f7 37.49%,#7dff82 38.52%,#59ffa6 40.07%,#52ffad 40.84%,#62ff9d 41.1%,#75ff8a 41.23%,#cbff34 41.61%,#f8ff07 41.87%,#fff600 42%,#ff6100 43.93%,#ff4f00 44.32%,#ff5f00 44.7%,#feff01 46.51%,#b2ff4d 47.67%,#8bff74 48.83%,#80ff7f 49.34%,#7fff80 52.82%,#7f8 55.53%,#7f8 63.9%,#7fff80 66.61%,#80ff7f 73.95%,#86ff79 74.21%,#90ff6f 74.34%,#a2ff5d 74.47%,#f1ff0e 74.85%,#fff300 74.98%,#ffb300 75.37%,#ff8e00 75.62%,#ff7a00 75.88%,#f70 76.14%,#ff9800 79.23%,#ffb000 79.62%,#fff000 80.13%,#fcff03 80.26%,#d6ff29 80.52%,#9f6 80.91%,#26ffd9 81.55%,#00fdff 81.81%,#007aff 82.97%,#005dff 83.35%,#0058ff 83.74%,#0058ff 85.16%,#005dff 85.67%,#0076ff 85.93%,#008eff 86.06%,#00afff 86.19%,#00d9ff 86.32%,#0afff5 86.45%,#38ffc7 86.58%,#5cffa3 86.7%,#72ff8d 86.83%,#7fff80 87.09%,#80ff80 99.97%)"></i><i style="top:135px;height:19px;background:linear-gradient(90deg,#80ff80 0%,#80ff7f 20.1%,#86ff79 22.03%,#81ff7e 22.29%,#72ff8d 22.55%,#04fffb 23.83%,#00a5ff 25.38%,#0097ff 25.9%,#009dff 26.41%,#00afff 26.93%,#00fdff 28.34%,#4fb 30.4%,#6fff90 32.34%,#83ff7c 33.75%,#87ff78 37.49%,#7dff82 38.52%,#59ffa6 40.07%,#52ffad 40.84%,#62ff9d 41.1%,#75ff8a 41.23%,#cbff34 41.61%,#f8ff07 41.87%,#fff600 42%,#ff6000 43.93%,#ff4c00 44.32%,#ff4c00 44.45%,#ff5a00 44.7%,#fff000 46.38%,#f9ff06 46.64%,#b0ff4f 47.8%,#8aff75 48.96%,#80ff7f 49.47%,#7fff80 52.82%,#7f8 55.53%,#7f8 64.03%,#7fff80 66.61%,#80ff7f 73.95%,#8f7 74.21%,#94ff6b 74.34%,#a8ff57 74.47%,#f9ff06 74.85%,#ffec00 74.98%,#ffad00 75.37%,#ff8a00 75.62%,#ff7e00 75.75%,#ff7600 76.01%,#ff9700 79.23%,#ffb100 79.62%,#fff100 80.13%,#fbff04 80.26%,#d5ff2a 80.52%,#98ff67 80.91%,#25ffda 81.55%,#00fcff 81.81%,#0078ff 82.97%,#005bff 83.35%,#0057ff 85.16%,#005bff 85.67%,#0070ff 85.93%,#0086ff 86.06%,#00a5ff 86.19%,#00feff 86.45%,#56ffa9 86.7%,#6fff90 86.83%,#7eff81 87.09%,#80ff80 99.97%)"></i><i style="top:116px;height:19px;background:linear-gradient(90deg,#80ff80 0%,#80ff7f 20.1%,#86ff79 22.03%,#80ff7f 22.29%,#71ff8e 22.55%,#02fffd 23.83%,#00a1ff 25.38%,#0092ff 25.9%,#0098ff 26.41%,#00abff 26.93%,#00fbff 28.34%,#43ffbc 30.4%,#6bff94 32.21%,#82ff7d 33.75%,#85ff7a 37.49%,#7cff83 38.52%,#59ffa6 40.07%,#53ffac 40.84%,#63ff9c 41.1%,#76ff89 41.23%,#cbff34 41.61%,#f8ff07 41.87%,#fff600 42%,#ff5700 44.06%,#ff4900 44.45%,#ff5f00 44.83%,#feff01 46.64%,#b4ff4b 47.8%,#8aff75 49.09%,#80ff7f 49.6%,#7fff80 52.82%,#7f8 55.53%,#7f8 63.9%,#7fff80 66.61%,#81ff7e 73.95%,#8bff74 74.21%,#9aff65 74.34%,#fffe00 74.85%,#ff9500 75.5%,#ff7b00 75.75%,#ff7500 76.01%,#ff9700 79.23%,#ffb200 79.62%,#fff200 80.13%,#faff05 80.26%,#d4ff2b 80.52%,#97ff68 80.91%,#24ffdb 81.55%,#00faff 81.81%,#0076ff 82.97%,#005aff 83.35%,#05f 85.29%,#0059ff 85.67%,#006bff 85.93%,#007fff 86.06%,#009cff 86.19%,#00c2ff 86.32%,#00f2ff 86.45%,#24ffdb 86.58%,#4effb1 86.7%,#6aff95 86.83%,#78ff87 86.96%,#7fff80 87.22%,#80ff80 99.97%)"></i><i style="top:96px;height:20px;background:linear-gradient(90deg,#80ff80 0%,#80ff7f 20.1%,#85ff7a 22.03%,#80ff7f 22.29%,#70ff8f 22.55%,#1dffe2 23.45%,#00feff 23.83%,#009dff 25.38%,#008eff 25.9%,#0094ff 26.41%,#00a7ff 26.93%,#00f8ff 28.34%,#0ff 28.47%,#45ffba 30.53%,#6bff94 32.21%,#81ff7e 33.75%,#84ff7b 37.62%,#7cff83 38.52%,#5affa5 40.07%,#53ffac 40.84%,#63ff9c 41.1%,#76ff89 41.23%,#cbff34 41.61%,#f8ff07 41.87%,#fff600 42%,#ff5700 44.06%,#ff4500 44.45%,#ff5900 44.83%,#fff000 46.51%,#faff05 46.77%,#b2ff4d 47.93%,#81ff7e 49.6%,#7f8 55.53%,#76ff89 64.03%,#7fff80 66.61%,#81ff7e 73.95%,#8fff70 74.21%,#a0ff5f 74.34%,#ef1 74.72%,#fff600 74.85%,#ffa200 75.37%,#ff8200 75.62%,#ff7900 75.75%,#ff7400 76.01%,#ff9700 79.23%,#ffb200 79.62%,#fff300 80.13%,#f9ff06 80.26%,#d3ff2c 80.52%,#95ff6a 80.91%,#2fd 81.55%,#00f9ff 81.81%,#0082ff 82.84%,#005eff 83.23%,#05f 83.48%,#0054ff 84.26%,#05f 85.54%,#005cff 85.8%,#0079ff 86.06%,#0094ff 86.19%,#00b9ff 86.32%,#00e7ff 86.45%,#19ffe6 86.58%,#46ffb9 86.7%,#65ff9a 86.83%,#76ff89 86.96%,#7fff80 87.22%,#80ff80 99.97%)"></i><i style="top:77px;height:19px;background:linear-gradient(90deg,#80ff80 0%,#80ff7f 20.1%,#85ff7a 22.03%,#7fff80 22.29%,#6fff90 22.55%,#1cffe3 23.45%,#00fcff 23.83%,#09f 25.38%,#008aff 25.9%,#0090ff 26.41%,#00a4ff 26.93%,#00fdff 28.47%,#4fb 30.53%,#6aff95 32.21%,#80ff7f 33.75%,#83ff7c 37.62%,#7bff84 38.52%,#5affa5 40.07%,#53ffac 40.84%,#63ff9c 41.1%,#76ff89 41.23%,#cbff34 41.61%,#f8ff07 41.87%,#fff600 42%,#ff5700 44.06%,#ff4300 44.45%,#f40 44.58%,#ff5400 44.83%,#feff01 46.77%,#b0ff4f 48.05%,#81ff7e 49.73%,#7fff80 52.82%,#76ff89 55.53%,#76ff89 63.9%,#7fff80 66.61%,#80ff7f 73.82%,#87ff78 74.08%,#92ff6d 74.21%,#a6ff59 74.34%,#f6ff09 74.72%,#ffef00 74.85%,#ff8b00 75.5%,#ff7600 75.75%,#ff7200 76.01%,#ff9600 79.23%,#ffb300 79.62%,#fff400 80.13%,#f8ff07 80.26%,#d2ff2d 80.52%,#94ff6b 80.91%,#0cfff3 81.68%,#00f8ff 81.81%,#0080ff 82.84%,#005cff 83.23%,#0054ff 83.48%,#0053ff 84.26%,#0053ff 85.54%,#0059ff 85.8%,#0062ff 85.93%,#0073ff 86.06%,#008cff 86.19%,#00afff 86.32%,#00dcff 86.45%,#0ffff0 86.58%,#3dffc2 86.7%,#60ff9f 86.83%,#74ff8b 86.96%,#7fff80 87.22%,#80ff80 99.97%)"></i><i style="top:58px;height:19px;background:linear-gradient(90deg,#80ff80 0%,#80ff7f 20.1%,#84ff7b 22.03%,#7fff80 22.29%,#6fff90 22.55%,#1bffe4 23.45%,#00fbff 23.83%,#0097ff 25.38%,#08f 25.9%,#008eff 26.41%,#00a2ff 26.93%,#00fcff 28.47%,#4fb 30.53%,#69ff96 32.21%,#7fff80 33.75%,#82ff7d 37.62%,#7bff84 38.52%,#5affa5 40.07%,#54ffab 40.84%,#64ff9b 41.1%,#76ff89 41.23%,#cbff34 41.61%,#f8ff07 41.87%,#fff600 42%,#ff5600 44.06%,#ff4100 44.45%,#ff4200 44.58%,#ff5000 44.83%,#fff200 46.64%,#f8ff07 46.9%,#b2ff4d 48.05%,#8aff75 49.34%,#80ff7f 49.86%,#7fff80 52.82%,#76ff89 55.53%,#76ff89 64.03%,#7fff80 66.61%,#80ff7f 73.82%,#8aff75 74.08%,#98ff67 74.21%,#adff52 74.34%,#feff01 74.72%,#ffbd00 75.11%,#ff8600 75.5%,#ff7a00 75.62%,#ff7100 75.88%,#ff9600 79.23%,#ffb400 79.62%,#fff600 80.13%,#f6ff09 80.26%,#d0ff2f 80.52%,#93ff6c 80.91%,#0bfff4 81.68%,#00f7ff 81.81%,#0064ff 83.1%,#0053ff 83.48%,#0051ff 84.13%,#0052ff 85.54%,#005fff 85.93%,#006eff 86.06%,#0085ff 86.19%,#00a6ff 86.32%,#04fffb 86.58%,#35ffca 86.7%,#5affa5 86.83%,#71ff8e 86.96%,#7fff80 87.22%,#80ff80 99.97%)"></i><i style="top:39px;height:19px;background:linear-gradient(90deg,#80ff80 0%,#80ff7f 20.1%,#84ff7b 22.03%,#7eff81 22.29%,#6eff91 22.55%,#0ffff0 23.58%,#00faff 23.83%,#0095ff 25.38%,#0086ff 25.9%,#008dff 26.41%,#00a0ff 26.93%,#00fbff 28.47%,#43ffbc 30.53%,#68ff97 32.21%,#7eff81 33.75%,#80ff7f 37.75%,#79ff86 38.65%,#5bffa4 40.07%,#54ffab 40.84%,#64ff9b 41.1%,#7f8 41.23%,#cbff34 41.61%,#f8ff07 41.87%,#fff600 42%,#ff4d00 44.19%,#ff4000 44.45%,#ff3f00 44.58%,#ff5700 44.96%,#fe0 46.64%,#fcff03 46.9%,#b0ff4f 48.18%,#81ff7e 49.86%,#76ff89 55.53%,#76ff89 64.03%,#7fff80 66.61%,#81ff7e 73.82%,#8dff72 74.08%,#9dff62 74.21%,#ebff14 74.59%,#fff900 74.72%,#ffa400 75.24%,#ff8200 75.5%,#f70 75.62%,#ff7000 75.88%,#ff9600 79.23%,#ffb400 79.62%,#fff700 80.13%,#f5ff0a 80.26%,#cfff30 80.52%,#91ff6e 80.91%,#09fff6 81.68%,#00f6ff 81.81%,#0062ff 83.1%,#0051ff 83.48%,#0050ff 84.13%,#0050ff 85.54%,#005bff 85.93%,#007eff 86.19%,#009cff 86.32%,#00c6ff 86.45%,#00f8ff 86.58%,#2cffd3 86.7%,#5fa 86.83%,#6fff90 86.96%,#7aff85 87.09%,#7fff80 87.35%,#80ff80 99.97%)"></i><i style="top:19px;height:20px;background:linear-gradient(90deg,#80ff80 0%,#84ff7b 22.03%,#7eff81 22.29%,#6dff92 22.55%,#04fffb 23.71%,#0094ff 25.38%,#0084ff 25.9%,#008bff 26.41%,#009fff 26.93%,#00faff 28.47%,#02fffd 28.6%,#43ffbc 30.53%,#68ff97 32.21%,#7dff82 33.75%,#7fff80 37.88%,#79ff86 38.65%,#59ffa6 40.2%,#5fa 40.84%,#64ff9b 41.1%,#7f8 41.23%,#cbff34 41.61%,#f8ff07 41.87%,#fff600 42%,#ff4d00 44.19%,#ff3d00 44.58%,#ff5300 44.96%,#ff0 46.9%,#b2ff4d 48.18%,#82ff7d 49.86%,#76ff89 55.66%,#76ff89 64.16%,#7fff80 66.61%,#80ff7f 73.69%,#86ff79 73.95%,#91ff6e 74.08%,#a3ff5c 74.21%,#f3ff0c 74.59%,#fff200 74.72%,#ff8c00 75.37%,#ff7400 75.62%,#ff6f00 75.88%,#ff9500 79.23%,#ffb500 79.62%,#fff800 80.13%,#f4ff0b 80.26%,#a6ff59 80.78%,#08fff7 81.68%,#00f4ff 81.81%,#0060ff 83.1%,#0050ff 83.48%,#004fff 84.13%,#004fff 85.54%,#0058ff 85.93%,#07f 86.19%,#0093ff 86.32%,#00baff 86.45%,#00ebff 86.58%,#20ffdf 86.7%,#4cffb3 86.83%,#69ff96 86.96%,#78ff87 87.09%,#7fff80 87.35%,#80ff80 99.97%)"></i><i style="top:0px;height:19px;background:linear-gradient(90deg,#80ff80 0%,#83ff7c 22.03%,#7dff82 22.29%,#6dff92 22.55%,#03fffc 23.71%,#0092ff 25.38%,#0082ff 25.9%,#0089ff 26.41%,#009dff 26.93%,#00f9ff 28.47%,#01fffe 28.6%,#42ffbd 30.53%,#67ff98 32.21%,#7cff83 33.75%,#7cff83 38.13%,#78ff87 38.65%,#5affa5 40.2%,#5fa 40.84%,#65ff9a 41.1%,#7f8 41.23%,#cbff34 41.61%,#f8ff07 41.87%,#fff600 42%,#ff4d00 44.19%,#ff3b00 44.58%,#ff4f00 44.96%,#fff100 46.77%,#f9ff06 47.02%,#afff50 48.31%,#8aff75 49.6%,#80ff7f 50.12%,#7fff80 52.82%,#76ff89 55.53%,#75ff8a 63.9%,#7fff80 66.61%,#80ff7f 73.69%,#8f7 73.95%,#95ff6a 74.08%,#af5 74.21%,#fbff04 74.59%,#ff8700 75.37%,#ff7200 75.62%,#ff6e00 75.88%,#ff9100 79.1%,#ffa800 79.49%,#fff900 80.13%,#f3ff0c 80.26%,#a4ff5b 80.78%,#07fff8 81.68%,#00f3ff 81.81%,#0087ff 82.71%,#005eff 83.1%,#004fff 83.48%,#004eff 84.13%,#004eff 85.67%,#05f 85.93%,#0071ff 86.19%,#008bff 86.32%,#00b0ff 86.45%,#00e0ff 86.58%,#15ffea 86.7%,#43ffbc 86.83%,#64ff9b 86.96%,#76ff89 87.09%,#7fff80 87.35%,#80ff80 99.97%)"></i></div>
<svg width="1355" height="1071" viewBox="0 0 1355 1071">
<rect x="97.0" y="63.0" width="388.1" height="772.6" fill="none" stroke="#485a48" stroke-width="1.5"/>
<rect x="514.9" y="63.0" width="388.1" height="772.6" fill="none" stroke="#485a48" stroke-width="1.5"/>
<rect x="932.5" y="63.0" width="388.1" height="772.6" fill="none" stroke="#485a48" stroke-width="1.5"/>
<rect x="708.9" y="368.3" width="72.8" height="7.5" fill="#32620a"/>
<rect x="1126.6" y="823.4" width="73" height="7.5" fill="#32620a"/>
<text transform="translate(96.6 30.8) scale(1.090 1)" font-size="33.6" text-anchor="start" font-weight="bold" fill="#000">A</text>
<text transform="translate(508.6 30.8) scale(1.030 1)" font-size="33.6" text-anchor="start" font-weight="bold" fill="#000">B</text>
<text transform="translate(933.0 30.8) scale(1.010 1)" font-size="33.6" text-anchor="start" font-weight="bold" fill="#000">C</text>
<text transform="translate(90.9 846.7) scale(0.985 1.02)" font-size="30.0" text-anchor="end" fill="#1c1c1c">0</text>
<text transform="translate(90.9 692.2) scale(0.985 1.02)" font-size="30.0" text-anchor="end" fill="#1c1c1c">20</text>
<text transform="translate(90.9 537.7) scale(0.985 1.02)" font-size="30.0" text-anchor="end" fill="#1c1c1c">40</text>
<text transform="translate(90.9 383.1) scale(0.985 1.02)" font-size="30.0" text-anchor="end" fill="#1c1c1c">60</text>
<text transform="translate(90.9 228.6) scale(0.985 1.02)" font-size="30.0" text-anchor="end" fill="#1c1c1c">80</text>
<text transform="translate(90.9 74.1) scale(0.985 1.02)" font-size="30.0" text-anchor="end" fill="#1c1c1c">100</text>
<text transform="translate(97.6 869.6) scale(0.985 1.02)" font-size="30.0" text-anchor="middle" fill="#1c1c1c">1250</text>
<text transform="translate(194.6 869.6) scale(0.985 1.02)" font-size="30.0" text-anchor="middle" fill="#1c1c1c">1450</text>
<text transform="translate(291.7 869.6) scale(0.985 1.02)" font-size="30.0" text-anchor="middle" fill="#1c1c1c">1650</text>
<text transform="translate(388.7 869.6) scale(0.985 1.02)" font-size="30.0" text-anchor="middle" fill="#1c1c1c">1850</text>
<text transform="translate(485.7 869.6) scale(0.985 1.02)" font-size="30.0" text-anchor="middle" fill="#1c1c1c">2050</text>
<text transform="translate(933.1 869.6) scale(0.985 1.02)" font-size="30.0" text-anchor="middle" fill="#1c1c1c">1250</text>
<text transform="translate(1030.1 869.6) scale(0.985 1.02)" font-size="30.0" text-anchor="middle" fill="#1c1c1c">1450</text>
<text transform="translate(1127.1 869.6) scale(0.985 1.02)" font-size="30.0" text-anchor="middle" fill="#1c1c1c">1650</text>
<text transform="translate(1224.2 869.6) scale(0.985 1.02)" font-size="30.0" text-anchor="middle" fill="#1c1c1c">1850</text>
<text transform="translate(1321.2 869.6) scale(0.985 1.02)" font-size="30.0" text-anchor="middle" fill="#1c1c1c">2050</text>
<text transform="translate(708.4 875.4) scale(1.057 1)" font-size="35.5" text-anchor="middle" fill="#1c1c1c">cross-shore [m]</text>
<text transform="translate(29.7 450.0) rotate(-90) scale(1.055 1)" font-size="35.5" text-anchor="middle" fill="#1c1c1c">time [day]</text>
<text transform="translate(158.4 154.0) scale(1.020 1)" font-size="37.6" text-anchor="start" fill="#000">SN</text>
<text transform="translate(575.6 154.2) scale(1.055 1)" font-size="36.2" text-anchor="start" fill="#000">Seed</text>
<text transform="translate(990.6 154.2) scale(1.055 1)" font-size="36.2" text-anchor="start" fill="#000">Plant</text>
<defs><linearGradient id="jet"><stop offset="0" stop-color="#000080"/><stop offset="0.125" stop-color="#00f"/><stop offset="0.375" stop-color="#0ff"/><stop offset="0.625" stop-color="#ff0"/><stop offset="0.875" stop-color="#f00"/><stop offset="1" stop-color="#800000"/></linearGradient></defs>
<rect x="97.5" y="907.8" width="1222.5" height="59.2" fill="url(#jet)" stroke="#141414" stroke-width="1.6"/>
<text transform="translate(97.7 1005.9) scale(0.965 1)" font-size="27.4" text-anchor="middle" fill="#1c1c1c">-2</text>
<path d="M250.3 967.0v-13" stroke="#10101c" stroke-width="1.7"/>
<text transform="translate(250.5 1005.9) scale(0.965 1)" font-size="27.4" text-anchor="middle" fill="#1c1c1c">-1.5</text>
<path d="M403.1 967.0v-13" stroke="#10101c" stroke-width="1.7"/>
<text transform="translate(403.3 1005.9) scale(0.965 1)" font-size="27.4" text-anchor="middle" fill="#1c1c1c">-1</text>
<path d="M555.9 967.0v-13" stroke="#10101c" stroke-width="1.7"/>
<text transform="translate(556.1 1005.9) scale(0.965 1)" font-size="27.4" text-anchor="middle" fill="#1c1c1c">-0.5</text>
<path d="M708.8 967.0v-13" stroke="#10101c" stroke-width="1.7"/>
<text transform="translate(709.0 1005.9) scale(0.965 1)" font-size="27.4" text-anchor="middle" fill="#1c1c1c">0</text>
<path d="M861.6 967.0v-13" stroke="#10101c" stroke-width="1.7"/>
<text transform="translate(861.8 1005.9) scale(0.965 1)" font-size="27.4" text-anchor="middle" fill="#1c1c1c">0.5</text>
<path d="M1014.4 967.0v-13" stroke="#10101c" stroke-width="1.7"/>
<text transform="translate(1014.6 1005.9) scale(0.965 1)" font-size="27.4" text-anchor="middle" fill="#1c1c1c">1</text>
<path d="M1167.2 967.0v-13" stroke="#10101c" stroke-width="1.7"/>
<text transform="translate(1167.4 1005.9) scale(0.965 1)" font-size="27.4" text-anchor="middle" fill="#1c1c1c">1.5</text>
<text transform="translate(1320.2 1005.9) scale(0.965 1)" font-size="27.4" text-anchor="middle" fill="#1c1c1c">2</text>
<text transform="translate(639.6 1048.8) scale(1.270 1)" font-size="38.0" text-anchor="start" style="font-family:'Liberation Serif',serif" fill="#1c1c1c">Δ</text>
<text transform="translate(680.6 1048.8) scale(1.065 1)" font-size="35.5" text-anchor="start" fill="#1c1c1c">z</text>
<text transform="translate(699.6 1067.2) scale(1.065 1)" font-size="28.4" text-anchor="start" fill="#1c1c1c">b</text>
<text transform="translate(727.4 1048.8) scale(1.065 1)" font-size="35.5" text-anchor="start" fill="#1c1c1c">[m]</text>
</svg>
</div>
</body></html>
